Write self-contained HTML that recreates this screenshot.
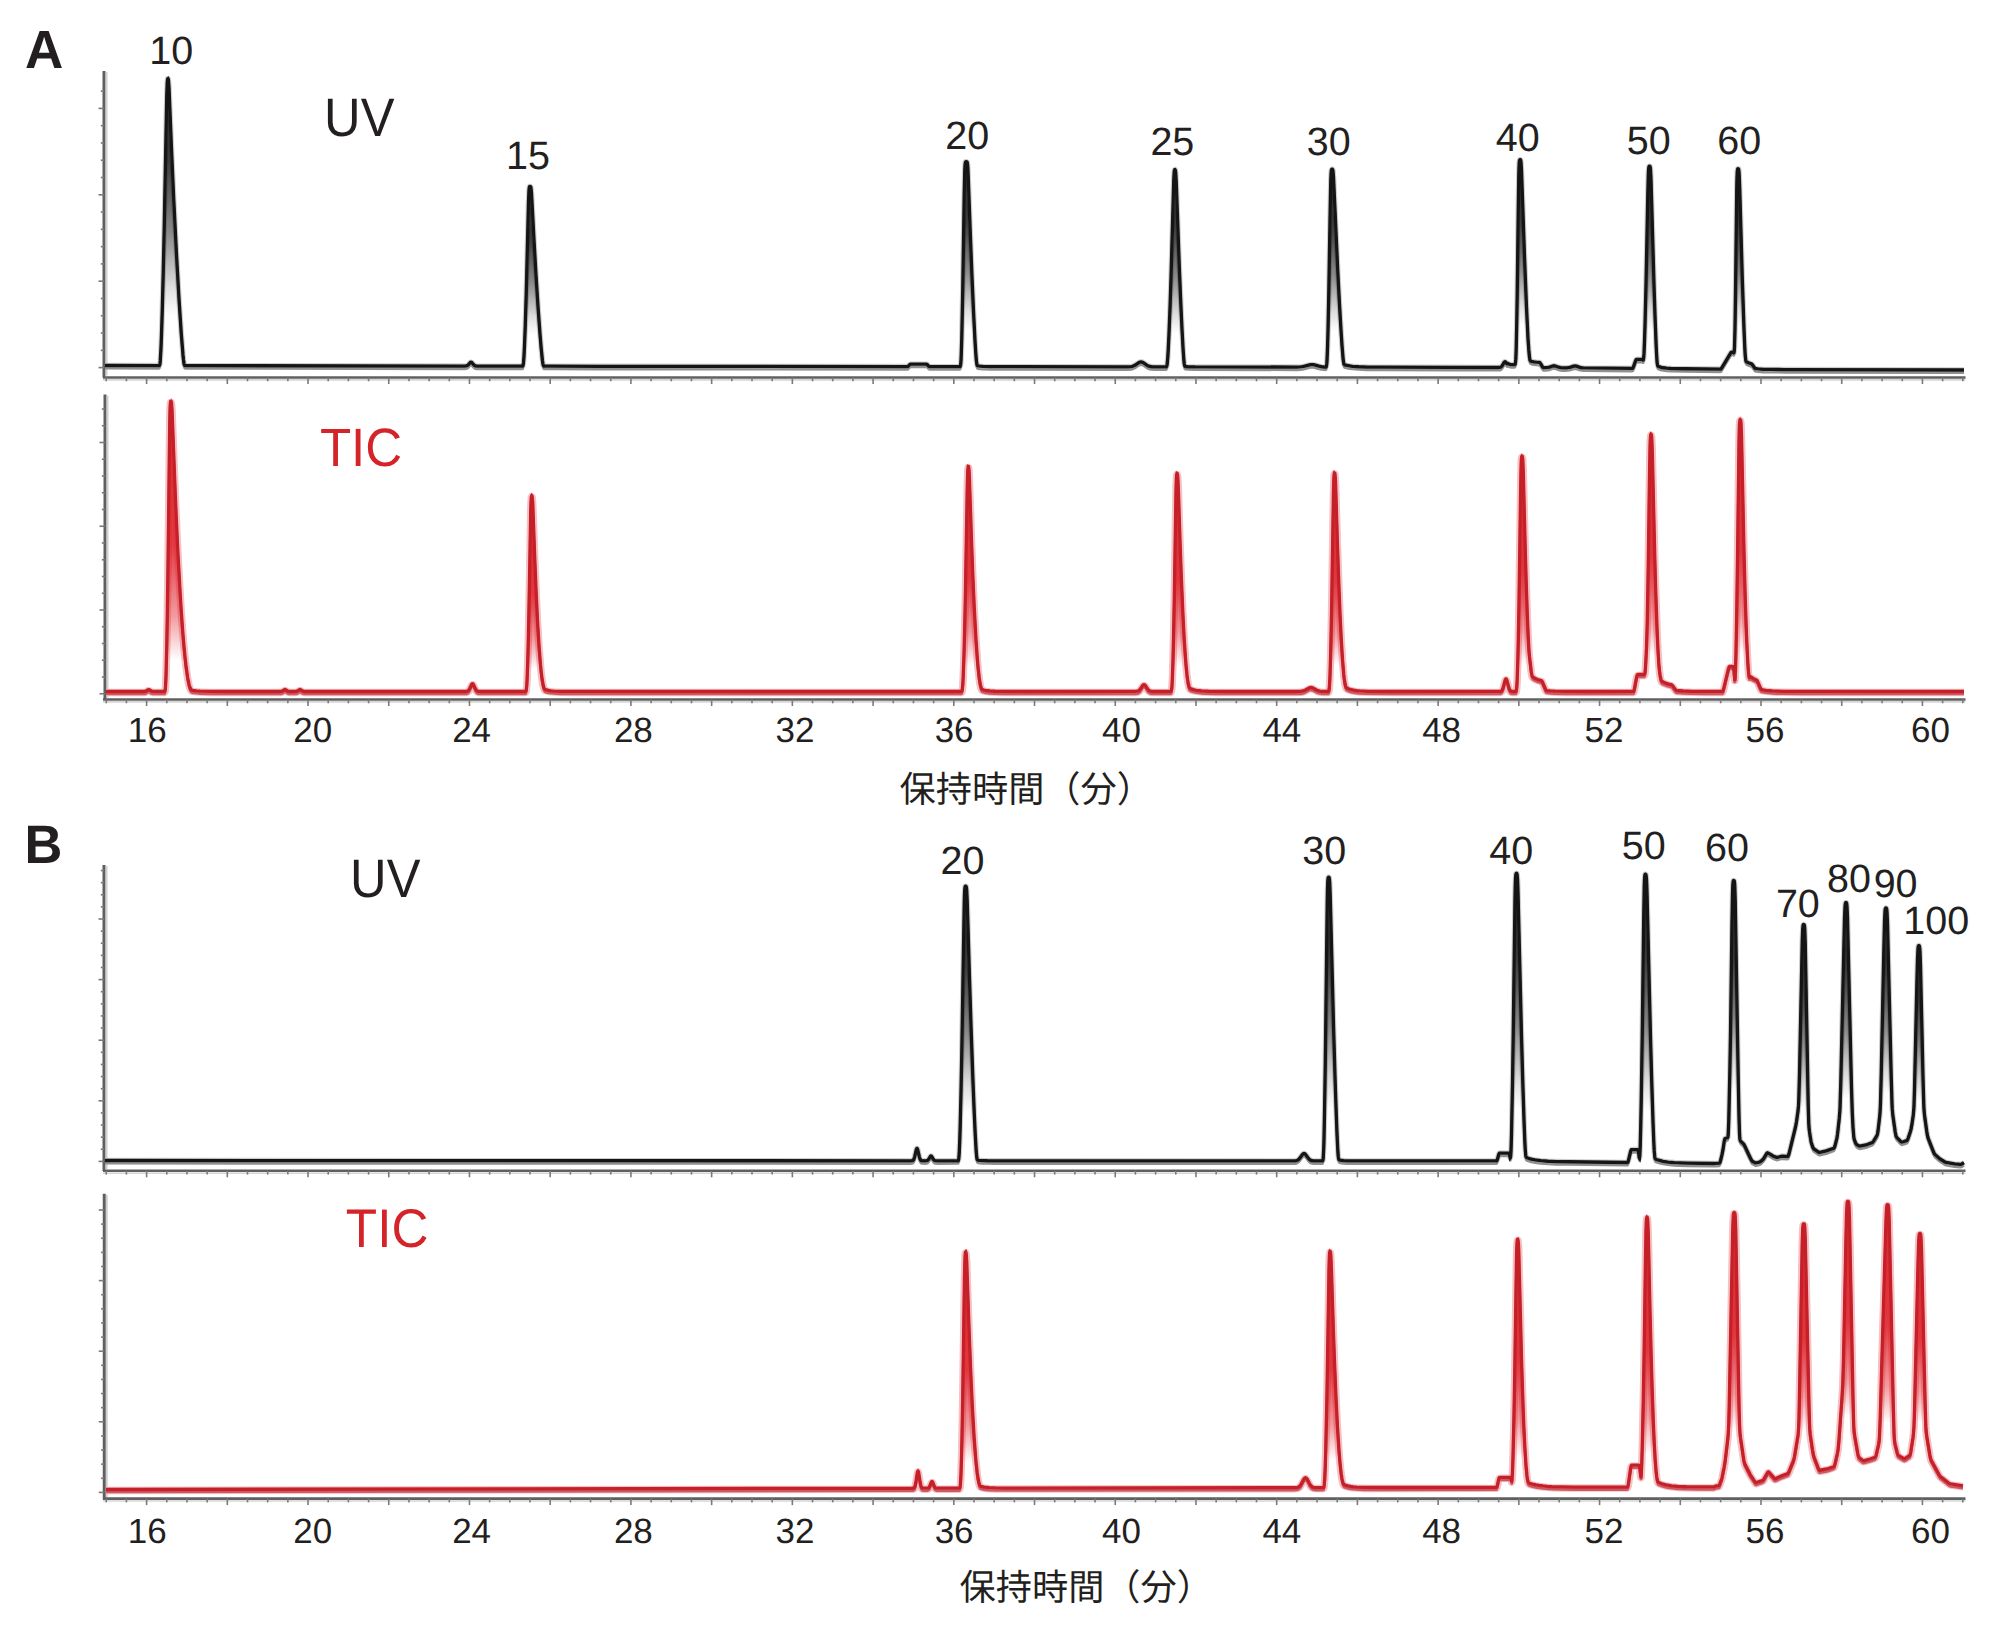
<!DOCTYPE html>
<html><head><meta charset="utf-8"><title>Chromatogram UV / TIC</title>
<style>
html,body{margin:0;padding:0;background:#fff;overflow:hidden;}
svg{display:block;}
text{text-rendering:geometricPrecision;}
.t,.tb{font-family:"Liberation Sans",sans-serif;fill:#231f20;}
.tb{font-weight:bold;}
.tj{font-family:"Liberation Sans","Noto Sans CJK JP",sans-serif;fill:#231f20;}
</style></head>
<body><svg width="2000" height="1640" viewBox="0 0 2000 1640">
<defs><linearGradient id="g1" x1="0" y1="0" x2="0" y2="1"><stop offset="0" stop-color="#2a2a2a" stop-opacity="1"/><stop offset="0.3" stop-color="#2a2a2a" stop-opacity="0.9"/><stop offset="0.55" stop-color="#2a2a2a" stop-opacity="0.55"/><stop offset="0.75" stop-color="#2a2a2a" stop-opacity="0.15"/><stop offset="0.85" stop-color="#2a2a2a" stop-opacity="0"/></linearGradient><linearGradient id="g2" x1="0" y1="0" x2="0" y2="1"><stop offset="0" stop-color="#2a2a2a" stop-opacity="1"/><stop offset="0.3" stop-color="#2a2a2a" stop-opacity="0.9"/><stop offset="0.55" stop-color="#2a2a2a" stop-opacity="0.55"/><stop offset="0.75" stop-color="#2a2a2a" stop-opacity="0.15"/><stop offset="0.85" stop-color="#2a2a2a" stop-opacity="0"/></linearGradient><linearGradient id="g3" x1="0" y1="0" x2="0" y2="1"><stop offset="0" stop-color="#2a2a2a" stop-opacity="1"/><stop offset="0.3" stop-color="#2a2a2a" stop-opacity="0.9"/><stop offset="0.55" stop-color="#2a2a2a" stop-opacity="0.55"/><stop offset="0.75" stop-color="#2a2a2a" stop-opacity="0.15"/><stop offset="0.85" stop-color="#2a2a2a" stop-opacity="0"/></linearGradient><linearGradient id="g4" x1="0" y1="0" x2="0" y2="1"><stop offset="0" stop-color="#2a2a2a" stop-opacity="1"/><stop offset="0.3" stop-color="#2a2a2a" stop-opacity="0.9"/><stop offset="0.55" stop-color="#2a2a2a" stop-opacity="0.55"/><stop offset="0.75" stop-color="#2a2a2a" stop-opacity="0.15"/><stop offset="0.85" stop-color="#2a2a2a" stop-opacity="0"/></linearGradient><linearGradient id="g5" x1="0" y1="0" x2="0" y2="1"><stop offset="0" stop-color="#2a2a2a" stop-opacity="1"/><stop offset="0.3" stop-color="#2a2a2a" stop-opacity="0.9"/><stop offset="0.55" stop-color="#2a2a2a" stop-opacity="0.55"/><stop offset="0.75" stop-color="#2a2a2a" stop-opacity="0.15"/><stop offset="0.85" stop-color="#2a2a2a" stop-opacity="0"/></linearGradient><linearGradient id="g6" x1="0" y1="0" x2="0" y2="1"><stop offset="0" stop-color="#2a2a2a" stop-opacity="1"/><stop offset="0.3" stop-color="#2a2a2a" stop-opacity="0.9"/><stop offset="0.55" stop-color="#2a2a2a" stop-opacity="0.55"/><stop offset="0.75" stop-color="#2a2a2a" stop-opacity="0.15"/><stop offset="0.85" stop-color="#2a2a2a" stop-opacity="0"/></linearGradient><linearGradient id="g7" x1="0" y1="0" x2="0" y2="1"><stop offset="0" stop-color="#2a2a2a" stop-opacity="1"/><stop offset="0.3" stop-color="#2a2a2a" stop-opacity="0.9"/><stop offset="0.55" stop-color="#2a2a2a" stop-opacity="0.55"/><stop offset="0.75" stop-color="#2a2a2a" stop-opacity="0.15"/><stop offset="0.85" stop-color="#2a2a2a" stop-opacity="0"/></linearGradient><linearGradient id="g8" x1="0" y1="0" x2="0" y2="1"><stop offset="0" stop-color="#2a2a2a" stop-opacity="1"/><stop offset="0.3" stop-color="#2a2a2a" stop-opacity="0.9"/><stop offset="0.55" stop-color="#2a2a2a" stop-opacity="0.55"/><stop offset="0.75" stop-color="#2a2a2a" stop-opacity="0.15"/><stop offset="0.85" stop-color="#2a2a2a" stop-opacity="0"/></linearGradient><linearGradient id="g9" x1="0" y1="0" x2="0" y2="1"><stop offset="0" stop-color="#e0262f" stop-opacity="1"/><stop offset="0.5" stop-color="#e0262f" stop-opacity="0.9"/><stop offset="0.75" stop-color="#e0262f" stop-opacity="0.45"/><stop offset="0.9" stop-color="#e0262f" stop-opacity="0"/></linearGradient><linearGradient id="g10" x1="0" y1="0" x2="0" y2="1"><stop offset="0" stop-color="#e0262f" stop-opacity="1"/><stop offset="0.5" stop-color="#e0262f" stop-opacity="0.9"/><stop offset="0.75" stop-color="#e0262f" stop-opacity="0.45"/><stop offset="0.9" stop-color="#e0262f" stop-opacity="0"/></linearGradient><linearGradient id="g11" x1="0" y1="0" x2="0" y2="1"><stop offset="0" stop-color="#e0262f" stop-opacity="1"/><stop offset="0.5" stop-color="#e0262f" stop-opacity="0.9"/><stop offset="0.75" stop-color="#e0262f" stop-opacity="0.45"/><stop offset="0.9" stop-color="#e0262f" stop-opacity="0"/></linearGradient><linearGradient id="g12" x1="0" y1="0" x2="0" y2="1"><stop offset="0" stop-color="#e0262f" stop-opacity="1"/><stop offset="0.5" stop-color="#e0262f" stop-opacity="0.9"/><stop offset="0.75" stop-color="#e0262f" stop-opacity="0.45"/><stop offset="0.9" stop-color="#e0262f" stop-opacity="0"/></linearGradient><linearGradient id="g13" x1="0" y1="0" x2="0" y2="1"><stop offset="0" stop-color="#e0262f" stop-opacity="1"/><stop offset="0.5" stop-color="#e0262f" stop-opacity="0.9"/><stop offset="0.75" stop-color="#e0262f" stop-opacity="0.45"/><stop offset="0.9" stop-color="#e0262f" stop-opacity="0"/></linearGradient><linearGradient id="g14" x1="0" y1="0" x2="0" y2="1"><stop offset="0" stop-color="#e0262f" stop-opacity="1"/><stop offset="0.5" stop-color="#e0262f" stop-opacity="0.9"/><stop offset="0.75" stop-color="#e0262f" stop-opacity="0.45"/><stop offset="0.9" stop-color="#e0262f" stop-opacity="0"/></linearGradient><linearGradient id="g15" x1="0" y1="0" x2="0" y2="1"><stop offset="0" stop-color="#e0262f" stop-opacity="1"/><stop offset="0.5" stop-color="#e0262f" stop-opacity="0.9"/><stop offset="0.75" stop-color="#e0262f" stop-opacity="0.45"/><stop offset="0.9" stop-color="#e0262f" stop-opacity="0"/></linearGradient><linearGradient id="g16" x1="0" y1="0" x2="0" y2="1"><stop offset="0" stop-color="#e0262f" stop-opacity="1"/><stop offset="0.5" stop-color="#e0262f" stop-opacity="0.9"/><stop offset="0.75" stop-color="#e0262f" stop-opacity="0.45"/><stop offset="0.9" stop-color="#e0262f" stop-opacity="0"/></linearGradient><linearGradient id="g17" x1="0" y1="0" x2="0" y2="1"><stop offset="0" stop-color="#2a2a2a" stop-opacity="1"/><stop offset="0.3" stop-color="#2a2a2a" stop-opacity="0.9"/><stop offset="0.55" stop-color="#2a2a2a" stop-opacity="0.55"/><stop offset="0.75" stop-color="#2a2a2a" stop-opacity="0.15"/><stop offset="0.85" stop-color="#2a2a2a" stop-opacity="0"/></linearGradient><linearGradient id="g18" x1="0" y1="0" x2="0" y2="1"><stop offset="0" stop-color="#2a2a2a" stop-opacity="1"/><stop offset="0.3" stop-color="#2a2a2a" stop-opacity="0.9"/><stop offset="0.55" stop-color="#2a2a2a" stop-opacity="0.55"/><stop offset="0.75" stop-color="#2a2a2a" stop-opacity="0.15"/><stop offset="0.85" stop-color="#2a2a2a" stop-opacity="0"/></linearGradient><linearGradient id="g19" x1="0" y1="0" x2="0" y2="1"><stop offset="0" stop-color="#2a2a2a" stop-opacity="1"/><stop offset="0.3" stop-color="#2a2a2a" stop-opacity="0.9"/><stop offset="0.55" stop-color="#2a2a2a" stop-opacity="0.55"/><stop offset="0.75" stop-color="#2a2a2a" stop-opacity="0.15"/><stop offset="0.85" stop-color="#2a2a2a" stop-opacity="0"/></linearGradient><linearGradient id="g20" x1="0" y1="0" x2="0" y2="1"><stop offset="0" stop-color="#2a2a2a" stop-opacity="1"/><stop offset="0.3" stop-color="#2a2a2a" stop-opacity="0.9"/><stop offset="0.55" stop-color="#2a2a2a" stop-opacity="0.55"/><stop offset="0.75" stop-color="#2a2a2a" stop-opacity="0.15"/><stop offset="0.85" stop-color="#2a2a2a" stop-opacity="0"/></linearGradient><linearGradient id="g21" x1="0" y1="0" x2="0" y2="1"><stop offset="0" stop-color="#2a2a2a" stop-opacity="1"/><stop offset="0.3" stop-color="#2a2a2a" stop-opacity="0.9"/><stop offset="0.55" stop-color="#2a2a2a" stop-opacity="0.55"/><stop offset="0.75" stop-color="#2a2a2a" stop-opacity="0.15"/><stop offset="0.85" stop-color="#2a2a2a" stop-opacity="0"/></linearGradient><linearGradient id="g22" x1="0" y1="0" x2="0" y2="1"><stop offset="0" stop-color="#2a2a2a" stop-opacity="1"/><stop offset="0.3" stop-color="#2a2a2a" stop-opacity="0.9"/><stop offset="0.55" stop-color="#2a2a2a" stop-opacity="0.55"/><stop offset="0.75" stop-color="#2a2a2a" stop-opacity="0.15"/><stop offset="0.85" stop-color="#2a2a2a" stop-opacity="0"/></linearGradient><linearGradient id="g23" x1="0" y1="0" x2="0" y2="1"><stop offset="0" stop-color="#2a2a2a" stop-opacity="1"/><stop offset="0.3" stop-color="#2a2a2a" stop-opacity="0.9"/><stop offset="0.55" stop-color="#2a2a2a" stop-opacity="0.55"/><stop offset="0.75" stop-color="#2a2a2a" stop-opacity="0.15"/><stop offset="0.85" stop-color="#2a2a2a" stop-opacity="0"/></linearGradient><linearGradient id="g24" x1="0" y1="0" x2="0" y2="1"><stop offset="0" stop-color="#2a2a2a" stop-opacity="1"/><stop offset="0.3" stop-color="#2a2a2a" stop-opacity="0.9"/><stop offset="0.55" stop-color="#2a2a2a" stop-opacity="0.55"/><stop offset="0.75" stop-color="#2a2a2a" stop-opacity="0.15"/><stop offset="0.85" stop-color="#2a2a2a" stop-opacity="0"/></linearGradient><linearGradient id="g25" x1="0" y1="0" x2="0" y2="1"><stop offset="0" stop-color="#2a2a2a" stop-opacity="1"/><stop offset="0.3" stop-color="#2a2a2a" stop-opacity="0.9"/><stop offset="0.55" stop-color="#2a2a2a" stop-opacity="0.55"/><stop offset="0.75" stop-color="#2a2a2a" stop-opacity="0.15"/><stop offset="0.85" stop-color="#2a2a2a" stop-opacity="0"/></linearGradient><linearGradient id="g26" x1="0" y1="0" x2="0" y2="1"><stop offset="0" stop-color="#e0262f" stop-opacity="1"/><stop offset="0.5" stop-color="#e0262f" stop-opacity="0.9"/><stop offset="0.75" stop-color="#e0262f" stop-opacity="0.45"/><stop offset="0.9" stop-color="#e0262f" stop-opacity="0"/></linearGradient><linearGradient id="g27" x1="0" y1="0" x2="0" y2="1"><stop offset="0" stop-color="#e0262f" stop-opacity="1"/><stop offset="0.5" stop-color="#e0262f" stop-opacity="0.9"/><stop offset="0.75" stop-color="#e0262f" stop-opacity="0.45"/><stop offset="0.9" stop-color="#e0262f" stop-opacity="0"/></linearGradient><linearGradient id="g28" x1="0" y1="0" x2="0" y2="1"><stop offset="0" stop-color="#e0262f" stop-opacity="1"/><stop offset="0.5" stop-color="#e0262f" stop-opacity="0.9"/><stop offset="0.75" stop-color="#e0262f" stop-opacity="0.45"/><stop offset="0.9" stop-color="#e0262f" stop-opacity="0"/></linearGradient><linearGradient id="g29" x1="0" y1="0" x2="0" y2="1"><stop offset="0" stop-color="#e0262f" stop-opacity="1"/><stop offset="0.5" stop-color="#e0262f" stop-opacity="0.9"/><stop offset="0.75" stop-color="#e0262f" stop-opacity="0.45"/><stop offset="0.9" stop-color="#e0262f" stop-opacity="0"/></linearGradient><linearGradient id="g30" x1="0" y1="0" x2="0" y2="1"><stop offset="0" stop-color="#e0262f" stop-opacity="1"/><stop offset="0.5" stop-color="#e0262f" stop-opacity="0.9"/><stop offset="0.75" stop-color="#e0262f" stop-opacity="0.45"/><stop offset="0.9" stop-color="#e0262f" stop-opacity="0"/></linearGradient><linearGradient id="g31" x1="0" y1="0" x2="0" y2="1"><stop offset="0" stop-color="#e0262f" stop-opacity="1"/><stop offset="0.5" stop-color="#e0262f" stop-opacity="0.9"/><stop offset="0.75" stop-color="#e0262f" stop-opacity="0.45"/><stop offset="0.9" stop-color="#e0262f" stop-opacity="0"/></linearGradient><linearGradient id="g32" x1="0" y1="0" x2="0" y2="1"><stop offset="0" stop-color="#e0262f" stop-opacity="1"/><stop offset="0.5" stop-color="#e0262f" stop-opacity="0.9"/><stop offset="0.75" stop-color="#e0262f" stop-opacity="0.45"/><stop offset="0.9" stop-color="#e0262f" stop-opacity="0"/></linearGradient><linearGradient id="g33" x1="0" y1="0" x2="0" y2="1"><stop offset="0" stop-color="#e0262f" stop-opacity="1"/><stop offset="0.5" stop-color="#e0262f" stop-opacity="0.9"/><stop offset="0.75" stop-color="#e0262f" stop-opacity="0.45"/><stop offset="0.9" stop-color="#e0262f" stop-opacity="0"/></linearGradient><linearGradient id="g34" x1="0" y1="0" x2="0" y2="1"><stop offset="0" stop-color="#e0262f" stop-opacity="1"/><stop offset="0.5" stop-color="#e0262f" stop-opacity="0.9"/><stop offset="0.75" stop-color="#e0262f" stop-opacity="0.45"/><stop offset="0.9" stop-color="#e0262f" stop-opacity="0"/></linearGradient></defs>
<rect width="2000" height="1640" fill="#fff"/>
<line x1="104" y1="71" x2="104" y2="377.5" stroke="#5f5f5f" stroke-width="3"/>
<line x1="106.6" y1="72" x2="106.6" y2="375.5" stroke="#cfcfcf" stroke-width="1.8"/>
<line x1="100.80" y1="91.12" x2="104" y2="91.12" stroke="#7a7a7a" stroke-width="1.6"/>
<line x1="98.50" y1="108.40" x2="104" y2="108.40" stroke="#7a7a7a" stroke-width="1.6"/>
<line x1="100.80" y1="125.68" x2="104" y2="125.68" stroke="#7a7a7a" stroke-width="1.6"/>
<line x1="100.80" y1="142.96" x2="104" y2="142.96" stroke="#7a7a7a" stroke-width="1.6"/>
<line x1="100.80" y1="160.24" x2="104" y2="160.24" stroke="#7a7a7a" stroke-width="1.6"/>
<line x1="100.80" y1="177.52" x2="104" y2="177.52" stroke="#7a7a7a" stroke-width="1.6"/>
<line x1="98.50" y1="194.80" x2="104" y2="194.80" stroke="#7a7a7a" stroke-width="1.6"/>
<line x1="100.80" y1="212.08" x2="104" y2="212.08" stroke="#7a7a7a" stroke-width="1.6"/>
<line x1="100.80" y1="229.36" x2="104" y2="229.36" stroke="#7a7a7a" stroke-width="1.6"/>
<line x1="100.80" y1="246.64" x2="104" y2="246.64" stroke="#7a7a7a" stroke-width="1.6"/>
<line x1="100.80" y1="263.92" x2="104" y2="263.92" stroke="#7a7a7a" stroke-width="1.6"/>
<line x1="98.50" y1="281.20" x2="104" y2="281.20" stroke="#7a7a7a" stroke-width="1.6"/>
<line x1="100.80" y1="298.48" x2="104" y2="298.48" stroke="#7a7a7a" stroke-width="1.6"/>
<line x1="100.80" y1="315.76" x2="104" y2="315.76" stroke="#7a7a7a" stroke-width="1.6"/>
<line x1="100.80" y1="333.04" x2="104" y2="333.04" stroke="#7a7a7a" stroke-width="1.6"/>
<line x1="100.80" y1="350.32" x2="104" y2="350.32" stroke="#7a7a7a" stroke-width="1.6"/>
<line x1="98.50" y1="367.60" x2="104" y2="367.60" stroke="#7a7a7a" stroke-width="1.6"/>
<line x1="103" y1="377.5" x2="1965.5" y2="377.5" stroke="#5f5f5f" stroke-width="2.6"/>
<line x1="103" y1="379.9" x2="1965.5" y2="379.9" stroke="#d6d6d6" stroke-width="1.6"/>
<line x1="106.24" y1="377.5" x2="106.24" y2="381.3" stroke="#7a7a7a" stroke-width="1.6"/>
<line x1="126.42" y1="377.5" x2="126.42" y2="381.3" stroke="#7a7a7a" stroke-width="1.6"/>
<line x1="146.60" y1="377.5" x2="146.60" y2="384.0" stroke="#7a7a7a" stroke-width="1.6"/>
<line x1="166.78" y1="377.5" x2="166.78" y2="381.3" stroke="#7a7a7a" stroke-width="1.6"/>
<line x1="186.96" y1="377.5" x2="186.96" y2="381.3" stroke="#7a7a7a" stroke-width="1.6"/>
<line x1="207.14" y1="377.5" x2="207.14" y2="381.3" stroke="#7a7a7a" stroke-width="1.6"/>
<line x1="227.32" y1="377.5" x2="227.32" y2="384.0" stroke="#7a7a7a" stroke-width="1.6"/>
<line x1="247.50" y1="377.5" x2="247.50" y2="381.3" stroke="#7a7a7a" stroke-width="1.6"/>
<line x1="267.68" y1="377.5" x2="267.68" y2="381.3" stroke="#7a7a7a" stroke-width="1.6"/>
<line x1="287.86" y1="377.5" x2="287.86" y2="381.3" stroke="#7a7a7a" stroke-width="1.6"/>
<line x1="308.04" y1="377.5" x2="308.04" y2="384.0" stroke="#7a7a7a" stroke-width="1.6"/>
<line x1="328.22" y1="377.5" x2="328.22" y2="381.3" stroke="#7a7a7a" stroke-width="1.6"/>
<line x1="348.40" y1="377.5" x2="348.40" y2="381.3" stroke="#7a7a7a" stroke-width="1.6"/>
<line x1="368.58" y1="377.5" x2="368.58" y2="381.3" stroke="#7a7a7a" stroke-width="1.6"/>
<line x1="388.76" y1="377.5" x2="388.76" y2="384.0" stroke="#7a7a7a" stroke-width="1.6"/>
<line x1="408.94" y1="377.5" x2="408.94" y2="381.3" stroke="#7a7a7a" stroke-width="1.6"/>
<line x1="429.12" y1="377.5" x2="429.12" y2="381.3" stroke="#7a7a7a" stroke-width="1.6"/>
<line x1="449.30" y1="377.5" x2="449.30" y2="381.3" stroke="#7a7a7a" stroke-width="1.6"/>
<line x1="469.48" y1="377.5" x2="469.48" y2="384.0" stroke="#7a7a7a" stroke-width="1.6"/>
<line x1="489.66" y1="377.5" x2="489.66" y2="381.3" stroke="#7a7a7a" stroke-width="1.6"/>
<line x1="509.84" y1="377.5" x2="509.84" y2="381.3" stroke="#7a7a7a" stroke-width="1.6"/>
<line x1="530.02" y1="377.5" x2="530.02" y2="381.3" stroke="#7a7a7a" stroke-width="1.6"/>
<line x1="550.20" y1="377.5" x2="550.20" y2="384.0" stroke="#7a7a7a" stroke-width="1.6"/>
<line x1="570.38" y1="377.5" x2="570.38" y2="381.3" stroke="#7a7a7a" stroke-width="1.6"/>
<line x1="590.56" y1="377.5" x2="590.56" y2="381.3" stroke="#7a7a7a" stroke-width="1.6"/>
<line x1="610.74" y1="377.5" x2="610.74" y2="381.3" stroke="#7a7a7a" stroke-width="1.6"/>
<line x1="630.92" y1="377.5" x2="630.92" y2="384.0" stroke="#7a7a7a" stroke-width="1.6"/>
<line x1="651.10" y1="377.5" x2="651.10" y2="381.3" stroke="#7a7a7a" stroke-width="1.6"/>
<line x1="671.28" y1="377.5" x2="671.28" y2="381.3" stroke="#7a7a7a" stroke-width="1.6"/>
<line x1="691.46" y1="377.5" x2="691.46" y2="381.3" stroke="#7a7a7a" stroke-width="1.6"/>
<line x1="711.64" y1="377.5" x2="711.64" y2="384.0" stroke="#7a7a7a" stroke-width="1.6"/>
<line x1="731.82" y1="377.5" x2="731.82" y2="381.3" stroke="#7a7a7a" stroke-width="1.6"/>
<line x1="752.00" y1="377.5" x2="752.00" y2="381.3" stroke="#7a7a7a" stroke-width="1.6"/>
<line x1="772.18" y1="377.5" x2="772.18" y2="381.3" stroke="#7a7a7a" stroke-width="1.6"/>
<line x1="792.36" y1="377.5" x2="792.36" y2="384.0" stroke="#7a7a7a" stroke-width="1.6"/>
<line x1="812.54" y1="377.5" x2="812.54" y2="381.3" stroke="#7a7a7a" stroke-width="1.6"/>
<line x1="832.72" y1="377.5" x2="832.72" y2="381.3" stroke="#7a7a7a" stroke-width="1.6"/>
<line x1="852.90" y1="377.5" x2="852.90" y2="381.3" stroke="#7a7a7a" stroke-width="1.6"/>
<line x1="873.08" y1="377.5" x2="873.08" y2="384.0" stroke="#7a7a7a" stroke-width="1.6"/>
<line x1="893.26" y1="377.5" x2="893.26" y2="381.3" stroke="#7a7a7a" stroke-width="1.6"/>
<line x1="913.44" y1="377.5" x2="913.44" y2="381.3" stroke="#7a7a7a" stroke-width="1.6"/>
<line x1="933.62" y1="377.5" x2="933.62" y2="381.3" stroke="#7a7a7a" stroke-width="1.6"/>
<line x1="953.80" y1="377.5" x2="953.80" y2="384.0" stroke="#7a7a7a" stroke-width="1.6"/>
<line x1="973.98" y1="377.5" x2="973.98" y2="381.3" stroke="#7a7a7a" stroke-width="1.6"/>
<line x1="994.16" y1="377.5" x2="994.16" y2="381.3" stroke="#7a7a7a" stroke-width="1.6"/>
<line x1="1014.34" y1="377.5" x2="1014.34" y2="381.3" stroke="#7a7a7a" stroke-width="1.6"/>
<line x1="1034.52" y1="377.5" x2="1034.52" y2="384.0" stroke="#7a7a7a" stroke-width="1.6"/>
<line x1="1054.70" y1="377.5" x2="1054.70" y2="381.3" stroke="#7a7a7a" stroke-width="1.6"/>
<line x1="1074.88" y1="377.5" x2="1074.88" y2="381.3" stroke="#7a7a7a" stroke-width="1.6"/>
<line x1="1095.06" y1="377.5" x2="1095.06" y2="381.3" stroke="#7a7a7a" stroke-width="1.6"/>
<line x1="1115.24" y1="377.5" x2="1115.24" y2="384.0" stroke="#7a7a7a" stroke-width="1.6"/>
<line x1="1135.42" y1="377.5" x2="1135.42" y2="381.3" stroke="#7a7a7a" stroke-width="1.6"/>
<line x1="1155.60" y1="377.5" x2="1155.60" y2="381.3" stroke="#7a7a7a" stroke-width="1.6"/>
<line x1="1175.78" y1="377.5" x2="1175.78" y2="381.3" stroke="#7a7a7a" stroke-width="1.6"/>
<line x1="1195.96" y1="377.5" x2="1195.96" y2="384.0" stroke="#7a7a7a" stroke-width="1.6"/>
<line x1="1216.14" y1="377.5" x2="1216.14" y2="381.3" stroke="#7a7a7a" stroke-width="1.6"/>
<line x1="1236.32" y1="377.5" x2="1236.32" y2="381.3" stroke="#7a7a7a" stroke-width="1.6"/>
<line x1="1256.50" y1="377.5" x2="1256.50" y2="381.3" stroke="#7a7a7a" stroke-width="1.6"/>
<line x1="1276.68" y1="377.5" x2="1276.68" y2="384.0" stroke="#7a7a7a" stroke-width="1.6"/>
<line x1="1296.86" y1="377.5" x2="1296.86" y2="381.3" stroke="#7a7a7a" stroke-width="1.6"/>
<line x1="1317.04" y1="377.5" x2="1317.04" y2="381.3" stroke="#7a7a7a" stroke-width="1.6"/>
<line x1="1337.22" y1="377.5" x2="1337.22" y2="381.3" stroke="#7a7a7a" stroke-width="1.6"/>
<line x1="1357.40" y1="377.5" x2="1357.40" y2="384.0" stroke="#7a7a7a" stroke-width="1.6"/>
<line x1="1377.58" y1="377.5" x2="1377.58" y2="381.3" stroke="#7a7a7a" stroke-width="1.6"/>
<line x1="1397.76" y1="377.5" x2="1397.76" y2="381.3" stroke="#7a7a7a" stroke-width="1.6"/>
<line x1="1417.94" y1="377.5" x2="1417.94" y2="381.3" stroke="#7a7a7a" stroke-width="1.6"/>
<line x1="1438.12" y1="377.5" x2="1438.12" y2="384.0" stroke="#7a7a7a" stroke-width="1.6"/>
<line x1="1458.30" y1="377.5" x2="1458.30" y2="381.3" stroke="#7a7a7a" stroke-width="1.6"/>
<line x1="1478.48" y1="377.5" x2="1478.48" y2="381.3" stroke="#7a7a7a" stroke-width="1.6"/>
<line x1="1498.66" y1="377.5" x2="1498.66" y2="381.3" stroke="#7a7a7a" stroke-width="1.6"/>
<line x1="1518.84" y1="377.5" x2="1518.84" y2="384.0" stroke="#7a7a7a" stroke-width="1.6"/>
<line x1="1539.02" y1="377.5" x2="1539.02" y2="381.3" stroke="#7a7a7a" stroke-width="1.6"/>
<line x1="1559.20" y1="377.5" x2="1559.20" y2="381.3" stroke="#7a7a7a" stroke-width="1.6"/>
<line x1="1579.38" y1="377.5" x2="1579.38" y2="381.3" stroke="#7a7a7a" stroke-width="1.6"/>
<line x1="1599.56" y1="377.5" x2="1599.56" y2="384.0" stroke="#7a7a7a" stroke-width="1.6"/>
<line x1="1619.74" y1="377.5" x2="1619.74" y2="381.3" stroke="#7a7a7a" stroke-width="1.6"/>
<line x1="1639.92" y1="377.5" x2="1639.92" y2="381.3" stroke="#7a7a7a" stroke-width="1.6"/>
<line x1="1660.10" y1="377.5" x2="1660.10" y2="381.3" stroke="#7a7a7a" stroke-width="1.6"/>
<line x1="1680.28" y1="377.5" x2="1680.28" y2="384.0" stroke="#7a7a7a" stroke-width="1.6"/>
<line x1="1700.46" y1="377.5" x2="1700.46" y2="381.3" stroke="#7a7a7a" stroke-width="1.6"/>
<line x1="1720.64" y1="377.5" x2="1720.64" y2="381.3" stroke="#7a7a7a" stroke-width="1.6"/>
<line x1="1740.82" y1="377.5" x2="1740.82" y2="381.3" stroke="#7a7a7a" stroke-width="1.6"/>
<line x1="1761.00" y1="377.5" x2="1761.00" y2="384.0" stroke="#7a7a7a" stroke-width="1.6"/>
<line x1="1781.18" y1="377.5" x2="1781.18" y2="381.3" stroke="#7a7a7a" stroke-width="1.6"/>
<line x1="1801.36" y1="377.5" x2="1801.36" y2="381.3" stroke="#7a7a7a" stroke-width="1.6"/>
<line x1="1821.54" y1="377.5" x2="1821.54" y2="381.3" stroke="#7a7a7a" stroke-width="1.6"/>
<line x1="1841.72" y1="377.5" x2="1841.72" y2="384.0" stroke="#7a7a7a" stroke-width="1.6"/>
<line x1="1861.90" y1="377.5" x2="1861.90" y2="381.3" stroke="#7a7a7a" stroke-width="1.6"/>
<line x1="1882.08" y1="377.5" x2="1882.08" y2="381.3" stroke="#7a7a7a" stroke-width="1.6"/>
<line x1="1902.26" y1="377.5" x2="1902.26" y2="381.3" stroke="#7a7a7a" stroke-width="1.6"/>
<line x1="1922.44" y1="377.5" x2="1922.44" y2="384.0" stroke="#7a7a7a" stroke-width="1.6"/>
<line x1="1942.62" y1="377.5" x2="1942.62" y2="381.3" stroke="#7a7a7a" stroke-width="1.6"/>
<line x1="1962.80" y1="377.5" x2="1962.80" y2="381.3" stroke="#7a7a7a" stroke-width="1.6"/>
<path d="M105.00 365.50 L158.75 365.58 L159.25 365.49 L159.50 365.24 L159.75 364.59 L160.00 363.25 L160.25 360.93 L161.00 347.69 L161.50 334.69 L162.25 310.69 L163.25 271.93 L164.25 226.68 L166.75 96.10 L167.25 82.34 L167.50 79.70 L167.75 78.70 L168.00 78.55 L168.25 79.04 L168.50 80.41 L169.00 87.31 L171.50 149.04 L173.75 199.46 L176.50 254.53 L179.00 298.83 L181.25 333.27 L183.00 354.97 L183.50 359.79 L184.00 363.33 L184.25 364.42 L184.50 365.07 L184.75 365.38 L185.25 365.55 L198.75 365.65 L464.50 366.07 L466.25 365.94 L467.25 365.58 L468.25 364.79 L470.00 362.73 L470.50 362.35 L471.00 362.21 L471.50 362.35 L472.00 362.74 L473.75 364.80 L474.50 365.44 L475.50 365.89 L476.50 366.05 L521.50 366.17 L522.50 366.11 L522.75 365.93 L523.00 365.44 L523.25 364.38 L523.50 362.48 L524.00 355.80 L524.50 345.72 L525.25 326.00 L526.25 293.14 L528.50 201.94 L529.00 190.11 L529.25 187.73 L529.50 186.77 L529.75 186.48 L530.00 186.42 L530.50 186.56 L530.75 186.98 L531.00 188.01 L531.50 193.17 L534.00 240.18 L536.00 274.99 L538.00 306.42 L540.00 334.10 L541.25 348.97 L542.50 360.95 L543.00 364.11 L543.25 365.09 L543.50 365.67 L543.75 365.95 L544.00 366.07 L551.75 366.21 L599.75 366.30 L906.75 366.61 L907.50 366.57 L908.00 366.39 L908.50 365.95 L909.75 364.52 L910.50 364.15 L925.50 364.13 L926.50 364.16 L927.00 364.35 L927.50 364.79 L928.75 366.22 L929.25 366.53 L929.75 366.62 L959.75 366.64 L960.00 366.56 L960.25 366.26 L960.50 365.44 L960.75 363.60 L961.00 360.20 L961.25 354.92 L961.75 338.76 L962.75 289.82 L964.25 193.05 L964.75 170.85 L965.00 165.50 L965.25 162.99 L965.50 162.08 L965.75 161.82 L966.25 161.75 L966.75 161.79 L967.00 161.95 L967.25 162.47 L967.50 163.80 L967.75 166.45 L968.00 170.71 L970.50 238.86 L972.00 276.94 L973.50 311.17 L975.00 340.65 L975.75 352.87 L976.50 361.90 L977.00 364.81 L977.25 365.40 L977.75 365.80 L980.00 366.19 L983.00 366.45 L992.25 366.67 L1128.25 366.81 L1131.00 366.62 L1132.25 366.38 L1133.25 366.07 L1135.25 365.06 L1139.00 362.46 L1140.00 362.04 L1141.00 361.89 L1142.00 362.04 L1143.00 362.47 L1146.50 364.91 L1147.75 365.65 L1149.00 366.18 L1150.50 366.57 L1152.00 366.76 L1154.00 366.85 L1165.00 366.89 L1166.00 366.87 L1166.25 366.80 L1166.50 366.59 L1166.75 366.06 L1167.00 365.02 L1167.25 363.28 L1167.75 357.60 L1168.25 349.45 L1169.00 333.88 L1170.00 308.23 L1171.00 277.97 L1173.75 180.42 L1174.00 175.04 L1174.25 171.80 L1174.50 170.23 L1174.75 169.65 L1175.00 169.58 L1175.25 169.91 L1175.50 170.91 L1175.75 173.07 L1176.25 182.13 L1179.25 265.68 L1180.75 302.22 L1182.00 329.11 L1183.00 347.61 L1183.75 358.77 L1184.25 363.69 L1184.50 365.10 L1184.75 365.90 L1185.00 366.28 L1185.50 366.51 L1187.75 366.73 L1195.00 366.92 L1296.75 367.06 L1300.00 366.94 L1302.50 366.67 L1304.75 366.21 L1309.50 364.90 L1310.75 364.69 L1312.00 364.61 L1313.25 364.69 L1314.50 364.91 L1319.00 366.17 L1321.25 366.66 L1324.25 366.99 L1325.50 367.05 L1326.00 366.96 L1326.25 366.64 L1326.50 365.78 L1326.75 363.90 L1327.00 360.54 L1327.50 348.68 L1328.00 330.79 L1328.75 295.78 L1330.25 206.18 L1330.75 181.64 L1331.00 174.72 L1331.25 171.15 L1331.50 169.71 L1331.75 169.27 L1332.00 169.18 L1332.25 169.19 L1332.50 169.34 L1332.75 169.83 L1333.00 171.04 L1333.50 177.09 L1337.75 270.53 L1339.50 304.44 L1341.00 330.25 L1342.00 345.27 L1343.00 357.62 L1343.50 361.86 L1343.75 363.20 L1344.00 364.02 L1344.25 364.46 L1344.50 364.67 L1345.00 364.87 L1347.25 365.43 L1349.75 365.90 L1352.50 366.27 L1358.75 366.76 L1367.25 367.04 L1383.75 367.19 L1450.00 367.30 L1497.25 367.52 L1499.75 367.43 L1500.75 367.11 L1501.25 366.78 L1501.75 366.29 L1502.50 365.20 L1504.00 362.52 L1504.50 361.94 L1504.75 361.79 L1505.00 361.74 L1505.50 361.95 L1506.75 363.60 L1507.00 363.79 L1507.25 363.82 L1508.00 363.52 L1508.25 363.55 L1509.50 364.27 L1510.75 364.54 L1514.75 364.56 L1515.00 364.42 L1515.25 363.92 L1515.50 362.58 L1515.75 359.67 L1516.00 354.52 L1516.25 346.74 L1516.75 323.43 L1517.25 291.32 L1518.25 210.45 L1518.75 176.91 L1519.00 167.36 L1519.25 162.42 L1519.50 160.43 L1519.75 159.82 L1520.00 159.69 L1520.25 159.71 L1520.50 159.90 L1520.75 160.54 L1521.00 162.13 L1521.50 170.07 L1524.50 256.44 L1526.50 307.17 L1528.00 338.44 L1528.75 349.17 L1529.50 357.30 L1530.00 360.12 L1530.25 360.69 L1530.50 360.96 L1531.50 361.34 L1533.75 361.83 L1536.25 362.18 L1539.25 362.44 L1539.75 362.59 L1540.00 362.77 L1540.50 363.38 L1542.50 366.70 L1543.00 367.31 L1543.25 367.47 L1543.75 367.60 L1545.00 367.63 L1547.75 367.47 L1549.50 367.07 L1552.50 366.01 L1554.00 365.79 L1555.50 366.03 L1558.75 367.22 L1560.50 367.61 L1563.00 367.80 L1567.00 367.78 L1569.50 367.47 L1570.75 367.12 L1573.50 366.13 L1575.00 365.91 L1576.50 366.14 L1579.25 367.16 L1580.50 367.53 L1581.75 367.75 L1583.50 367.88 L1632.25 368.28 L1632.75 368.07 L1633.25 367.33 L1635.50 360.92 L1636.00 359.86 L1636.25 359.57 L1636.50 359.43 L1637.00 359.35 L1642.00 359.41 L1642.50 359.56 L1643.00 360.01 L1643.25 359.95 L1643.50 359.11 L1643.75 357.02 L1644.00 353.38 L1644.50 341.61 L1645.00 325.46 L1646.00 285.08 L1647.75 196.78 L1648.25 176.43 L1648.50 170.73 L1648.75 167.79 L1649.00 166.61 L1649.25 166.25 L1649.50 166.18 L1649.75 166.22 L1650.00 166.47 L1650.25 167.27 L1650.50 169.25 L1651.00 179.17 L1654.00 284.85 L1655.00 315.40 L1656.00 341.83 L1656.50 352.73 L1657.00 360.80 L1657.25 363.33 L1657.50 364.88 L1657.75 365.68 L1658.00 366.07 L1658.25 366.26 L1660.50 367.12 L1663.25 367.76 L1666.75 368.21 L1671.00 368.49 L1684.00 368.77 L1720.50 369.08 L1721.00 368.84 L1721.75 367.85 L1730.75 352.78 L1731.25 352.36 L1731.75 352.25 L1733.00 352.27 L1733.25 352.33 L1733.75 352.67 L1734.00 352.52 L1734.25 351.14 L1734.50 347.31 L1735.00 328.53 L1735.50 294.34 L1736.75 188.40 L1737.00 177.49 L1737.25 171.83 L1737.50 169.55 L1737.75 168.84 L1738.00 168.69 L1738.25 168.72 L1738.50 168.96 L1738.75 169.75 L1739.00 171.70 L1739.25 175.50 L1739.75 189.16 L1742.25 277.39 L1744.00 329.17 L1744.75 346.95 L1745.25 355.54 L1745.75 360.17 L1746.00 361.13 L1746.25 361.57 L1746.75 361.93 L1748.50 362.81 L1751.75 364.02 L1752.50 364.81 L1754.50 367.79 L1755.25 368.51 L1756.00 368.72 L1758.00 368.95 L1763.25 369.29 L1771.00 369.47 L1784.25 369.55 L1964.00 370.00" fill="none" stroke="#cdcdcd" stroke-width="5.5" stroke-linejoin="round"/>
<path d="M160.50 357.52 L161.00 347.69 L161.75 327.23 L163.25 271.93 L164.50 214.46 L166.75 96.10 L167.25 82.34 L167.50 79.70 L167.75 78.70 L168.00 78.55 L168.25 79.04 L168.50 80.41 L169.00 87.31 L173.00 183.25 L175.00 225.31 L177.25 268.41 L180.50 322.46 L182.00 343.26 L183.25 357.50 Z" fill="url(#g1)" stroke="none"/>
<path d="M523.75 359.62 L524.75 339.69 L525.75 310.41 L528.75 194.74 L529.25 187.73 L529.50 186.77 L529.75 186.48 L530.00 186.42 L530.50 186.56 L530.75 186.98 L531.00 188.01 L531.50 193.17 L534.75 253.63 L537.50 298.89 L540.25 337.25 L541.50 351.65 L542.50 360.95 Z" fill="url(#g2)" stroke="none"/>
<path d="M961.00 360.20 L961.75 338.76 L962.50 303.71 L964.50 180.04 L965.00 165.50 L965.25 162.99 L965.50 162.08 L965.75 161.82 L966.00 161.76 L966.75 161.79 L967.00 161.95 L967.25 162.47 L967.50 163.80 L967.75 166.45 L968.00 170.71 L970.75 245.45 L972.75 294.57 L974.75 336.14 L975.50 349.05 L976.25 359.42 Z" fill="url(#g3)" stroke="none"/>
<path d="M1167.25 363.28 L1167.75 357.60 L1168.50 344.66 L1170.00 308.23 L1171.50 261.31 L1173.75 180.42 L1174.25 171.80 L1174.50 170.23 L1174.75 169.65 L1175.00 169.58 L1175.25 169.91 L1175.50 170.91 L1175.75 173.07 L1176.25 182.13 L1178.50 245.86 L1180.50 296.44 L1182.25 334.02 L1183.75 358.77 Z" fill="url(#g4)" stroke="none"/>
<path d="M1327.00 360.54 L1327.75 340.38 L1328.50 308.38 L1330.75 181.64 L1331.25 171.15 L1331.50 169.71 L1331.75 169.27 L1332.00 169.18 L1332.50 169.34 L1332.75 169.83 L1333.00 171.04 L1333.50 177.09 L1336.75 249.62 L1339.00 295.13 L1341.25 334.20 L1342.25 348.67 L1343.00 357.62 Z" fill="url(#g5)" stroke="none"/>
<path d="M1516.00 354.52 L1516.50 336.31 L1517.00 308.35 L1518.75 176.91 L1519.25 162.42 L1519.50 160.43 L1519.75 159.82 L1520.00 159.69 L1520.50 159.90 L1520.75 160.54 L1521.00 162.13 L1521.50 170.07 L1524.25 249.58 L1526.25 301.27 L1527.75 334.01 L1528.50 345.93 L1529.25 354.96 Z" fill="url(#g6)" stroke="none"/>
<path d="M1643.50 359.11 L1644.00 353.38 L1644.25 348.18 L1645.25 316.26 L1646.25 273.61 L1647.75 196.78 L1648.25 176.43 L1648.75 167.79 L1649.00 166.61 L1649.25 166.25 L1649.50 166.18 L1649.75 166.22 L1650.00 166.47 L1650.25 167.27 L1650.50 169.25 L1651.00 179.17 L1654.50 300.56 L1655.75 335.70 L1656.75 357.22 Z" fill="url(#g7)" stroke="none"/>
<path d="M1734.50 347.31 L1734.75 339.95 L1735.25 313.14 L1736.75 188.40 L1737.25 171.83 L1737.50 169.55 L1737.75 168.84 L1738.00 168.69 L1738.25 168.72 L1738.50 168.96 L1738.75 169.75 L1739.00 171.70 L1739.50 181.44 L1743.00 300.91 L1744.25 335.53 L1745.25 355.54 Z" fill="url(#g8)" stroke="none"/>
<path d="M105.00 368.40 L158.75 368.48 L159.25 368.39 L159.50 368.14 L159.75 367.49 L160.00 366.15 L160.25 363.83 L161.00 350.59 L161.50 337.59 L162.25 313.59 L163.25 274.83 L164.25 229.58 L166.75 99.00 L167.25 85.24 L167.50 82.60 L167.75 81.60 L168.00 81.45 L168.25 81.94 L168.50 83.31 L169.00 90.21 L171.50 151.94 L173.75 202.36 L176.50 257.43 L179.00 301.73 L181.25 336.17 L183.00 357.87 L183.50 362.69 L184.00 366.23 L184.25 367.32 L184.50 367.97 L184.75 368.28 L185.25 368.45 L198.75 368.55 L464.50 368.97 L466.25 368.84 L467.25 368.48 L468.25 367.69 L470.00 365.63 L470.50 365.25 L471.00 365.11 L471.50 365.25 L472.00 365.64 L473.75 367.70 L474.50 368.34 L475.50 368.79 L476.50 368.95 L521.50 369.07 L522.50 369.01 L522.75 368.83 L523.00 368.34 L523.25 367.28 L523.50 365.38 L524.00 358.70 L524.50 348.62 L525.25 328.90 L526.25 296.04 L528.50 204.84 L529.00 193.01 L529.25 190.63 L529.50 189.67 L529.75 189.38 L530.00 189.32 L530.50 189.46 L530.75 189.88 L531.00 190.91 L531.50 196.07 L534.00 243.08 L536.00 277.89 L538.00 309.32 L540.00 337.00 L541.25 351.87 L542.50 363.85 L543.00 367.01 L543.25 367.99 L543.50 368.57 L543.75 368.85 L544.00 368.97 L551.75 369.11 L599.75 369.20 L906.75 369.51 L907.50 369.47 L908.00 369.29 L908.50 368.85 L909.75 367.42 L910.50 367.05 L925.50 367.03 L926.50 367.06 L927.00 367.25 L927.50 367.69 L928.75 369.12 L929.25 369.43 L929.75 369.52 L959.75 369.54 L960.00 369.46 L960.25 369.16 L960.50 368.34 L960.75 366.50 L961.00 363.10 L961.25 357.82 L961.75 341.66 L962.75 292.72 L964.25 195.95 L964.75 173.75 L965.00 168.40 L965.25 165.89 L965.50 164.98 L965.75 164.72 L966.25 164.65 L966.75 164.69 L967.00 164.85 L967.25 165.37 L967.50 166.70 L967.75 169.35 L968.00 173.61 L970.50 241.76 L972.00 279.84 L973.50 314.07 L975.00 343.55 L975.75 355.77 L976.50 364.80 L977.00 367.71 L977.25 368.30 L977.75 368.70 L980.00 369.09 L983.00 369.35 L992.25 369.57 L1128.25 369.71 L1131.00 369.52 L1132.25 369.28 L1133.25 368.97 L1135.25 367.96 L1139.00 365.36 L1140.00 364.94 L1141.00 364.79 L1142.00 364.94 L1143.00 365.37 L1146.50 367.81 L1147.75 368.55 L1149.00 369.08 L1150.50 369.47 L1152.00 369.66 L1154.00 369.75 L1165.00 369.79 L1166.00 369.77 L1166.25 369.70 L1166.50 369.49 L1166.75 368.96 L1167.00 367.92 L1167.25 366.18 L1167.75 360.50 L1168.25 352.35 L1169.00 336.78 L1170.00 311.13 L1171.00 280.87 L1173.75 183.32 L1174.00 177.94 L1174.25 174.70 L1174.50 173.13 L1174.75 172.55 L1175.00 172.48 L1175.25 172.81 L1175.50 173.81 L1175.75 175.97 L1176.25 185.03 L1179.25 268.58 L1180.75 305.12 L1182.00 332.01 L1183.00 350.51 L1183.75 361.67 L1184.25 366.59 L1184.50 368.00 L1184.75 368.80 L1185.00 369.18 L1185.50 369.41 L1187.75 369.63 L1195.00 369.82 L1296.75 369.96 L1300.00 369.84 L1302.50 369.57 L1304.75 369.11 L1309.50 367.80 L1310.75 367.59 L1312.00 367.51 L1313.25 367.59 L1314.50 367.81 L1319.00 369.07 L1321.25 369.56 L1324.25 369.89 L1325.50 369.95 L1326.00 369.86 L1326.25 369.54 L1326.50 368.68 L1326.75 366.80 L1327.00 363.44 L1327.50 351.58 L1328.00 333.69 L1328.75 298.68 L1330.25 209.08 L1330.75 184.54 L1331.00 177.62 L1331.25 174.05 L1331.50 172.61 L1331.75 172.17 L1332.00 172.08 L1332.25 172.09 L1332.50 172.24 L1332.75 172.73 L1333.00 173.94 L1333.50 179.99 L1337.75 273.43 L1339.50 307.34 L1341.00 333.15 L1342.00 348.17 L1343.00 360.52 L1343.50 364.76 L1343.75 366.10 L1344.00 366.92 L1344.25 367.36 L1344.50 367.57 L1345.00 367.77 L1347.25 368.33 L1349.75 368.80 L1352.50 369.17 L1358.75 369.66 L1367.25 369.94 L1383.75 370.09 L1450.00 370.20 L1497.25 370.42 L1499.75 370.33 L1500.75 370.01 L1501.25 369.68 L1501.75 369.19 L1502.50 368.10 L1504.00 365.42 L1504.50 364.84 L1504.75 364.69 L1505.00 364.64 L1505.50 364.85 L1506.75 366.50 L1507.00 366.69 L1507.25 366.72 L1508.00 366.42 L1508.25 366.45 L1509.50 367.17 L1510.75 367.44 L1514.75 367.46 L1515.00 367.32 L1515.25 366.82 L1515.50 365.48 L1515.75 362.57 L1516.00 357.42 L1516.25 349.64 L1516.75 326.33 L1517.25 294.22 L1518.25 213.35 L1518.75 179.81 L1519.00 170.26 L1519.25 165.32 L1519.50 163.33 L1519.75 162.72 L1520.00 162.59 L1520.25 162.61 L1520.50 162.80 L1520.75 163.44 L1521.00 165.03 L1521.50 172.97 L1524.50 259.34 L1526.50 310.07 L1528.00 341.34 L1528.75 352.07 L1529.50 360.20 L1530.00 363.02 L1530.25 363.59 L1530.50 363.86 L1531.50 364.24 L1533.75 364.73 L1536.25 365.08 L1539.25 365.34 L1539.75 365.49 L1540.00 365.67 L1540.50 366.28 L1542.50 369.60 L1543.00 370.21 L1543.25 370.37 L1543.75 370.50 L1545.00 370.53 L1547.75 370.37 L1549.50 369.97 L1552.50 368.91 L1554.00 368.69 L1555.50 368.93 L1558.75 370.12 L1560.50 370.51 L1563.00 370.70 L1567.00 370.68 L1569.50 370.37 L1570.75 370.02 L1573.50 369.03 L1575.00 368.81 L1576.50 369.04 L1579.25 370.06 L1580.50 370.43 L1581.75 370.65 L1583.50 370.78 L1632.25 371.18 L1632.75 370.97 L1633.25 370.23 L1635.50 363.82 L1636.00 362.76 L1636.25 362.47 L1636.50 362.33 L1637.00 362.25 L1642.00 362.31 L1642.50 362.46 L1643.00 362.91 L1643.25 362.85 L1643.50 362.01 L1643.75 359.92 L1644.00 356.28 L1644.50 344.51 L1645.00 328.36 L1646.00 287.98 L1647.75 199.68 L1648.25 179.33 L1648.50 173.63 L1648.75 170.69 L1649.00 169.51 L1649.25 169.15 L1649.50 169.08 L1649.75 169.12 L1650.00 169.37 L1650.25 170.17 L1650.50 172.15 L1651.00 182.07 L1654.00 287.75 L1655.00 318.30 L1656.00 344.73 L1656.50 355.63 L1657.00 363.70 L1657.25 366.23 L1657.50 367.78 L1657.75 368.58 L1658.00 368.97 L1658.25 369.16 L1660.50 370.02 L1663.25 370.66 L1666.75 371.11 L1671.00 371.39 L1684.00 371.67 L1720.50 371.98 L1721.00 371.74 L1721.75 370.75 L1730.75 355.68 L1731.25 355.26 L1731.75 355.15 L1733.00 355.17 L1733.25 355.23 L1733.75 355.57 L1734.00 355.42 L1734.25 354.04 L1734.50 350.21 L1735.00 331.43 L1735.50 297.24 L1736.75 191.30 L1737.00 180.39 L1737.25 174.73 L1737.50 172.45 L1737.75 171.74 L1738.00 171.59 L1738.25 171.62 L1738.50 171.86 L1738.75 172.65 L1739.00 174.60 L1739.25 178.40 L1739.75 192.06 L1742.25 280.29 L1744.00 332.07 L1744.75 349.85 L1745.25 358.44 L1745.75 363.07 L1746.00 364.03 L1746.25 364.47 L1746.75 364.83 L1748.50 365.71 L1751.75 366.92 L1752.50 367.71 L1754.50 370.69 L1755.25 371.41 L1756.00 371.62 L1758.00 371.85 L1763.25 372.19 L1771.00 372.37 L1784.25 372.45 L1964.00 372.90" fill="none" stroke="#8f8f8f" stroke-width="2.4" stroke-linejoin="round"/>
<path d="M105.00 365.50 L158.75 365.58 L159.25 365.49 L159.50 365.24 L159.75 364.59 L160.00 363.25 L160.25 360.93 L161.00 347.69 L161.50 334.69 L162.25 310.69 L163.25 271.93 L164.25 226.68 L166.75 96.10 L167.25 82.34 L167.50 79.70 L167.75 78.70 L168.00 78.55 L168.25 79.04 L168.50 80.41 L169.00 87.31 L171.50 149.04 L173.75 199.46 L176.50 254.53 L179.00 298.83 L181.25 333.27 L183.00 354.97 L183.50 359.79 L184.00 363.33 L184.25 364.42 L184.50 365.07 L184.75 365.38 L185.25 365.55 L198.75 365.65 L464.50 366.07 L466.25 365.94 L467.25 365.58 L468.25 364.79 L470.00 362.73 L470.50 362.35 L471.00 362.21 L471.50 362.35 L472.00 362.74 L473.75 364.80 L474.50 365.44 L475.50 365.89 L476.50 366.05 L521.50 366.17 L522.50 366.11 L522.75 365.93 L523.00 365.44 L523.25 364.38 L523.50 362.48 L524.00 355.80 L524.50 345.72 L525.25 326.00 L526.25 293.14 L528.50 201.94 L529.00 190.11 L529.25 187.73 L529.50 186.77 L529.75 186.48 L530.00 186.42 L530.50 186.56 L530.75 186.98 L531.00 188.01 L531.50 193.17 L534.00 240.18 L536.00 274.99 L538.00 306.42 L540.00 334.10 L541.25 348.97 L542.50 360.95 L543.00 364.11 L543.25 365.09 L543.50 365.67 L543.75 365.95 L544.00 366.07 L551.75 366.21 L599.75 366.30 L906.75 366.61 L907.50 366.57 L908.00 366.39 L908.50 365.95 L909.75 364.52 L910.50 364.15 L925.50 364.13 L926.50 364.16 L927.00 364.35 L927.50 364.79 L928.75 366.22 L929.25 366.53 L929.75 366.62 L959.75 366.64 L960.00 366.56 L960.25 366.26 L960.50 365.44 L960.75 363.60 L961.00 360.20 L961.25 354.92 L961.75 338.76 L962.75 289.82 L964.25 193.05 L964.75 170.85 L965.00 165.50 L965.25 162.99 L965.50 162.08 L965.75 161.82 L966.25 161.75 L966.75 161.79 L967.00 161.95 L967.25 162.47 L967.50 163.80 L967.75 166.45 L968.00 170.71 L970.50 238.86 L972.00 276.94 L973.50 311.17 L975.00 340.65 L975.75 352.87 L976.50 361.90 L977.00 364.81 L977.25 365.40 L977.75 365.80 L980.00 366.19 L983.00 366.45 L992.25 366.67 L1128.25 366.81 L1131.00 366.62 L1132.25 366.38 L1133.25 366.07 L1135.25 365.06 L1139.00 362.46 L1140.00 362.04 L1141.00 361.89 L1142.00 362.04 L1143.00 362.47 L1146.50 364.91 L1147.75 365.65 L1149.00 366.18 L1150.50 366.57 L1152.00 366.76 L1154.00 366.85 L1165.00 366.89 L1166.00 366.87 L1166.25 366.80 L1166.50 366.59 L1166.75 366.06 L1167.00 365.02 L1167.25 363.28 L1167.75 357.60 L1168.25 349.45 L1169.00 333.88 L1170.00 308.23 L1171.00 277.97 L1173.75 180.42 L1174.00 175.04 L1174.25 171.80 L1174.50 170.23 L1174.75 169.65 L1175.00 169.58 L1175.25 169.91 L1175.50 170.91 L1175.75 173.07 L1176.25 182.13 L1179.25 265.68 L1180.75 302.22 L1182.00 329.11 L1183.00 347.61 L1183.75 358.77 L1184.25 363.69 L1184.50 365.10 L1184.75 365.90 L1185.00 366.28 L1185.50 366.51 L1187.75 366.73 L1195.00 366.92 L1296.75 367.06 L1300.00 366.94 L1302.50 366.67 L1304.75 366.21 L1309.50 364.90 L1310.75 364.69 L1312.00 364.61 L1313.25 364.69 L1314.50 364.91 L1319.00 366.17 L1321.25 366.66 L1324.25 366.99 L1325.50 367.05 L1326.00 366.96 L1326.25 366.64 L1326.50 365.78 L1326.75 363.90 L1327.00 360.54 L1327.50 348.68 L1328.00 330.79 L1328.75 295.78 L1330.25 206.18 L1330.75 181.64 L1331.00 174.72 L1331.25 171.15 L1331.50 169.71 L1331.75 169.27 L1332.00 169.18 L1332.25 169.19 L1332.50 169.34 L1332.75 169.83 L1333.00 171.04 L1333.50 177.09 L1337.75 270.53 L1339.50 304.44 L1341.00 330.25 L1342.00 345.27 L1343.00 357.62 L1343.50 361.86 L1343.75 363.20 L1344.00 364.02 L1344.25 364.46 L1344.50 364.67 L1345.00 364.87 L1347.25 365.43 L1349.75 365.90 L1352.50 366.27 L1358.75 366.76 L1367.25 367.04 L1383.75 367.19 L1450.00 367.30 L1497.25 367.52 L1499.75 367.43 L1500.75 367.11 L1501.25 366.78 L1501.75 366.29 L1502.50 365.20 L1504.00 362.52 L1504.50 361.94 L1504.75 361.79 L1505.00 361.74 L1505.50 361.95 L1506.75 363.60 L1507.00 363.79 L1507.25 363.82 L1508.00 363.52 L1508.25 363.55 L1509.50 364.27 L1510.75 364.54 L1514.75 364.56 L1515.00 364.42 L1515.25 363.92 L1515.50 362.58 L1515.75 359.67 L1516.00 354.52 L1516.25 346.74 L1516.75 323.43 L1517.25 291.32 L1518.25 210.45 L1518.75 176.91 L1519.00 167.36 L1519.25 162.42 L1519.50 160.43 L1519.75 159.82 L1520.00 159.69 L1520.25 159.71 L1520.50 159.90 L1520.75 160.54 L1521.00 162.13 L1521.50 170.07 L1524.50 256.44 L1526.50 307.17 L1528.00 338.44 L1528.75 349.17 L1529.50 357.30 L1530.00 360.12 L1530.25 360.69 L1530.50 360.96 L1531.50 361.34 L1533.75 361.83 L1536.25 362.18 L1539.25 362.44 L1539.75 362.59 L1540.00 362.77 L1540.50 363.38 L1542.50 366.70 L1543.00 367.31 L1543.25 367.47 L1543.75 367.60 L1545.00 367.63 L1547.75 367.47 L1549.50 367.07 L1552.50 366.01 L1554.00 365.79 L1555.50 366.03 L1558.75 367.22 L1560.50 367.61 L1563.00 367.80 L1567.00 367.78 L1569.50 367.47 L1570.75 367.12 L1573.50 366.13 L1575.00 365.91 L1576.50 366.14 L1579.25 367.16 L1580.50 367.53 L1581.75 367.75 L1583.50 367.88 L1632.25 368.28 L1632.75 368.07 L1633.25 367.33 L1635.50 360.92 L1636.00 359.86 L1636.25 359.57 L1636.50 359.43 L1637.00 359.35 L1642.00 359.41 L1642.50 359.56 L1643.00 360.01 L1643.25 359.95 L1643.50 359.11 L1643.75 357.02 L1644.00 353.38 L1644.50 341.61 L1645.00 325.46 L1646.00 285.08 L1647.75 196.78 L1648.25 176.43 L1648.50 170.73 L1648.75 167.79 L1649.00 166.61 L1649.25 166.25 L1649.50 166.18 L1649.75 166.22 L1650.00 166.47 L1650.25 167.27 L1650.50 169.25 L1651.00 179.17 L1654.00 284.85 L1655.00 315.40 L1656.00 341.83 L1656.50 352.73 L1657.00 360.80 L1657.25 363.33 L1657.50 364.88 L1657.75 365.68 L1658.00 366.07 L1658.25 366.26 L1660.50 367.12 L1663.25 367.76 L1666.75 368.21 L1671.00 368.49 L1684.00 368.77 L1720.50 369.08 L1721.00 368.84 L1721.75 367.85 L1730.75 352.78 L1731.25 352.36 L1731.75 352.25 L1733.00 352.27 L1733.25 352.33 L1733.75 352.67 L1734.00 352.52 L1734.25 351.14 L1734.50 347.31 L1735.00 328.53 L1735.50 294.34 L1736.75 188.40 L1737.00 177.49 L1737.25 171.83 L1737.50 169.55 L1737.75 168.84 L1738.00 168.69 L1738.25 168.72 L1738.50 168.96 L1738.75 169.75 L1739.00 171.70 L1739.25 175.50 L1739.75 189.16 L1742.25 277.39 L1744.00 329.17 L1744.75 346.95 L1745.25 355.54 L1745.75 360.17 L1746.00 361.13 L1746.25 361.57 L1746.75 361.93 L1748.50 362.81 L1751.75 364.02 L1752.50 364.81 L1754.50 367.79 L1755.25 368.51 L1756.00 368.72 L1758.00 368.95 L1763.25 369.29 L1771.00 369.47 L1784.25 369.55 L1964.00 370.00" fill="none" stroke="#151515" stroke-width="3.3" stroke-linejoin="miter" stroke-miterlimit="3"/>
<line x1="105" y1="394.5" x2="105" y2="699.5" stroke="#5f5f5f" stroke-width="3"/>
<line x1="107.6" y1="395.5" x2="107.6" y2="697.5" stroke="#cfcfcf" stroke-width="1.8"/>
<line x1="101.80" y1="409.00" x2="105" y2="409.00" stroke="#7a7a7a" stroke-width="1.6"/>
<line x1="101.80" y1="425.75" x2="105" y2="425.75" stroke="#7a7a7a" stroke-width="1.6"/>
<line x1="99.50" y1="442.50" x2="105" y2="442.50" stroke="#7a7a7a" stroke-width="1.6"/>
<line x1="101.80" y1="459.25" x2="105" y2="459.25" stroke="#7a7a7a" stroke-width="1.6"/>
<line x1="101.80" y1="476.00" x2="105" y2="476.00" stroke="#7a7a7a" stroke-width="1.6"/>
<line x1="101.80" y1="492.75" x2="105" y2="492.75" stroke="#7a7a7a" stroke-width="1.6"/>
<line x1="101.80" y1="509.50" x2="105" y2="509.50" stroke="#7a7a7a" stroke-width="1.6"/>
<line x1="99.50" y1="526.25" x2="105" y2="526.25" stroke="#7a7a7a" stroke-width="1.6"/>
<line x1="101.80" y1="543.00" x2="105" y2="543.00" stroke="#7a7a7a" stroke-width="1.6"/>
<line x1="101.80" y1="559.75" x2="105" y2="559.75" stroke="#7a7a7a" stroke-width="1.6"/>
<line x1="101.80" y1="576.50" x2="105" y2="576.50" stroke="#7a7a7a" stroke-width="1.6"/>
<line x1="101.80" y1="593.25" x2="105" y2="593.25" stroke="#7a7a7a" stroke-width="1.6"/>
<line x1="99.50" y1="610.00" x2="105" y2="610.00" stroke="#7a7a7a" stroke-width="1.6"/>
<line x1="101.80" y1="626.75" x2="105" y2="626.75" stroke="#7a7a7a" stroke-width="1.6"/>
<line x1="101.80" y1="643.50" x2="105" y2="643.50" stroke="#7a7a7a" stroke-width="1.6"/>
<line x1="101.80" y1="660.25" x2="105" y2="660.25" stroke="#7a7a7a" stroke-width="1.6"/>
<line x1="101.80" y1="677.00" x2="105" y2="677.00" stroke="#7a7a7a" stroke-width="1.6"/>
<line x1="99.50" y1="693.75" x2="105" y2="693.75" stroke="#7a7a7a" stroke-width="1.6"/>
<line x1="103" y1="699.5" x2="1965.5" y2="699.5" stroke="#5f5f5f" stroke-width="2.6"/>
<line x1="103" y1="701.9" x2="1965.5" y2="701.9" stroke="#d6d6d6" stroke-width="1.6"/>
<line x1="106.24" y1="699.5" x2="106.24" y2="703.3" stroke="#7a7a7a" stroke-width="1.6"/>
<line x1="126.42" y1="699.5" x2="126.42" y2="703.3" stroke="#7a7a7a" stroke-width="1.6"/>
<line x1="146.60" y1="699.5" x2="146.60" y2="706.0" stroke="#7a7a7a" stroke-width="1.6"/>
<line x1="166.78" y1="699.5" x2="166.78" y2="703.3" stroke="#7a7a7a" stroke-width="1.6"/>
<line x1="186.96" y1="699.5" x2="186.96" y2="703.3" stroke="#7a7a7a" stroke-width="1.6"/>
<line x1="207.14" y1="699.5" x2="207.14" y2="703.3" stroke="#7a7a7a" stroke-width="1.6"/>
<line x1="227.32" y1="699.5" x2="227.32" y2="706.0" stroke="#7a7a7a" stroke-width="1.6"/>
<line x1="247.50" y1="699.5" x2="247.50" y2="703.3" stroke="#7a7a7a" stroke-width="1.6"/>
<line x1="267.68" y1="699.5" x2="267.68" y2="703.3" stroke="#7a7a7a" stroke-width="1.6"/>
<line x1="287.86" y1="699.5" x2="287.86" y2="703.3" stroke="#7a7a7a" stroke-width="1.6"/>
<line x1="308.04" y1="699.5" x2="308.04" y2="706.0" stroke="#7a7a7a" stroke-width="1.6"/>
<line x1="328.22" y1="699.5" x2="328.22" y2="703.3" stroke="#7a7a7a" stroke-width="1.6"/>
<line x1="348.40" y1="699.5" x2="348.40" y2="703.3" stroke="#7a7a7a" stroke-width="1.6"/>
<line x1="368.58" y1="699.5" x2="368.58" y2="703.3" stroke="#7a7a7a" stroke-width="1.6"/>
<line x1="388.76" y1="699.5" x2="388.76" y2="706.0" stroke="#7a7a7a" stroke-width="1.6"/>
<line x1="408.94" y1="699.5" x2="408.94" y2="703.3" stroke="#7a7a7a" stroke-width="1.6"/>
<line x1="429.12" y1="699.5" x2="429.12" y2="703.3" stroke="#7a7a7a" stroke-width="1.6"/>
<line x1="449.30" y1="699.5" x2="449.30" y2="703.3" stroke="#7a7a7a" stroke-width="1.6"/>
<line x1="469.48" y1="699.5" x2="469.48" y2="706.0" stroke="#7a7a7a" stroke-width="1.6"/>
<line x1="489.66" y1="699.5" x2="489.66" y2="703.3" stroke="#7a7a7a" stroke-width="1.6"/>
<line x1="509.84" y1="699.5" x2="509.84" y2="703.3" stroke="#7a7a7a" stroke-width="1.6"/>
<line x1="530.02" y1="699.5" x2="530.02" y2="703.3" stroke="#7a7a7a" stroke-width="1.6"/>
<line x1="550.20" y1="699.5" x2="550.20" y2="706.0" stroke="#7a7a7a" stroke-width="1.6"/>
<line x1="570.38" y1="699.5" x2="570.38" y2="703.3" stroke="#7a7a7a" stroke-width="1.6"/>
<line x1="590.56" y1="699.5" x2="590.56" y2="703.3" stroke="#7a7a7a" stroke-width="1.6"/>
<line x1="610.74" y1="699.5" x2="610.74" y2="703.3" stroke="#7a7a7a" stroke-width="1.6"/>
<line x1="630.92" y1="699.5" x2="630.92" y2="706.0" stroke="#7a7a7a" stroke-width="1.6"/>
<line x1="651.10" y1="699.5" x2="651.10" y2="703.3" stroke="#7a7a7a" stroke-width="1.6"/>
<line x1="671.28" y1="699.5" x2="671.28" y2="703.3" stroke="#7a7a7a" stroke-width="1.6"/>
<line x1="691.46" y1="699.5" x2="691.46" y2="703.3" stroke="#7a7a7a" stroke-width="1.6"/>
<line x1="711.64" y1="699.5" x2="711.64" y2="706.0" stroke="#7a7a7a" stroke-width="1.6"/>
<line x1="731.82" y1="699.5" x2="731.82" y2="703.3" stroke="#7a7a7a" stroke-width="1.6"/>
<line x1="752.00" y1="699.5" x2="752.00" y2="703.3" stroke="#7a7a7a" stroke-width="1.6"/>
<line x1="772.18" y1="699.5" x2="772.18" y2="703.3" stroke="#7a7a7a" stroke-width="1.6"/>
<line x1="792.36" y1="699.5" x2="792.36" y2="706.0" stroke="#7a7a7a" stroke-width="1.6"/>
<line x1="812.54" y1="699.5" x2="812.54" y2="703.3" stroke="#7a7a7a" stroke-width="1.6"/>
<line x1="832.72" y1="699.5" x2="832.72" y2="703.3" stroke="#7a7a7a" stroke-width="1.6"/>
<line x1="852.90" y1="699.5" x2="852.90" y2="703.3" stroke="#7a7a7a" stroke-width="1.6"/>
<line x1="873.08" y1="699.5" x2="873.08" y2="706.0" stroke="#7a7a7a" stroke-width="1.6"/>
<line x1="893.26" y1="699.5" x2="893.26" y2="703.3" stroke="#7a7a7a" stroke-width="1.6"/>
<line x1="913.44" y1="699.5" x2="913.44" y2="703.3" stroke="#7a7a7a" stroke-width="1.6"/>
<line x1="933.62" y1="699.5" x2="933.62" y2="703.3" stroke="#7a7a7a" stroke-width="1.6"/>
<line x1="953.80" y1="699.5" x2="953.80" y2="706.0" stroke="#7a7a7a" stroke-width="1.6"/>
<line x1="973.98" y1="699.5" x2="973.98" y2="703.3" stroke="#7a7a7a" stroke-width="1.6"/>
<line x1="994.16" y1="699.5" x2="994.16" y2="703.3" stroke="#7a7a7a" stroke-width="1.6"/>
<line x1="1014.34" y1="699.5" x2="1014.34" y2="703.3" stroke="#7a7a7a" stroke-width="1.6"/>
<line x1="1034.52" y1="699.5" x2="1034.52" y2="706.0" stroke="#7a7a7a" stroke-width="1.6"/>
<line x1="1054.70" y1="699.5" x2="1054.70" y2="703.3" stroke="#7a7a7a" stroke-width="1.6"/>
<line x1="1074.88" y1="699.5" x2="1074.88" y2="703.3" stroke="#7a7a7a" stroke-width="1.6"/>
<line x1="1095.06" y1="699.5" x2="1095.06" y2="703.3" stroke="#7a7a7a" stroke-width="1.6"/>
<line x1="1115.24" y1="699.5" x2="1115.24" y2="706.0" stroke="#7a7a7a" stroke-width="1.6"/>
<line x1="1135.42" y1="699.5" x2="1135.42" y2="703.3" stroke="#7a7a7a" stroke-width="1.6"/>
<line x1="1155.60" y1="699.5" x2="1155.60" y2="703.3" stroke="#7a7a7a" stroke-width="1.6"/>
<line x1="1175.78" y1="699.5" x2="1175.78" y2="703.3" stroke="#7a7a7a" stroke-width="1.6"/>
<line x1="1195.96" y1="699.5" x2="1195.96" y2="706.0" stroke="#7a7a7a" stroke-width="1.6"/>
<line x1="1216.14" y1="699.5" x2="1216.14" y2="703.3" stroke="#7a7a7a" stroke-width="1.6"/>
<line x1="1236.32" y1="699.5" x2="1236.32" y2="703.3" stroke="#7a7a7a" stroke-width="1.6"/>
<line x1="1256.50" y1="699.5" x2="1256.50" y2="703.3" stroke="#7a7a7a" stroke-width="1.6"/>
<line x1="1276.68" y1="699.5" x2="1276.68" y2="706.0" stroke="#7a7a7a" stroke-width="1.6"/>
<line x1="1296.86" y1="699.5" x2="1296.86" y2="703.3" stroke="#7a7a7a" stroke-width="1.6"/>
<line x1="1317.04" y1="699.5" x2="1317.04" y2="703.3" stroke="#7a7a7a" stroke-width="1.6"/>
<line x1="1337.22" y1="699.5" x2="1337.22" y2="703.3" stroke="#7a7a7a" stroke-width="1.6"/>
<line x1="1357.40" y1="699.5" x2="1357.40" y2="706.0" stroke="#7a7a7a" stroke-width="1.6"/>
<line x1="1377.58" y1="699.5" x2="1377.58" y2="703.3" stroke="#7a7a7a" stroke-width="1.6"/>
<line x1="1397.76" y1="699.5" x2="1397.76" y2="703.3" stroke="#7a7a7a" stroke-width="1.6"/>
<line x1="1417.94" y1="699.5" x2="1417.94" y2="703.3" stroke="#7a7a7a" stroke-width="1.6"/>
<line x1="1438.12" y1="699.5" x2="1438.12" y2="706.0" stroke="#7a7a7a" stroke-width="1.6"/>
<line x1="1458.30" y1="699.5" x2="1458.30" y2="703.3" stroke="#7a7a7a" stroke-width="1.6"/>
<line x1="1478.48" y1="699.5" x2="1478.48" y2="703.3" stroke="#7a7a7a" stroke-width="1.6"/>
<line x1="1498.66" y1="699.5" x2="1498.66" y2="703.3" stroke="#7a7a7a" stroke-width="1.6"/>
<line x1="1518.84" y1="699.5" x2="1518.84" y2="706.0" stroke="#7a7a7a" stroke-width="1.6"/>
<line x1="1539.02" y1="699.5" x2="1539.02" y2="703.3" stroke="#7a7a7a" stroke-width="1.6"/>
<line x1="1559.20" y1="699.5" x2="1559.20" y2="703.3" stroke="#7a7a7a" stroke-width="1.6"/>
<line x1="1579.38" y1="699.5" x2="1579.38" y2="703.3" stroke="#7a7a7a" stroke-width="1.6"/>
<line x1="1599.56" y1="699.5" x2="1599.56" y2="706.0" stroke="#7a7a7a" stroke-width="1.6"/>
<line x1="1619.74" y1="699.5" x2="1619.74" y2="703.3" stroke="#7a7a7a" stroke-width="1.6"/>
<line x1="1639.92" y1="699.5" x2="1639.92" y2="703.3" stroke="#7a7a7a" stroke-width="1.6"/>
<line x1="1660.10" y1="699.5" x2="1660.10" y2="703.3" stroke="#7a7a7a" stroke-width="1.6"/>
<line x1="1680.28" y1="699.5" x2="1680.28" y2="706.0" stroke="#7a7a7a" stroke-width="1.6"/>
<line x1="1700.46" y1="699.5" x2="1700.46" y2="703.3" stroke="#7a7a7a" stroke-width="1.6"/>
<line x1="1720.64" y1="699.5" x2="1720.64" y2="703.3" stroke="#7a7a7a" stroke-width="1.6"/>
<line x1="1740.82" y1="699.5" x2="1740.82" y2="703.3" stroke="#7a7a7a" stroke-width="1.6"/>
<line x1="1761.00" y1="699.5" x2="1761.00" y2="706.0" stroke="#7a7a7a" stroke-width="1.6"/>
<line x1="1781.18" y1="699.5" x2="1781.18" y2="703.3" stroke="#7a7a7a" stroke-width="1.6"/>
<line x1="1801.36" y1="699.5" x2="1801.36" y2="703.3" stroke="#7a7a7a" stroke-width="1.6"/>
<line x1="1821.54" y1="699.5" x2="1821.54" y2="703.3" stroke="#7a7a7a" stroke-width="1.6"/>
<line x1="1841.72" y1="699.5" x2="1841.72" y2="706.0" stroke="#7a7a7a" stroke-width="1.6"/>
<line x1="1861.90" y1="699.5" x2="1861.90" y2="703.3" stroke="#7a7a7a" stroke-width="1.6"/>
<line x1="1882.08" y1="699.5" x2="1882.08" y2="703.3" stroke="#7a7a7a" stroke-width="1.6"/>
<line x1="1902.26" y1="699.5" x2="1902.26" y2="703.3" stroke="#7a7a7a" stroke-width="1.6"/>
<line x1="1922.44" y1="699.5" x2="1922.44" y2="706.0" stroke="#7a7a7a" stroke-width="1.6"/>
<line x1="1942.62" y1="699.5" x2="1942.62" y2="703.3" stroke="#7a7a7a" stroke-width="1.6"/>
<line x1="1962.80" y1="699.5" x2="1962.80" y2="703.3" stroke="#7a7a7a" stroke-width="1.6"/>
<path d="M106.00 692.50 L144.00 692.48 L145.00 692.38 L145.75 692.18 L146.50 691.79 L148.00 690.77 L148.75 690.59 L149.50 690.82 L151.50 692.11 L152.25 692.35 L153.00 692.46 L164.25 692.49 L164.50 692.43 L164.75 692.23 L165.00 691.65 L165.25 690.28 L165.50 687.63 L166.00 677.11 L166.75 647.67 L167.25 620.14 L168.00 568.54 L169.75 423.40 L170.00 412.14 L170.25 405.91 L170.50 403.17 L170.75 402.25 L171.00 402.16 L171.25 402.61 L171.50 403.90 L172.00 410.65 L175.25 495.06 L176.50 524.00 L178.00 555.47 L180.25 596.23 L181.25 611.93 L182.50 629.50 L183.75 644.83 L185.00 657.92 L186.25 668.82 L187.75 679.02 L189.00 685.13 L189.50 686.97 L190.25 689.09 L190.75 690.07 L191.25 690.72 L192.00 691.17 L193.00 691.37 L196.25 691.79 L200.00 692.09 L210.50 692.41 L226.75 692.49 L279.50 692.50 L281.00 692.43 L282.00 692.19 L282.75 691.82 L284.25 690.79 L285.00 690.58 L285.75 690.79 L287.50 691.96 L288.50 692.34 L290.00 692.49 L294.50 692.50 L296.00 692.43 L297.00 692.19 L297.75 691.82 L299.25 690.79 L300.00 690.58 L300.75 690.79 L302.25 691.82 L303.00 692.19 L304.00 692.43 L305.50 692.50 L465.25 692.48 L466.50 692.39 L467.25 692.21 L468.00 691.80 L468.50 691.34 L469.50 689.83 L471.50 685.57 L472.00 684.92 L472.50 684.70 L473.00 684.92 L473.50 685.57 L475.50 689.83 L476.25 691.04 L476.75 691.59 L477.25 691.97 L477.75 692.21 L478.50 692.39 L481.00 692.50 L524.75 692.50 L525.50 692.45 L525.75 692.32 L526.00 691.92 L526.25 691.00 L526.75 686.30 L527.25 676.66 L527.75 662.25 L528.25 643.67 L529.00 608.85 L530.75 510.91 L531.00 503.31 L531.25 499.11 L531.50 497.29 L531.75 496.78 L532.00 497.08 L532.25 498.26 L532.50 500.77 L532.75 504.91 L534.75 559.87 L536.00 590.68 L537.50 621.84 L539.00 646.84 L540.50 665.93 L541.25 673.33 L542.00 679.33 L542.75 683.98 L543.50 687.32 L544.25 689.40 L544.75 690.16 L545.25 690.54 L546.50 690.95 L548.75 691.43 L551.00 691.77 L553.75 692.04 L560.25 692.34 L570.75 692.47 L960.50 692.50 L961.50 692.43 L961.75 692.25 L962.00 691.76 L962.25 690.69 L962.75 685.77 L963.25 676.49 L964.00 655.14 L964.75 626.19 L965.50 590.47 L967.25 489.32 L967.75 472.14 L968.00 468.69 L968.25 467.43 L968.50 467.50 L968.75 468.70 L969.00 471.35 L969.25 475.77 L971.50 541.99 L972.75 574.93 L974.25 608.83 L976.00 640.78 L977.50 661.77 L978.25 670.09 L979.25 678.93 L980.00 683.89 L980.75 687.41 L981.50 689.52 L982.00 690.22 L982.50 690.53 L984.00 690.99 L985.75 691.37 L989.75 691.92 L994.75 692.25 L1002.00 692.42 L1023.00 692.50 L1135.50 692.47 L1137.50 692.24 L1138.25 691.97 L1139.00 691.51 L1139.50 691.07 L1140.25 690.18 L1142.75 686.40 L1143.50 685.74 L1144.00 685.61 L1144.50 685.74 L1145.25 686.40 L1147.50 689.83 L1148.50 691.07 L1149.50 691.84 L1150.50 692.24 L1151.75 692.43 L1154.00 692.50 L1170.25 692.50 L1170.75 692.46 L1171.00 692.34 L1171.25 691.98 L1171.50 691.10 L1171.75 689.33 L1172.00 686.35 L1172.50 676.17 L1173.00 660.60 L1173.50 640.33 L1174.25 602.11 L1176.00 492.45 L1176.25 483.14 L1176.50 477.71 L1176.75 475.20 L1177.00 474.38 L1177.25 474.53 L1177.50 475.60 L1177.75 478.00 L1178.00 482.17 L1178.50 495.35 L1180.00 542.35 L1181.25 576.86 L1182.75 612.05 L1184.25 640.56 L1185.50 659.26 L1186.25 668.29 L1187.00 675.70 L1187.50 679.73 L1188.25 684.42 L1189.00 687.50 L1189.25 688.17 L1189.75 689.04 L1190.50 689.59 L1192.00 690.16 L1194.25 690.80 L1196.50 691.27 L1201.50 691.90 L1208.25 692.27 L1215.25 692.42 L1226.00 692.48 L1296.25 692.50 L1300.50 692.37 L1303.00 691.95 L1305.00 691.19 L1309.00 688.99 L1310.00 688.65 L1311.00 688.53 L1312.00 688.65 L1313.00 688.99 L1317.00 691.19 L1318.25 691.71 L1319.50 692.07 L1321.25 692.34 L1323.25 692.46 L1327.75 692.50 L1328.25 692.46 L1328.50 692.34 L1328.75 691.98 L1329.00 691.09 L1329.25 689.32 L1329.50 686.34 L1330.00 676.13 L1330.50 660.53 L1331.00 640.21 L1331.75 601.90 L1333.50 491.99 L1333.75 482.66 L1334.00 477.22 L1334.25 474.70 L1334.50 473.89 L1334.75 474.08 L1335.00 475.24 L1335.25 477.85 L1335.50 482.37 L1337.50 547.20 L1338.75 583.79 L1340.00 614.82 L1341.25 640.36 L1342.50 660.45 L1343.75 675.14 L1344.25 679.50 L1345.00 684.44 L1345.50 686.67 L1345.75 687.46 L1346.25 688.49 L1347.00 689.14 L1349.00 689.98 L1351.25 690.68 L1353.75 691.22 L1356.50 691.64 L1359.50 691.94 L1367.50 692.32 L1389.25 692.49 L1499.50 692.47 L1500.50 692.34 L1501.25 692.02 L1501.75 691.59 L1502.25 690.86 L1502.75 689.78 L1503.25 688.30 L1505.00 681.59 L1505.50 680.34 L1505.75 680.00 L1506.00 679.89 L1506.25 680.00 L1506.75 680.88 L1507.25 682.45 L1508.75 688.30 L1509.25 689.78 L1510.00 691.27 L1510.75 692.02 L1511.50 692.34 L1512.75 692.48 L1515.50 692.49 L1515.75 692.43 L1516.00 692.23 L1516.25 691.66 L1516.50 690.38 L1516.75 687.98 L1517.25 678.83 L1517.75 663.71 L1518.25 643.32 L1519.00 604.08 L1520.50 500.75 L1521.00 471.75 L1521.25 463.53 L1521.50 459.28 L1521.75 457.59 L1522.00 457.13 L1522.25 457.29 L1522.50 458.20 L1522.75 460.52 L1523.25 472.04 L1525.00 542.22 L1526.00 577.57 L1527.25 614.72 L1528.25 638.77 L1529.00 652.12 L1529.50 657.52 L1531.25 672.53 L1531.75 675.35 L1532.25 677.02 L1532.50 677.50 L1533.00 678.06 L1535.25 679.42 L1537.75 680.51 L1541.25 681.59 L1541.75 681.86 L1542.00 682.14 L1542.50 683.04 L1545.75 690.66 L1546.25 691.29 L1547.00 691.56 L1550.50 691.89 L1554.75 692.14 L1566.25 692.42 L1589.25 692.50 L1633.25 692.46 L1633.50 692.34 L1633.75 692.06 L1634.25 690.64 L1636.50 678.49 L1637.00 676.49 L1637.25 675.94 L1637.50 675.66 L1638.00 675.51 L1643.75 675.50 L1644.25 675.44 L1644.50 675.25 L1644.75 674.74 L1645.00 673.59 L1645.50 668.36 L1646.50 648.93 L1647.25 623.32 L1648.25 567.23 L1649.50 478.36 L1650.00 449.58 L1650.25 441.45 L1650.50 437.26 L1650.75 435.58 L1651.00 435.13 L1651.25 435.33 L1651.50 436.33 L1651.75 438.88 L1652.25 451.53 L1654.75 558.31 L1655.75 593.05 L1657.00 628.75 L1658.00 651.14 L1658.75 663.97 L1659.50 672.00 L1660.25 676.96 L1661.00 680.63 L1661.25 681.36 L1661.75 682.16 L1662.25 682.54 L1663.25 683.07 L1666.50 684.41 L1668.75 685.09 L1671.25 685.69 L1672.00 686.04 L1672.75 686.90 L1675.50 690.70 L1676.00 691.21 L1676.75 691.50 L1683.00 692.01 L1691.50 692.31 L1704.50 692.45 L1722.25 692.46 L1722.75 692.17 L1723.00 691.77 L1723.50 690.30 L1728.25 670.65 L1728.75 668.86 L1729.25 667.82 L1729.50 667.61 L1730.00 667.50 L1732.75 667.50 L1733.25 667.69 L1733.50 668.18 L1733.75 669.38 L1734.75 680.56 L1735.00 680.52 L1735.25 677.46 L1735.50 671.47 L1736.00 652.75 L1736.75 612.95 L1737.50 561.72 L1739.00 443.49 L1739.25 431.90 L1739.50 425.14 L1739.75 421.98 L1740.00 420.83 L1740.25 420.56 L1740.50 420.79 L1740.75 421.75 L1741.00 424.24 L1741.50 437.09 L1744.00 553.74 L1745.00 591.47 L1746.00 622.79 L1746.75 642.09 L1747.75 662.24 L1748.50 672.95 L1749.00 677.10 L1749.25 677.98 L1749.50 678.21 L1750.25 677.69 L1750.50 677.71 L1753.25 679.44 L1756.25 680.89 L1756.75 681.23 L1757.50 682.40 L1760.50 689.19 L1761.00 690.01 L1761.50 690.42 L1763.00 690.79 L1766.00 691.27 L1772.25 691.89 L1777.00 692.14 L1782.75 692.31 L1799.75 692.47 L1964.00 692.50" fill="none" stroke="#f6c0c4" stroke-width="7.5" stroke-linejoin="round"/>
<path d="M165.75 682.31 L166.50 658.17 L167.50 603.26 L169.75 422.40 L170.25 404.91 L170.50 402.17 L170.75 401.25 L171.00 401.16 L171.25 401.61 L171.50 402.90 L172.00 409.65 L174.75 481.78 L176.75 528.49 L179.00 573.53 L181.50 614.63 L183.75 643.83 L184.75 654.48 L186.00 665.82 L187.00 673.31 L188.25 680.72 L189.50 685.97 L190.00 687.47 L190.75 689.07 Z" fill="url(#g9)" stroke="none"/>
<path d="M526.75 685.30 L527.50 669.01 L528.50 631.95 L530.75 509.91 L531.25 498.11 L531.50 496.29 L531.75 495.78 L532.00 496.08 L532.25 497.26 L532.75 503.91 L534.75 558.87 L536.00 589.68 L537.25 616.08 L538.75 642.09 L540.00 659.21 L541.50 674.48 L542.75 682.98 L543.50 686.32 L544.25 688.40 Z" fill="url(#g10)" stroke="none"/>
<path d="M962.50 687.76 L963.25 675.49 L964.25 645.29 L965.50 589.47 L967.25 488.32 L967.75 471.14 L968.00 467.69 L968.25 466.43 L968.50 466.50 L968.75 467.70 L969.25 474.77 L972.50 567.69 L974.00 602.60 L975.50 631.47 L976.75 651.01 L978.25 669.09 L979.00 675.96 L979.75 681.39 L980.50 685.40 L981.25 687.97 Z" fill="url(#g11)" stroke="none"/>
<path d="M1172.00 685.35 L1172.75 668.01 L1173.75 627.59 L1176.00 491.45 L1176.50 476.71 L1176.75 474.20 L1177.00 473.38 L1177.25 473.53 L1177.50 474.60 L1178.00 481.17 L1181.25 575.86 L1182.50 605.66 L1184.00 635.27 L1185.25 654.89 L1186.50 669.94 L1187.75 680.47 L1188.50 684.63 L1189.25 687.17 Z" fill="url(#g12)" stroke="none"/>
<path d="M1329.50 685.34 L1330.25 667.96 L1331.25 627.45 L1333.50 490.99 L1334.00 476.22 L1334.25 473.70 L1334.50 472.89 L1334.75 473.08 L1335.00 474.24 L1335.50 481.37 L1338.50 575.92 L1339.75 608.06 L1341.00 634.69 L1342.00 652.07 L1343.25 668.91 L1344.50 680.36 L1345.00 683.44 L1345.75 686.46 Z" fill="url(#g13)" stroke="none"/>
<path d="M1516.75 686.98 L1517.50 670.98 L1518.50 630.35 L1519.25 587.88 L1521.00 470.75 L1521.50 458.28 L1521.75 456.59 L1522.00 456.13 L1522.25 456.29 L1522.50 457.20 L1522.75 459.52 L1523.25 471.04 L1526.00 576.57 L1527.25 613.72 L1528.25 637.77 L1528.75 647.34 L1529.25 654.13 L1531.00 669.68 L1531.50 673.09 L1532.00 675.31 Z" fill="url(#g14)" stroke="none"/>
<path d="M1645.25 670.50 L1646.25 653.62 L1647.00 632.66 L1648.00 581.93 L1650.00 448.58 L1650.50 436.26 L1650.75 434.58 L1651.00 434.13 L1651.25 434.33 L1651.50 435.33 L1651.75 437.88 L1652.25 450.53 L1654.75 557.31 L1655.75 592.05 L1657.00 627.75 L1658.00 650.14 L1658.75 662.97 L1659.50 671.00 L1660.25 675.96 L1661.00 679.63 Z" fill="url(#g15)" stroke="none"/>
<path d="M1735.00 679.52 L1735.25 676.46 L1735.75 662.06 L1736.75 611.95 L1739.00 442.49 L1739.50 424.14 L1739.75 420.98 L1740.00 419.83 L1740.25 419.56 L1740.50 419.79 L1740.75 420.75 L1741.00 423.24 L1741.50 436.09 L1744.00 552.74 L1745.00 590.47 L1746.25 628.62 L1747.25 651.96 L1748.25 668.87 L1749.00 676.10 L1749.25 676.98 L1749.50 677.21 L1749.75 677.05 Z" fill="url(#g16)" stroke="none"/>
<path d="M106.00 694.00 L144.00 693.98 L145.00 693.88 L145.75 693.68 L146.50 693.29 L148.00 692.27 L148.75 692.09 L149.50 692.32 L151.50 693.61 L152.25 693.85 L153.00 693.96 L164.25 693.99 L164.50 693.93 L164.75 693.73 L165.00 693.15 L165.25 691.78 L165.50 689.13 L166.00 678.61 L166.75 649.17 L167.25 621.64 L168.00 570.04 L169.75 424.90 L170.00 413.64 L170.25 407.41 L170.50 404.67 L170.75 403.75 L171.00 403.66 L171.25 404.11 L171.50 405.40 L172.00 412.15 L175.25 496.56 L176.50 525.50 L178.00 556.97 L180.25 597.73 L181.25 613.43 L182.50 631.00 L183.75 646.33 L185.00 659.42 L186.25 670.32 L187.75 680.52 L189.00 686.63 L189.50 688.47 L190.25 690.59 L190.75 691.57 L191.25 692.22 L192.00 692.67 L193.00 692.87 L196.25 693.29 L200.00 693.59 L210.50 693.91 L226.75 693.99 L279.50 694.00 L281.00 693.93 L282.00 693.69 L282.75 693.32 L284.25 692.29 L285.00 692.08 L285.75 692.29 L287.50 693.46 L288.50 693.84 L290.00 693.99 L294.50 694.00 L296.00 693.93 L297.00 693.69 L297.75 693.32 L299.25 692.29 L300.00 692.08 L300.75 692.29 L302.25 693.32 L303.00 693.69 L304.00 693.93 L305.50 694.00 L465.25 693.98 L466.50 693.89 L467.25 693.71 L468.00 693.30 L468.50 692.84 L469.50 691.33 L471.50 687.07 L472.00 686.42 L472.50 686.20 L473.00 686.42 L473.50 687.07 L475.50 691.33 L476.25 692.54 L476.75 693.09 L477.25 693.47 L477.75 693.71 L478.50 693.89 L481.00 694.00 L524.75 694.00 L525.50 693.95 L525.75 693.82 L526.00 693.42 L526.25 692.50 L526.75 687.80 L527.25 678.16 L527.75 663.75 L528.25 645.17 L529.00 610.35 L530.75 512.41 L531.00 504.81 L531.25 500.61 L531.50 498.79 L531.75 498.28 L532.00 498.58 L532.25 499.76 L532.50 502.27 L532.75 506.41 L534.75 561.37 L536.00 592.18 L537.50 623.34 L539.00 648.34 L540.50 667.43 L541.25 674.83 L542.00 680.83 L542.75 685.48 L543.50 688.82 L544.25 690.90 L544.75 691.66 L545.25 692.04 L546.50 692.45 L548.75 692.93 L551.00 693.27 L553.75 693.54 L560.25 693.84 L570.75 693.97 L960.50 694.00 L961.50 693.93 L961.75 693.75 L962.00 693.26 L962.25 692.19 L962.75 687.27 L963.25 677.99 L964.00 656.64 L964.75 627.69 L965.50 591.97 L967.25 490.82 L967.75 473.64 L968.00 470.19 L968.25 468.93 L968.50 469.00 L968.75 470.20 L969.00 472.85 L969.25 477.27 L971.50 543.49 L972.75 576.43 L974.25 610.33 L976.00 642.28 L977.50 663.27 L978.25 671.59 L979.25 680.43 L980.00 685.39 L980.75 688.91 L981.50 691.02 L982.00 691.72 L982.50 692.03 L984.00 692.49 L985.75 692.87 L989.75 693.42 L994.75 693.75 L1002.00 693.92 L1023.00 694.00 L1135.50 693.97 L1137.50 693.74 L1138.25 693.47 L1139.00 693.01 L1139.50 692.57 L1140.25 691.68 L1142.75 687.90 L1143.50 687.24 L1144.00 687.11 L1144.50 687.24 L1145.25 687.90 L1147.50 691.33 L1148.50 692.57 L1149.50 693.34 L1150.50 693.74 L1151.75 693.93 L1154.00 694.00 L1170.25 694.00 L1170.75 693.96 L1171.00 693.84 L1171.25 693.48 L1171.50 692.60 L1171.75 690.83 L1172.00 687.85 L1172.50 677.67 L1173.00 662.10 L1173.50 641.83 L1174.25 603.61 L1176.00 493.95 L1176.25 484.64 L1176.50 479.21 L1176.75 476.70 L1177.00 475.88 L1177.25 476.03 L1177.50 477.10 L1177.75 479.50 L1178.00 483.67 L1178.50 496.85 L1180.00 543.85 L1181.25 578.36 L1182.75 613.55 L1184.25 642.06 L1185.50 660.76 L1186.25 669.79 L1187.00 677.20 L1187.50 681.23 L1188.25 685.92 L1189.00 689.00 L1189.25 689.67 L1189.75 690.54 L1190.50 691.09 L1192.00 691.66 L1194.25 692.30 L1196.50 692.77 L1201.50 693.40 L1208.25 693.77 L1215.25 693.92 L1226.00 693.98 L1296.25 694.00 L1300.50 693.87 L1303.00 693.45 L1305.00 692.69 L1309.00 690.49 L1310.00 690.15 L1311.00 690.03 L1312.00 690.15 L1313.00 690.49 L1317.00 692.69 L1318.25 693.21 L1319.50 693.57 L1321.25 693.84 L1323.25 693.96 L1327.75 694.00 L1328.25 693.96 L1328.50 693.84 L1328.75 693.48 L1329.00 692.59 L1329.25 690.82 L1329.50 687.84 L1330.00 677.63 L1330.50 662.03 L1331.00 641.71 L1331.75 603.40 L1333.50 493.49 L1333.75 484.16 L1334.00 478.72 L1334.25 476.20 L1334.50 475.39 L1334.75 475.58 L1335.00 476.74 L1335.25 479.35 L1335.50 483.87 L1337.50 548.70 L1338.75 585.29 L1340.00 616.32 L1341.25 641.86 L1342.50 661.95 L1343.75 676.64 L1344.25 681.00 L1345.00 685.94 L1345.50 688.17 L1345.75 688.96 L1346.25 689.99 L1347.00 690.64 L1349.00 691.48 L1351.25 692.18 L1353.75 692.72 L1356.50 693.14 L1359.50 693.44 L1367.50 693.82 L1389.25 693.99 L1499.50 693.97 L1500.50 693.84 L1501.25 693.52 L1501.75 693.09 L1502.25 692.36 L1502.75 691.28 L1503.25 689.80 L1505.00 683.09 L1505.50 681.84 L1505.75 681.50 L1506.00 681.39 L1506.25 681.50 L1506.75 682.38 L1507.25 683.95 L1508.75 689.80 L1509.25 691.28 L1510.00 692.77 L1510.75 693.52 L1511.50 693.84 L1512.75 693.98 L1515.50 693.99 L1515.75 693.93 L1516.00 693.73 L1516.25 693.16 L1516.50 691.88 L1516.75 689.48 L1517.25 680.33 L1517.75 665.21 L1518.25 644.82 L1519.00 605.58 L1520.50 502.25 L1521.00 473.25 L1521.25 465.03 L1521.50 460.78 L1521.75 459.09 L1522.00 458.63 L1522.25 458.79 L1522.50 459.70 L1522.75 462.02 L1523.25 473.54 L1525.00 543.72 L1526.00 579.07 L1527.25 616.22 L1528.25 640.27 L1529.00 653.62 L1529.50 659.02 L1531.25 674.03 L1531.75 676.85 L1532.25 678.52 L1532.50 679.00 L1533.00 679.56 L1535.25 680.92 L1537.75 682.01 L1541.25 683.09 L1541.75 683.36 L1542.00 683.64 L1542.50 684.54 L1545.75 692.16 L1546.25 692.79 L1547.00 693.06 L1550.50 693.39 L1554.75 693.64 L1566.25 693.92 L1589.25 694.00 L1633.25 693.96 L1633.50 693.84 L1633.75 693.56 L1634.25 692.14 L1636.50 679.99 L1637.00 677.99 L1637.25 677.44 L1637.50 677.16 L1638.00 677.01 L1643.75 677.00 L1644.25 676.94 L1644.50 676.75 L1644.75 676.24 L1645.00 675.09 L1645.50 669.86 L1646.50 650.43 L1647.25 624.82 L1648.25 568.73 L1649.50 479.86 L1650.00 451.08 L1650.25 442.95 L1650.50 438.76 L1650.75 437.08 L1651.00 436.63 L1651.25 436.83 L1651.50 437.83 L1651.75 440.38 L1652.25 453.03 L1654.75 559.81 L1655.75 594.55 L1657.00 630.25 L1658.00 652.64 L1658.75 665.47 L1659.50 673.50 L1660.25 678.46 L1661.00 682.13 L1661.25 682.86 L1661.75 683.66 L1662.25 684.04 L1663.25 684.57 L1666.50 685.91 L1668.75 686.59 L1671.25 687.19 L1672.00 687.54 L1672.75 688.40 L1675.50 692.20 L1676.00 692.71 L1676.75 693.00 L1683.00 693.51 L1691.50 693.81 L1704.50 693.95 L1722.25 693.96 L1722.75 693.67 L1723.00 693.27 L1723.50 691.80 L1728.25 672.15 L1728.75 670.36 L1729.25 669.32 L1729.50 669.11 L1730.00 669.00 L1732.75 669.00 L1733.25 669.19 L1733.50 669.68 L1733.75 670.88 L1734.75 682.06 L1735.00 682.02 L1735.25 678.96 L1735.50 672.97 L1736.00 654.25 L1736.75 614.45 L1737.50 563.22 L1739.00 444.99 L1739.25 433.40 L1739.50 426.64 L1739.75 423.48 L1740.00 422.33 L1740.25 422.06 L1740.50 422.29 L1740.75 423.25 L1741.00 425.74 L1741.50 438.59 L1744.00 555.24 L1745.00 592.97 L1746.00 624.29 L1746.75 643.59 L1747.75 663.74 L1748.50 674.45 L1749.00 678.60 L1749.25 679.48 L1749.50 679.71 L1750.25 679.19 L1750.50 679.21 L1753.25 680.94 L1756.25 682.39 L1756.75 682.73 L1757.50 683.90 L1760.50 690.69 L1761.00 691.51 L1761.50 691.92 L1763.00 692.29 L1766.00 692.77 L1772.25 693.39 L1777.00 693.64 L1782.75 693.81 L1799.75 693.97 L1964.00 694.00" fill="none" stroke="#cc5a64" stroke-width="2.6" stroke-linejoin="round"/>
<path d="M106.00 691.50 L144.00 691.48 L145.00 691.38 L145.75 691.18 L146.50 690.79 L148.00 689.77 L148.75 689.59 L149.50 689.82 L151.50 691.11 L152.25 691.35 L153.00 691.46 L164.25 691.49 L164.50 691.43 L164.75 691.23 L165.00 690.65 L165.25 689.28 L165.50 686.63 L166.00 676.11 L166.75 646.67 L167.25 619.14 L168.00 567.54 L169.75 422.40 L170.00 411.14 L170.25 404.91 L170.50 402.17 L170.75 401.25 L171.00 401.16 L171.25 401.61 L171.50 402.90 L172.00 409.65 L175.25 494.06 L176.50 523.00 L178.00 554.47 L180.25 595.23 L181.25 610.93 L182.50 628.50 L183.75 643.83 L185.00 656.92 L186.25 667.82 L187.75 678.02 L189.00 684.13 L189.50 685.97 L190.25 688.09 L190.75 689.07 L191.25 689.72 L192.00 690.17 L193.00 690.37 L196.25 690.79 L200.00 691.09 L210.50 691.41 L226.75 691.49 L279.50 691.50 L281.00 691.43 L282.00 691.19 L282.75 690.82 L284.25 689.79 L285.00 689.58 L285.75 689.79 L287.50 690.96 L288.50 691.34 L290.00 691.49 L294.50 691.50 L296.00 691.43 L297.00 691.19 L297.75 690.82 L299.25 689.79 L300.00 689.58 L300.75 689.79 L302.25 690.82 L303.00 691.19 L304.00 691.43 L305.50 691.50 L465.25 691.48 L466.50 691.39 L467.25 691.21 L468.00 690.80 L468.50 690.34 L469.50 688.83 L471.50 684.57 L472.00 683.92 L472.50 683.70 L473.00 683.92 L473.50 684.57 L475.50 688.83 L476.25 690.04 L476.75 690.59 L477.25 690.97 L477.75 691.21 L478.50 691.39 L481.00 691.50 L524.75 691.50 L525.50 691.45 L525.75 691.32 L526.00 690.92 L526.25 690.00 L526.75 685.30 L527.25 675.66 L527.75 661.25 L528.25 642.67 L529.00 607.85 L530.75 509.91 L531.00 502.31 L531.25 498.11 L531.50 496.29 L531.75 495.78 L532.00 496.08 L532.25 497.26 L532.50 499.77 L532.75 503.91 L534.75 558.87 L536.00 589.68 L537.50 620.84 L539.00 645.84 L540.50 664.93 L541.25 672.33 L542.00 678.33 L542.75 682.98 L543.50 686.32 L544.25 688.40 L544.75 689.16 L545.25 689.54 L546.50 689.95 L548.75 690.43 L551.00 690.77 L553.75 691.04 L560.25 691.34 L570.75 691.47 L960.50 691.50 L961.50 691.43 L961.75 691.25 L962.00 690.76 L962.25 689.69 L962.75 684.77 L963.25 675.49 L964.00 654.14 L964.75 625.19 L965.50 589.47 L967.25 488.32 L967.75 471.14 L968.00 467.69 L968.25 466.43 L968.50 466.50 L968.75 467.70 L969.00 470.35 L969.25 474.77 L971.50 540.99 L972.75 573.93 L974.25 607.83 L976.00 639.78 L977.50 660.77 L978.25 669.09 L979.25 677.93 L980.00 682.89 L980.75 686.41 L981.50 688.52 L982.00 689.22 L982.50 689.53 L984.00 689.99 L985.75 690.37 L989.75 690.92 L994.75 691.25 L1002.00 691.42 L1023.00 691.50 L1135.50 691.47 L1137.50 691.24 L1138.25 690.97 L1139.00 690.51 L1139.50 690.07 L1140.25 689.18 L1142.75 685.40 L1143.50 684.74 L1144.00 684.61 L1144.50 684.74 L1145.25 685.40 L1147.50 688.83 L1148.50 690.07 L1149.50 690.84 L1150.50 691.24 L1151.75 691.43 L1154.00 691.50 L1170.25 691.50 L1170.75 691.46 L1171.00 691.34 L1171.25 690.98 L1171.50 690.10 L1171.75 688.33 L1172.00 685.35 L1172.50 675.17 L1173.00 659.60 L1173.50 639.33 L1174.25 601.11 L1176.00 491.45 L1176.25 482.14 L1176.50 476.71 L1176.75 474.20 L1177.00 473.38 L1177.25 473.53 L1177.50 474.60 L1177.75 477.00 L1178.00 481.17 L1178.50 494.35 L1180.00 541.35 L1181.25 575.86 L1182.75 611.05 L1184.25 639.56 L1185.50 658.26 L1186.25 667.29 L1187.00 674.70 L1187.50 678.73 L1188.25 683.42 L1189.00 686.50 L1189.25 687.17 L1189.75 688.04 L1190.50 688.59 L1192.00 689.16 L1194.25 689.80 L1196.50 690.27 L1201.50 690.90 L1208.25 691.27 L1215.25 691.42 L1226.00 691.48 L1296.25 691.50 L1300.50 691.37 L1303.00 690.95 L1305.00 690.19 L1309.00 687.99 L1310.00 687.65 L1311.00 687.53 L1312.00 687.65 L1313.00 687.99 L1317.00 690.19 L1318.25 690.71 L1319.50 691.07 L1321.25 691.34 L1323.25 691.46 L1327.75 691.50 L1328.25 691.46 L1328.50 691.34 L1328.75 690.98 L1329.00 690.09 L1329.25 688.32 L1329.50 685.34 L1330.00 675.13 L1330.50 659.53 L1331.00 639.21 L1331.75 600.90 L1333.50 490.99 L1333.75 481.66 L1334.00 476.22 L1334.25 473.70 L1334.50 472.89 L1334.75 473.08 L1335.00 474.24 L1335.25 476.85 L1335.50 481.37 L1337.50 546.20 L1338.75 582.79 L1340.00 613.82 L1341.25 639.36 L1342.50 659.45 L1343.75 674.14 L1344.25 678.50 L1345.00 683.44 L1345.50 685.67 L1345.75 686.46 L1346.25 687.49 L1347.00 688.14 L1349.00 688.98 L1351.25 689.68 L1353.75 690.22 L1356.50 690.64 L1359.50 690.94 L1367.50 691.32 L1389.25 691.49 L1499.50 691.47 L1500.50 691.34 L1501.25 691.02 L1501.75 690.59 L1502.25 689.86 L1502.75 688.78 L1503.25 687.30 L1505.00 680.59 L1505.50 679.34 L1505.75 679.00 L1506.00 678.89 L1506.25 679.00 L1506.75 679.88 L1507.25 681.45 L1508.75 687.30 L1509.25 688.78 L1510.00 690.27 L1510.75 691.02 L1511.50 691.34 L1512.75 691.48 L1515.50 691.49 L1515.75 691.43 L1516.00 691.23 L1516.25 690.66 L1516.50 689.38 L1516.75 686.98 L1517.25 677.83 L1517.75 662.71 L1518.25 642.32 L1519.00 603.08 L1520.50 499.75 L1521.00 470.75 L1521.25 462.53 L1521.50 458.28 L1521.75 456.59 L1522.00 456.13 L1522.25 456.29 L1522.50 457.20 L1522.75 459.52 L1523.25 471.04 L1525.00 541.22 L1526.00 576.57 L1527.25 613.72 L1528.25 637.77 L1529.00 651.12 L1529.50 656.52 L1531.25 671.53 L1531.75 674.35 L1532.25 676.02 L1532.50 676.50 L1533.00 677.06 L1535.25 678.42 L1537.75 679.51 L1541.25 680.59 L1541.75 680.86 L1542.00 681.14 L1542.50 682.04 L1545.75 689.66 L1546.25 690.29 L1547.00 690.56 L1550.50 690.89 L1554.75 691.14 L1566.25 691.42 L1589.25 691.50 L1633.25 691.46 L1633.50 691.34 L1633.75 691.06 L1634.25 689.64 L1636.50 677.49 L1637.00 675.49 L1637.25 674.94 L1637.50 674.66 L1638.00 674.51 L1643.75 674.50 L1644.25 674.44 L1644.50 674.25 L1644.75 673.74 L1645.00 672.59 L1645.50 667.36 L1646.50 647.93 L1647.25 622.32 L1648.25 566.23 L1649.50 477.36 L1650.00 448.58 L1650.25 440.45 L1650.50 436.26 L1650.75 434.58 L1651.00 434.13 L1651.25 434.33 L1651.50 435.33 L1651.75 437.88 L1652.25 450.53 L1654.75 557.31 L1655.75 592.05 L1657.00 627.75 L1658.00 650.14 L1658.75 662.97 L1659.50 671.00 L1660.25 675.96 L1661.00 679.63 L1661.25 680.36 L1661.75 681.16 L1662.25 681.54 L1663.25 682.07 L1666.50 683.41 L1668.75 684.09 L1671.25 684.69 L1672.00 685.04 L1672.75 685.90 L1675.50 689.70 L1676.00 690.21 L1676.75 690.50 L1683.00 691.01 L1691.50 691.31 L1704.50 691.45 L1722.25 691.46 L1722.75 691.17 L1723.00 690.77 L1723.50 689.30 L1728.25 669.65 L1728.75 667.86 L1729.25 666.82 L1729.50 666.61 L1730.00 666.50 L1732.75 666.50 L1733.25 666.69 L1733.50 667.18 L1733.75 668.38 L1734.75 679.56 L1735.00 679.52 L1735.25 676.46 L1735.50 670.47 L1736.00 651.75 L1736.75 611.95 L1737.50 560.72 L1739.00 442.49 L1739.25 430.90 L1739.50 424.14 L1739.75 420.98 L1740.00 419.83 L1740.25 419.56 L1740.50 419.79 L1740.75 420.75 L1741.00 423.24 L1741.50 436.09 L1744.00 552.74 L1745.00 590.47 L1746.00 621.79 L1746.75 641.09 L1747.75 661.24 L1748.50 671.95 L1749.00 676.10 L1749.25 676.98 L1749.50 677.21 L1750.25 676.69 L1750.50 676.71 L1753.25 678.44 L1756.25 679.89 L1756.75 680.23 L1757.50 681.40 L1760.50 688.19 L1761.00 689.01 L1761.50 689.42 L1763.00 689.79 L1766.00 690.27 L1772.25 690.89 L1777.00 691.14 L1782.75 691.31 L1799.75 691.47 L1964.00 691.50" fill="none" stroke="#c51f28" stroke-width="3.3" stroke-linejoin="miter" stroke-miterlimit="3"/>
<line x1="104" y1="865" x2="104" y2="1171" stroke="#5f5f5f" stroke-width="3"/>
<line x1="106.6" y1="866" x2="106.6" y2="1169" stroke="#cfcfcf" stroke-width="1.8"/>
<line x1="100.80" y1="870.52" x2="104" y2="870.52" stroke="#7a7a7a" stroke-width="1.6"/>
<line x1="100.80" y1="882.64" x2="104" y2="882.64" stroke="#7a7a7a" stroke-width="1.6"/>
<line x1="100.80" y1="894.76" x2="104" y2="894.76" stroke="#7a7a7a" stroke-width="1.6"/>
<line x1="100.80" y1="906.88" x2="104" y2="906.88" stroke="#7a7a7a" stroke-width="1.6"/>
<line x1="98.50" y1="919.00" x2="104" y2="919.00" stroke="#7a7a7a" stroke-width="1.6"/>
<line x1="100.80" y1="931.12" x2="104" y2="931.12" stroke="#7a7a7a" stroke-width="1.6"/>
<line x1="100.80" y1="943.24" x2="104" y2="943.24" stroke="#7a7a7a" stroke-width="1.6"/>
<line x1="100.80" y1="955.36" x2="104" y2="955.36" stroke="#7a7a7a" stroke-width="1.6"/>
<line x1="100.80" y1="967.48" x2="104" y2="967.48" stroke="#7a7a7a" stroke-width="1.6"/>
<line x1="98.50" y1="979.60" x2="104" y2="979.60" stroke="#7a7a7a" stroke-width="1.6"/>
<line x1="100.80" y1="991.72" x2="104" y2="991.72" stroke="#7a7a7a" stroke-width="1.6"/>
<line x1="100.80" y1="1003.84" x2="104" y2="1003.84" stroke="#7a7a7a" stroke-width="1.6"/>
<line x1="100.80" y1="1015.96" x2="104" y2="1015.96" stroke="#7a7a7a" stroke-width="1.6"/>
<line x1="100.80" y1="1028.08" x2="104" y2="1028.08" stroke="#7a7a7a" stroke-width="1.6"/>
<line x1="98.50" y1="1040.20" x2="104" y2="1040.20" stroke="#7a7a7a" stroke-width="1.6"/>
<line x1="100.80" y1="1052.32" x2="104" y2="1052.32" stroke="#7a7a7a" stroke-width="1.6"/>
<line x1="100.80" y1="1064.44" x2="104" y2="1064.44" stroke="#7a7a7a" stroke-width="1.6"/>
<line x1="100.80" y1="1076.56" x2="104" y2="1076.56" stroke="#7a7a7a" stroke-width="1.6"/>
<line x1="100.80" y1="1088.68" x2="104" y2="1088.68" stroke="#7a7a7a" stroke-width="1.6"/>
<line x1="98.50" y1="1100.80" x2="104" y2="1100.80" stroke="#7a7a7a" stroke-width="1.6"/>
<line x1="100.80" y1="1112.92" x2="104" y2="1112.92" stroke="#7a7a7a" stroke-width="1.6"/>
<line x1="100.80" y1="1125.04" x2="104" y2="1125.04" stroke="#7a7a7a" stroke-width="1.6"/>
<line x1="100.80" y1="1137.16" x2="104" y2="1137.16" stroke="#7a7a7a" stroke-width="1.6"/>
<line x1="100.80" y1="1149.28" x2="104" y2="1149.28" stroke="#7a7a7a" stroke-width="1.6"/>
<line x1="98.50" y1="1161.40" x2="104" y2="1161.40" stroke="#7a7a7a" stroke-width="1.6"/>
<line x1="103" y1="1170.8" x2="1965.5" y2="1170.8" stroke="#5f5f5f" stroke-width="2.6"/>
<line x1="103" y1="1173.2" x2="1965.5" y2="1173.2" stroke="#d6d6d6" stroke-width="1.6"/>
<line x1="106.24" y1="1170.8" x2="106.24" y2="1174.6" stroke="#7a7a7a" stroke-width="1.6"/>
<line x1="126.42" y1="1170.8" x2="126.42" y2="1174.6" stroke="#7a7a7a" stroke-width="1.6"/>
<line x1="146.60" y1="1170.8" x2="146.60" y2="1177.3" stroke="#7a7a7a" stroke-width="1.6"/>
<line x1="166.78" y1="1170.8" x2="166.78" y2="1174.6" stroke="#7a7a7a" stroke-width="1.6"/>
<line x1="186.96" y1="1170.8" x2="186.96" y2="1174.6" stroke="#7a7a7a" stroke-width="1.6"/>
<line x1="207.14" y1="1170.8" x2="207.14" y2="1174.6" stroke="#7a7a7a" stroke-width="1.6"/>
<line x1="227.32" y1="1170.8" x2="227.32" y2="1177.3" stroke="#7a7a7a" stroke-width="1.6"/>
<line x1="247.50" y1="1170.8" x2="247.50" y2="1174.6" stroke="#7a7a7a" stroke-width="1.6"/>
<line x1="267.68" y1="1170.8" x2="267.68" y2="1174.6" stroke="#7a7a7a" stroke-width="1.6"/>
<line x1="287.86" y1="1170.8" x2="287.86" y2="1174.6" stroke="#7a7a7a" stroke-width="1.6"/>
<line x1="308.04" y1="1170.8" x2="308.04" y2="1177.3" stroke="#7a7a7a" stroke-width="1.6"/>
<line x1="328.22" y1="1170.8" x2="328.22" y2="1174.6" stroke="#7a7a7a" stroke-width="1.6"/>
<line x1="348.40" y1="1170.8" x2="348.40" y2="1174.6" stroke="#7a7a7a" stroke-width="1.6"/>
<line x1="368.58" y1="1170.8" x2="368.58" y2="1174.6" stroke="#7a7a7a" stroke-width="1.6"/>
<line x1="388.76" y1="1170.8" x2="388.76" y2="1177.3" stroke="#7a7a7a" stroke-width="1.6"/>
<line x1="408.94" y1="1170.8" x2="408.94" y2="1174.6" stroke="#7a7a7a" stroke-width="1.6"/>
<line x1="429.12" y1="1170.8" x2="429.12" y2="1174.6" stroke="#7a7a7a" stroke-width="1.6"/>
<line x1="449.30" y1="1170.8" x2="449.30" y2="1174.6" stroke="#7a7a7a" stroke-width="1.6"/>
<line x1="469.48" y1="1170.8" x2="469.48" y2="1177.3" stroke="#7a7a7a" stroke-width="1.6"/>
<line x1="489.66" y1="1170.8" x2="489.66" y2="1174.6" stroke="#7a7a7a" stroke-width="1.6"/>
<line x1="509.84" y1="1170.8" x2="509.84" y2="1174.6" stroke="#7a7a7a" stroke-width="1.6"/>
<line x1="530.02" y1="1170.8" x2="530.02" y2="1174.6" stroke="#7a7a7a" stroke-width="1.6"/>
<line x1="550.20" y1="1170.8" x2="550.20" y2="1177.3" stroke="#7a7a7a" stroke-width="1.6"/>
<line x1="570.38" y1="1170.8" x2="570.38" y2="1174.6" stroke="#7a7a7a" stroke-width="1.6"/>
<line x1="590.56" y1="1170.8" x2="590.56" y2="1174.6" stroke="#7a7a7a" stroke-width="1.6"/>
<line x1="610.74" y1="1170.8" x2="610.74" y2="1174.6" stroke="#7a7a7a" stroke-width="1.6"/>
<line x1="630.92" y1="1170.8" x2="630.92" y2="1177.3" stroke="#7a7a7a" stroke-width="1.6"/>
<line x1="651.10" y1="1170.8" x2="651.10" y2="1174.6" stroke="#7a7a7a" stroke-width="1.6"/>
<line x1="671.28" y1="1170.8" x2="671.28" y2="1174.6" stroke="#7a7a7a" stroke-width="1.6"/>
<line x1="691.46" y1="1170.8" x2="691.46" y2="1174.6" stroke="#7a7a7a" stroke-width="1.6"/>
<line x1="711.64" y1="1170.8" x2="711.64" y2="1177.3" stroke="#7a7a7a" stroke-width="1.6"/>
<line x1="731.82" y1="1170.8" x2="731.82" y2="1174.6" stroke="#7a7a7a" stroke-width="1.6"/>
<line x1="752.00" y1="1170.8" x2="752.00" y2="1174.6" stroke="#7a7a7a" stroke-width="1.6"/>
<line x1="772.18" y1="1170.8" x2="772.18" y2="1174.6" stroke="#7a7a7a" stroke-width="1.6"/>
<line x1="792.36" y1="1170.8" x2="792.36" y2="1177.3" stroke="#7a7a7a" stroke-width="1.6"/>
<line x1="812.54" y1="1170.8" x2="812.54" y2="1174.6" stroke="#7a7a7a" stroke-width="1.6"/>
<line x1="832.72" y1="1170.8" x2="832.72" y2="1174.6" stroke="#7a7a7a" stroke-width="1.6"/>
<line x1="852.90" y1="1170.8" x2="852.90" y2="1174.6" stroke="#7a7a7a" stroke-width="1.6"/>
<line x1="873.08" y1="1170.8" x2="873.08" y2="1177.3" stroke="#7a7a7a" stroke-width="1.6"/>
<line x1="893.26" y1="1170.8" x2="893.26" y2="1174.6" stroke="#7a7a7a" stroke-width="1.6"/>
<line x1="913.44" y1="1170.8" x2="913.44" y2="1174.6" stroke="#7a7a7a" stroke-width="1.6"/>
<line x1="933.62" y1="1170.8" x2="933.62" y2="1174.6" stroke="#7a7a7a" stroke-width="1.6"/>
<line x1="953.80" y1="1170.8" x2="953.80" y2="1177.3" stroke="#7a7a7a" stroke-width="1.6"/>
<line x1="973.98" y1="1170.8" x2="973.98" y2="1174.6" stroke="#7a7a7a" stroke-width="1.6"/>
<line x1="994.16" y1="1170.8" x2="994.16" y2="1174.6" stroke="#7a7a7a" stroke-width="1.6"/>
<line x1="1014.34" y1="1170.8" x2="1014.34" y2="1174.6" stroke="#7a7a7a" stroke-width="1.6"/>
<line x1="1034.52" y1="1170.8" x2="1034.52" y2="1177.3" stroke="#7a7a7a" stroke-width="1.6"/>
<line x1="1054.70" y1="1170.8" x2="1054.70" y2="1174.6" stroke="#7a7a7a" stroke-width="1.6"/>
<line x1="1074.88" y1="1170.8" x2="1074.88" y2="1174.6" stroke="#7a7a7a" stroke-width="1.6"/>
<line x1="1095.06" y1="1170.8" x2="1095.06" y2="1174.6" stroke="#7a7a7a" stroke-width="1.6"/>
<line x1="1115.24" y1="1170.8" x2="1115.24" y2="1177.3" stroke="#7a7a7a" stroke-width="1.6"/>
<line x1="1135.42" y1="1170.8" x2="1135.42" y2="1174.6" stroke="#7a7a7a" stroke-width="1.6"/>
<line x1="1155.60" y1="1170.8" x2="1155.60" y2="1174.6" stroke="#7a7a7a" stroke-width="1.6"/>
<line x1="1175.78" y1="1170.8" x2="1175.78" y2="1174.6" stroke="#7a7a7a" stroke-width="1.6"/>
<line x1="1195.96" y1="1170.8" x2="1195.96" y2="1177.3" stroke="#7a7a7a" stroke-width="1.6"/>
<line x1="1216.14" y1="1170.8" x2="1216.14" y2="1174.6" stroke="#7a7a7a" stroke-width="1.6"/>
<line x1="1236.32" y1="1170.8" x2="1236.32" y2="1174.6" stroke="#7a7a7a" stroke-width="1.6"/>
<line x1="1256.50" y1="1170.8" x2="1256.50" y2="1174.6" stroke="#7a7a7a" stroke-width="1.6"/>
<line x1="1276.68" y1="1170.8" x2="1276.68" y2="1177.3" stroke="#7a7a7a" stroke-width="1.6"/>
<line x1="1296.86" y1="1170.8" x2="1296.86" y2="1174.6" stroke="#7a7a7a" stroke-width="1.6"/>
<line x1="1317.04" y1="1170.8" x2="1317.04" y2="1174.6" stroke="#7a7a7a" stroke-width="1.6"/>
<line x1="1337.22" y1="1170.8" x2="1337.22" y2="1174.6" stroke="#7a7a7a" stroke-width="1.6"/>
<line x1="1357.40" y1="1170.8" x2="1357.40" y2="1177.3" stroke="#7a7a7a" stroke-width="1.6"/>
<line x1="1377.58" y1="1170.8" x2="1377.58" y2="1174.6" stroke="#7a7a7a" stroke-width="1.6"/>
<line x1="1397.76" y1="1170.8" x2="1397.76" y2="1174.6" stroke="#7a7a7a" stroke-width="1.6"/>
<line x1="1417.94" y1="1170.8" x2="1417.94" y2="1174.6" stroke="#7a7a7a" stroke-width="1.6"/>
<line x1="1438.12" y1="1170.8" x2="1438.12" y2="1177.3" stroke="#7a7a7a" stroke-width="1.6"/>
<line x1="1458.30" y1="1170.8" x2="1458.30" y2="1174.6" stroke="#7a7a7a" stroke-width="1.6"/>
<line x1="1478.48" y1="1170.8" x2="1478.48" y2="1174.6" stroke="#7a7a7a" stroke-width="1.6"/>
<line x1="1498.66" y1="1170.8" x2="1498.66" y2="1174.6" stroke="#7a7a7a" stroke-width="1.6"/>
<line x1="1518.84" y1="1170.8" x2="1518.84" y2="1177.3" stroke="#7a7a7a" stroke-width="1.6"/>
<line x1="1539.02" y1="1170.8" x2="1539.02" y2="1174.6" stroke="#7a7a7a" stroke-width="1.6"/>
<line x1="1559.20" y1="1170.8" x2="1559.20" y2="1174.6" stroke="#7a7a7a" stroke-width="1.6"/>
<line x1="1579.38" y1="1170.8" x2="1579.38" y2="1174.6" stroke="#7a7a7a" stroke-width="1.6"/>
<line x1="1599.56" y1="1170.8" x2="1599.56" y2="1177.3" stroke="#7a7a7a" stroke-width="1.6"/>
<line x1="1619.74" y1="1170.8" x2="1619.74" y2="1174.6" stroke="#7a7a7a" stroke-width="1.6"/>
<line x1="1639.92" y1="1170.8" x2="1639.92" y2="1174.6" stroke="#7a7a7a" stroke-width="1.6"/>
<line x1="1660.10" y1="1170.8" x2="1660.10" y2="1174.6" stroke="#7a7a7a" stroke-width="1.6"/>
<line x1="1680.28" y1="1170.8" x2="1680.28" y2="1177.3" stroke="#7a7a7a" stroke-width="1.6"/>
<line x1="1700.46" y1="1170.8" x2="1700.46" y2="1174.6" stroke="#7a7a7a" stroke-width="1.6"/>
<line x1="1720.64" y1="1170.8" x2="1720.64" y2="1174.6" stroke="#7a7a7a" stroke-width="1.6"/>
<line x1="1740.82" y1="1170.8" x2="1740.82" y2="1174.6" stroke="#7a7a7a" stroke-width="1.6"/>
<line x1="1761.00" y1="1170.8" x2="1761.00" y2="1177.3" stroke="#7a7a7a" stroke-width="1.6"/>
<line x1="1781.18" y1="1170.8" x2="1781.18" y2="1174.6" stroke="#7a7a7a" stroke-width="1.6"/>
<line x1="1801.36" y1="1170.8" x2="1801.36" y2="1174.6" stroke="#7a7a7a" stroke-width="1.6"/>
<line x1="1821.54" y1="1170.8" x2="1821.54" y2="1174.6" stroke="#7a7a7a" stroke-width="1.6"/>
<line x1="1841.72" y1="1170.8" x2="1841.72" y2="1177.3" stroke="#7a7a7a" stroke-width="1.6"/>
<line x1="1861.90" y1="1170.8" x2="1861.90" y2="1174.6" stroke="#7a7a7a" stroke-width="1.6"/>
<line x1="1882.08" y1="1170.8" x2="1882.08" y2="1174.6" stroke="#7a7a7a" stroke-width="1.6"/>
<line x1="1902.26" y1="1170.8" x2="1902.26" y2="1174.6" stroke="#7a7a7a" stroke-width="1.6"/>
<line x1="1922.44" y1="1170.8" x2="1922.44" y2="1177.3" stroke="#7a7a7a" stroke-width="1.6"/>
<line x1="1942.62" y1="1170.8" x2="1942.62" y2="1174.6" stroke="#7a7a7a" stroke-width="1.6"/>
<line x1="1962.80" y1="1170.8" x2="1962.80" y2="1174.6" stroke="#7a7a7a" stroke-width="1.6"/>
<path d="M105.00 1160.50 L911.00 1160.78 L912.00 1160.71 L912.75 1160.48 L913.25 1160.08 L913.75 1159.35 L914.25 1158.13 L914.75 1156.35 L916.25 1149.69 L916.75 1148.50 L917.00 1148.34 L917.25 1148.50 L917.75 1149.69 L919.25 1156.36 L919.75 1158.13 L920.50 1159.77 L921.00 1160.32 L921.50 1160.59 L922.50 1160.77 L925.25 1160.79 L926.50 1160.72 L927.25 1160.52 L927.75 1160.24 L928.25 1159.77 L928.75 1159.09 L930.25 1156.53 L930.75 1156.07 L931.00 1156.01 L931.25 1156.07 L931.75 1156.53 L933.25 1159.09 L933.75 1159.77 L934.50 1160.40 L935.25 1160.68 L937.50 1160.80 L958.00 1160.75 L958.25 1160.57 L958.50 1160.04 L958.75 1158.81 L959.25 1152.70 L959.75 1140.81 L960.25 1124.14 L961.00 1092.57 L961.75 1054.70 L964.25 903.32 L964.50 894.67 L964.75 889.65 L965.00 887.31 L965.25 886.46 L965.50 886.22 L965.75 886.20 L966.00 886.35 L966.25 886.88 L966.50 888.26 L966.75 891.12 L967.25 902.43 L969.50 978.28 L971.00 1025.41 L972.75 1075.35 L974.25 1113.04 L975.25 1134.73 L976.25 1152.00 L976.75 1157.29 L977.00 1158.74 L977.25 1159.53 L977.50 1159.90 L978.00 1160.13 L979.00 1160.28 L982.75 1160.61 L987.25 1160.75 L994.50 1160.81 L1293.50 1160.91 L1295.00 1160.84 L1296.25 1160.64 L1297.25 1160.30 L1298.00 1159.88 L1298.75 1159.27 L1299.50 1158.46 L1302.50 1154.37 L1303.25 1153.74 L1304.00 1153.51 L1304.50 1153.61 L1305.25 1154.12 L1306.00 1154.96 L1308.75 1158.76 L1309.75 1159.70 L1311.00 1160.42 L1312.25 1160.75 L1313.75 1160.89 L1322.25 1160.92 L1322.50 1160.84 L1322.75 1160.54 L1323.00 1159.66 L1323.25 1157.61 L1323.75 1147.44 L1324.00 1138.68 L1324.50 1114.58 L1325.25 1066.06 L1327.25 901.27 L1327.50 889.15 L1327.75 882.09 L1328.00 878.79 L1328.25 877.58 L1328.50 877.25 L1328.75 877.21 L1329.00 877.39 L1329.25 878.02 L1329.50 879.69 L1329.75 883.12 L1330.25 896.70 L1333.50 1024.77 L1335.00 1076.30 L1336.25 1113.98 L1337.00 1133.55 L1337.75 1149.46 L1338.25 1156.24 L1338.50 1158.10 L1338.75 1159.12 L1339.00 1159.60 L1339.50 1159.91 L1340.25 1160.10 L1343.50 1160.57 L1347.50 1160.81 L1353.25 1160.92 L1496.25 1160.97 L1496.75 1160.69 L1497.00 1160.30 L1497.50 1158.90 L1498.75 1154.33 L1499.00 1153.72 L1499.25 1153.34 L1499.50 1153.14 L1500.25 1153.04 L1508.75 1153.20 L1509.00 1153.36 L1509.25 1153.76 L1510.25 1157.73 L1510.50 1157.41 L1510.75 1155.22 L1511.00 1150.71 L1511.50 1134.85 L1512.50 1083.57 L1513.25 1033.29 L1515.00 897.89 L1515.25 885.90 L1515.50 878.63 L1515.75 875.10 L1516.00 873.75 L1516.25 873.36 L1516.50 873.31 L1516.75 873.45 L1517.00 873.98 L1517.25 875.45 L1517.50 878.60 L1517.75 884.05 L1518.00 891.85 L1521.50 1036.04 L1522.75 1080.92 L1524.00 1120.10 L1524.75 1139.60 L1525.25 1149.49 L1525.75 1155.22 L1526.00 1156.54 L1526.25 1157.19 L1526.50 1157.50 L1527.75 1158.07 L1530.25 1158.89 L1532.50 1159.47 L1535.00 1159.97 L1540.75 1160.73 L1548.00 1161.24 L1556.25 1161.54 L1567.75 1161.77 L1627.00 1162.48 L1627.50 1162.38 L1627.75 1162.16 L1628.25 1161.09 L1630.50 1151.82 L1631.00 1150.29 L1631.25 1149.88 L1631.50 1149.66 L1632.25 1149.55 L1637.25 1149.61 L1637.75 1149.72 L1638.00 1149.98 L1638.25 1150.62 L1638.50 1151.86 L1639.25 1157.60 L1639.50 1158.02 L1639.75 1156.31 L1640.25 1145.24 L1640.75 1125.49 L1641.25 1099.63 L1642.25 1034.51 L1643.75 915.28 L1644.25 886.82 L1644.50 879.54 L1644.75 876.00 L1645.00 874.65 L1645.25 874.26 L1645.50 874.21 L1645.75 874.35 L1646.00 874.88 L1646.25 876.35 L1646.50 879.51 L1646.75 884.97 L1647.00 892.79 L1650.50 1037.26 L1651.75 1082.24 L1653.00 1121.50 L1653.75 1141.03 L1654.25 1150.94 L1654.75 1156.69 L1655.00 1158.01 L1655.25 1158.67 L1655.50 1158.97 L1656.50 1159.44 L1658.75 1160.22 L1663.00 1161.26 L1668.00 1162.02 L1674.25 1162.56 L1680.25 1162.86 L1687.75 1163.08 L1714.00 1163.48 L1715.50 1163.45 L1719.25 1163.04 L1719.75 1162.70 L1720.25 1161.59 L1722.00 1154.33 L1723.00 1149.42 L1724.25 1140.99 L1724.75 1139.01 L1725.00 1138.58 L1725.25 1138.37 L1727.25 1137.80 L1727.50 1137.67 L1727.75 1137.31 L1728.00 1136.28 L1728.25 1133.80 L1728.75 1121.55 L1729.75 1076.31 L1730.50 1034.58 L1732.00 922.58 L1732.50 894.44 L1732.75 886.68 L1733.00 882.71 L1733.25 881.12 L1733.50 880.64 L1733.75 880.54 L1734.00 880.61 L1734.25 881.00 L1734.50 882.27 L1734.75 885.45 L1735.25 901.40 L1738.25 1079.34 L1739.00 1116.48 L1739.50 1133.07 L1739.75 1137.35 L1740.00 1139.54 L1740.25 1140.52 L1740.75 1141.26 L1743.50 1143.86 L1744.25 1144.81 L1748.50 1154.02 L1751.25 1159.64 L1752.00 1160.85 L1752.50 1161.29 L1753.00 1161.58 L1755.00 1162.62 L1755.75 1162.87 L1757.00 1162.70 L1759.25 1162.17 L1760.00 1161.89 L1761.00 1161.12 L1763.25 1159.04 L1764.00 1157.96 L1766.75 1153.35 L1767.25 1152.88 L1767.50 1152.81 L1768.00 1152.94 L1769.75 1153.88 L1773.00 1155.95 L1776.50 1157.34 L1777.00 1157.38 L1777.50 1157.29 L1782.00 1156.06 L1787.25 1156.41 L1787.75 1156.36 L1788.00 1156.19 L1788.50 1155.26 L1789.00 1153.55 L1795.50 1126.95 L1796.50 1121.47 L1798.00 1111.03 L1798.50 1105.70 L1798.75 1101.00 L1799.50 1074.06 L1802.25 940.92 L1802.75 928.39 L1803.00 925.89 L1803.25 924.89 L1803.50 924.59 L1803.75 924.53 L1804.00 924.60 L1804.25 924.95 L1804.50 926.09 L1804.75 928.94 L1805.25 943.26 L1808.25 1106.77 L1808.75 1122.79 L1809.00 1127.00 L1809.50 1131.71 L1811.00 1141.31 L1811.75 1144.09 L1813.00 1147.51 L1813.50 1148.43 L1814.00 1148.97 L1818.50 1152.12 L1819.00 1152.34 L1819.75 1152.33 L1826.25 1150.90 L1833.50 1148.31 L1834.00 1147.97 L1834.50 1147.11 L1835.00 1145.55 L1836.50 1139.64 L1837.00 1137.33 L1837.50 1134.14 L1839.25 1118.38 L1839.75 1112.51 L1840.00 1108.08 L1840.75 1084.08 L1844.50 919.06 L1845.00 906.87 L1845.25 904.20 L1845.50 903.03 L1845.75 902.63 L1846.00 902.55 L1846.25 902.63 L1846.50 903.01 L1846.75 904.13 L1847.00 906.69 L1847.50 918.39 L1851.50 1087.67 L1852.25 1112.38 L1853.00 1127.16 L1853.75 1136.63 L1854.25 1139.39 L1855.50 1142.70 L1856.00 1143.68 L1856.50 1144.27 L1858.75 1145.77 L1859.25 1146.01 L1859.75 1146.09 L1866.00 1144.96 L1872.25 1142.49 L1872.75 1142.13 L1873.50 1141.16 L1877.00 1135.42 L1877.50 1133.81 L1878.00 1130.83 L1879.75 1115.83 L1880.25 1108.79 L1880.50 1102.81 L1881.25 1073.37 L1883.75 953.76 L1884.50 922.26 L1885.00 911.24 L1885.25 909.14 L1885.50 908.32 L1885.75 908.07 L1886.00 908.03 L1886.25 908.12 L1886.50 908.49 L1886.75 909.58 L1887.00 912.08 L1887.50 923.44 L1891.25 1077.91 L1892.00 1103.56 L1892.25 1108.69 L1892.75 1114.58 L1895.25 1131.94 L1896.00 1135.81 L1896.25 1136.52 L1896.75 1137.33 L1900.75 1141.43 L1901.50 1142.02 L1902.00 1142.10 L1903.25 1141.76 L1906.50 1140.68 L1907.00 1140.40 L1907.25 1140.13 L1907.75 1139.19 L1908.25 1137.81 L1910.25 1131.76 L1911.00 1129.16 L1911.75 1125.17 L1913.25 1115.12 L1913.75 1109.77 L1914.00 1105.06 L1914.50 1089.60 L1917.00 977.96 L1917.50 959.05 L1918.00 948.58 L1918.25 946.58 L1918.50 945.80 L1918.75 945.57 L1919.00 945.56 L1919.25 945.74 L1919.50 946.40 L1919.75 948.13 L1920.00 951.70 L1920.50 965.92 L1923.00 1077.32 L1923.75 1104.06 L1924.00 1109.21 L1924.50 1115.09 L1926.75 1131.18 L1927.50 1135.71 L1928.00 1137.65 L1928.50 1139.04 L1933.50 1151.75 L1934.25 1153.42 L1934.75 1154.15 L1935.25 1154.66 L1940.00 1158.95 L1945.00 1162.01 L1946.00 1162.49 L1954.50 1163.92 L1960.00 1164.32 L1961.00 1164.32 L1961.75 1164.01 L1964.00 1162.62" fill="none" stroke="#cdcdcd" stroke-width="5.5" stroke-linejoin="round"/>
<path d="M959.25 1152.70 L959.75 1140.81 L960.25 1124.14 L961.25 1080.59 L962.25 1026.43 L964.25 903.32 L964.75 889.65 L965.00 887.31 L965.25 886.46 L965.50 886.22 L965.75 886.20 L966.00 886.35 L966.25 886.88 L966.50 888.26 L967.00 895.87 L970.25 1002.32 L972.25 1061.68 L974.50 1118.76 L975.50 1139.58 L976.25 1152.00 Z" fill="url(#g17)" stroke="none"/>
<path d="M1323.75 1147.44 L1324.50 1114.58 L1325.25 1066.06 L1327.25 901.27 L1327.75 882.09 L1328.00 878.79 L1328.25 877.58 L1328.50 877.25 L1328.75 877.21 L1329.00 877.39 L1329.25 878.02 L1329.50 879.69 L1330.00 888.83 L1332.75 996.84 L1334.50 1059.81 L1336.25 1113.98 L1337.75 1149.46 Z" fill="url(#g18)" stroke="none"/>
<path d="M1511.00 1150.71 L1511.75 1124.08 L1512.75 1067.78 L1515.00 897.89 L1515.50 878.63 L1515.75 875.10 L1516.00 873.75 L1516.25 873.36 L1516.50 873.31 L1516.75 873.45 L1517.00 873.98 L1517.25 875.45 L1517.75 884.05 L1518.00 891.85 L1520.50 996.93 L1522.25 1063.56 L1524.00 1120.10 L1525.25 1149.49 Z" fill="url(#g19)" stroke="none"/>
<path d="M1640.00 1152.03 L1640.75 1125.49 L1641.75 1069.07 L1644.00 898.84 L1644.50 879.54 L1644.75 876.00 L1645.00 874.65 L1645.25 874.26 L1645.50 874.21 L1645.75 874.35 L1646.00 874.88 L1646.25 876.35 L1646.75 884.97 L1647.00 892.79 L1649.50 998.08 L1651.25 1064.84 L1653.00 1121.50 L1654.25 1150.94 Z" fill="url(#g20)" stroke="none"/>
<path d="M1729.00 1111.78 L1730.50 1034.58 L1732.00 922.58 L1732.50 894.44 L1732.75 886.68 L1733.00 882.71 L1733.25 881.12 L1733.50 880.64 L1733.75 880.54 L1734.00 880.61 L1734.25 881.00 L1734.50 882.27 L1734.75 885.45 L1735.25 901.40 L1737.75 1052.29 L1739.25 1126.09 Z" fill="url(#g21)" stroke="none"/>
<path d="M1797.00 1118.10 L1798.25 1108.80 L1798.75 1101.00 L1799.00 1094.11 L1799.75 1062.15 L1802.00 950.96 L1802.50 933.26 L1802.75 928.39 L1803.00 925.89 L1803.25 924.89 L1803.50 924.59 L1804.00 924.60 L1804.25 924.95 L1804.50 926.09 L1804.75 928.94 L1805.25 943.26 L1808.00 1094.96 L1808.50 1116.17 L1808.75 1122.79 L1809.25 1129.71 L1811.00 1141.31 Z" fill="url(#g22)" stroke="none"/>
<path d="M1838.50 1125.41 L1839.75 1112.51 L1840.50 1093.77 L1844.00 938.83 L1844.75 911.75 L1845.25 904.20 L1845.50 903.03 L1845.75 902.63 L1846.00 902.55 L1846.25 902.63 L1846.50 903.01 L1846.75 904.13 L1847.00 906.69 L1847.50 918.39 L1851.75 1097.20 L1852.50 1118.02 L1853.50 1134.21 Z" fill="url(#g23)" stroke="none"/>
<path d="M1878.50 1126.84 L1880.00 1112.90 L1880.50 1102.81 L1881.25 1073.37 L1884.50 922.26 L1885.00 911.24 L1885.25 909.14 L1885.50 908.32 L1885.75 908.07 L1886.00 908.03 L1886.25 908.12 L1886.50 908.49 L1886.75 909.58 L1887.00 912.08 L1887.50 923.44 L1891.25 1077.91 L1892.00 1103.56 L1892.25 1108.69 L1892.75 1114.58 L1894.50 1126.88 Z" fill="url(#g24)" stroke="none"/>
<path d="M1912.00 1123.58 L1913.50 1112.90 L1914.00 1105.06 L1914.75 1079.44 L1917.50 959.05 L1918.00 948.58 L1918.25 946.58 L1918.50 945.80 L1918.75 945.57 L1919.00 945.56 L1919.25 945.74 L1919.50 946.40 L1919.75 948.13 L1920.00 951.70 L1920.50 965.92 L1923.00 1077.32 L1923.75 1104.06 L1924.00 1109.21 L1924.50 1115.09 L1926.50 1129.44 Z" fill="url(#g25)" stroke="none"/>
<path d="M105.00 1163.40 L911.00 1163.68 L912.00 1163.61 L912.75 1163.38 L913.25 1162.98 L913.75 1162.25 L914.25 1161.03 L914.75 1159.25 L916.25 1152.59 L916.75 1151.40 L917.00 1151.24 L917.25 1151.40 L917.75 1152.59 L919.25 1159.26 L919.75 1161.03 L920.50 1162.67 L921.00 1163.22 L921.50 1163.49 L922.50 1163.67 L925.25 1163.69 L926.50 1163.62 L927.25 1163.42 L927.75 1163.14 L928.25 1162.67 L928.75 1161.99 L930.25 1159.43 L930.75 1158.97 L931.00 1158.91 L931.25 1158.97 L931.75 1159.43 L933.25 1161.99 L933.75 1162.67 L934.50 1163.30 L935.25 1163.58 L937.50 1163.70 L958.00 1163.65 L958.25 1163.47 L958.50 1162.94 L958.75 1161.71 L959.25 1155.60 L959.75 1143.71 L960.25 1127.04 L961.00 1095.47 L961.75 1057.60 L964.25 906.22 L964.50 897.57 L964.75 892.55 L965.00 890.21 L965.25 889.36 L965.50 889.12 L965.75 889.10 L966.00 889.25 L966.25 889.78 L966.50 891.16 L966.75 894.02 L967.25 905.33 L969.50 981.18 L971.00 1028.31 L972.75 1078.25 L974.25 1115.94 L975.25 1137.63 L976.25 1154.90 L976.75 1160.19 L977.00 1161.64 L977.25 1162.43 L977.50 1162.80 L978.00 1163.03 L979.00 1163.18 L982.75 1163.51 L987.25 1163.65 L994.50 1163.71 L1293.50 1163.81 L1295.00 1163.74 L1296.25 1163.54 L1297.25 1163.20 L1298.00 1162.78 L1298.75 1162.17 L1299.50 1161.36 L1302.50 1157.27 L1303.25 1156.64 L1304.00 1156.41 L1304.50 1156.51 L1305.25 1157.02 L1306.00 1157.86 L1308.75 1161.66 L1309.75 1162.60 L1311.00 1163.32 L1312.25 1163.65 L1313.75 1163.79 L1322.25 1163.82 L1322.50 1163.74 L1322.75 1163.44 L1323.00 1162.56 L1323.25 1160.51 L1323.75 1150.34 L1324.00 1141.58 L1324.50 1117.48 L1325.25 1068.96 L1327.25 904.17 L1327.50 892.05 L1327.75 884.99 L1328.00 881.69 L1328.25 880.48 L1328.50 880.15 L1328.75 880.11 L1329.00 880.29 L1329.25 880.92 L1329.50 882.59 L1329.75 886.02 L1330.25 899.60 L1333.50 1027.67 L1335.00 1079.20 L1336.25 1116.88 L1337.00 1136.45 L1337.75 1152.36 L1338.25 1159.14 L1338.50 1161.00 L1338.75 1162.02 L1339.00 1162.50 L1339.50 1162.81 L1340.25 1163.00 L1343.50 1163.47 L1347.50 1163.71 L1353.25 1163.82 L1496.25 1163.87 L1496.75 1163.59 L1497.00 1163.20 L1497.50 1161.80 L1498.75 1157.23 L1499.00 1156.62 L1499.25 1156.24 L1499.50 1156.04 L1500.25 1155.94 L1508.75 1156.10 L1509.00 1156.26 L1509.25 1156.66 L1510.25 1160.63 L1510.50 1160.31 L1510.75 1158.12 L1511.00 1153.61 L1511.50 1137.75 L1512.50 1086.47 L1513.25 1036.19 L1515.00 900.79 L1515.25 888.80 L1515.50 881.53 L1515.75 878.00 L1516.00 876.65 L1516.25 876.26 L1516.50 876.21 L1516.75 876.35 L1517.00 876.88 L1517.25 878.35 L1517.50 881.50 L1517.75 886.95 L1518.00 894.75 L1521.50 1038.94 L1522.75 1083.82 L1524.00 1123.00 L1524.75 1142.50 L1525.25 1152.39 L1525.75 1158.12 L1526.00 1159.44 L1526.25 1160.09 L1526.50 1160.40 L1527.75 1160.97 L1530.25 1161.79 L1532.50 1162.37 L1535.00 1162.87 L1540.75 1163.63 L1548.00 1164.14 L1556.25 1164.44 L1567.75 1164.67 L1627.00 1165.38 L1627.50 1165.28 L1627.75 1165.06 L1628.25 1163.99 L1630.50 1154.72 L1631.00 1153.19 L1631.25 1152.78 L1631.50 1152.56 L1632.25 1152.45 L1637.25 1152.51 L1637.75 1152.62 L1638.00 1152.88 L1638.25 1153.52 L1638.50 1154.76 L1639.25 1160.50 L1639.50 1160.92 L1639.75 1159.21 L1640.25 1148.14 L1640.75 1128.39 L1641.25 1102.53 L1642.25 1037.41 L1643.75 918.18 L1644.25 889.72 L1644.50 882.44 L1644.75 878.90 L1645.00 877.55 L1645.25 877.16 L1645.50 877.11 L1645.75 877.25 L1646.00 877.78 L1646.25 879.25 L1646.50 882.41 L1646.75 887.87 L1647.00 895.69 L1650.50 1040.16 L1651.75 1085.14 L1653.00 1124.40 L1653.75 1143.93 L1654.25 1153.84 L1654.75 1159.59 L1655.00 1160.91 L1655.25 1161.57 L1655.50 1161.87 L1656.50 1162.34 L1658.75 1163.12 L1663.00 1164.16 L1668.00 1164.92 L1674.25 1165.46 L1680.25 1165.76 L1687.75 1165.98 L1714.00 1166.38 L1715.50 1166.35 L1719.25 1165.94 L1719.75 1165.60 L1720.25 1164.49 L1722.00 1157.23 L1723.00 1152.32 L1724.25 1143.89 L1724.75 1141.91 L1725.00 1141.48 L1725.25 1141.27 L1727.25 1140.70 L1727.50 1140.57 L1727.75 1140.21 L1728.00 1139.18 L1728.25 1136.70 L1728.75 1124.45 L1729.75 1079.21 L1730.50 1037.48 L1732.00 925.48 L1732.50 897.34 L1732.75 889.58 L1733.00 885.61 L1733.25 884.02 L1733.50 883.54 L1733.75 883.44 L1734.00 883.51 L1734.25 883.90 L1734.50 885.17 L1734.75 888.35 L1735.25 904.30 L1738.25 1082.24 L1739.00 1119.38 L1739.50 1135.97 L1739.75 1140.25 L1740.00 1142.44 L1740.25 1143.42 L1740.75 1144.16 L1743.50 1146.76 L1744.25 1147.71 L1748.50 1156.92 L1751.25 1162.54 L1752.00 1163.75 L1752.50 1164.19 L1753.00 1164.48 L1755.00 1165.52 L1755.75 1165.77 L1757.00 1165.60 L1759.25 1165.07 L1760.00 1164.79 L1761.00 1164.02 L1763.25 1161.94 L1764.00 1160.86 L1766.75 1156.25 L1767.25 1155.78 L1767.50 1155.71 L1768.00 1155.84 L1769.75 1156.78 L1773.00 1158.85 L1776.50 1160.24 L1777.00 1160.28 L1777.50 1160.19 L1782.00 1158.96 L1787.25 1159.31 L1787.75 1159.26 L1788.00 1159.09 L1788.50 1158.16 L1789.00 1156.45 L1795.50 1129.85 L1796.50 1124.37 L1798.00 1113.93 L1798.50 1108.60 L1798.75 1103.90 L1799.50 1076.96 L1802.25 943.82 L1802.75 931.29 L1803.00 928.79 L1803.25 927.79 L1803.50 927.49 L1803.75 927.43 L1804.00 927.50 L1804.25 927.85 L1804.50 928.99 L1804.75 931.84 L1805.25 946.16 L1808.25 1109.67 L1808.75 1125.69 L1809.00 1129.90 L1809.50 1134.61 L1811.00 1144.21 L1811.75 1146.99 L1813.00 1150.41 L1813.50 1151.33 L1814.00 1151.87 L1818.50 1155.02 L1819.00 1155.24 L1819.75 1155.23 L1826.25 1153.80 L1833.50 1151.21 L1834.00 1150.87 L1834.50 1150.01 L1835.00 1148.45 L1836.50 1142.54 L1837.00 1140.23 L1837.50 1137.04 L1839.25 1121.28 L1839.75 1115.41 L1840.00 1110.98 L1840.75 1086.98 L1844.50 921.96 L1845.00 909.77 L1845.25 907.10 L1845.50 905.93 L1845.75 905.53 L1846.00 905.45 L1846.25 905.53 L1846.50 905.91 L1846.75 907.03 L1847.00 909.59 L1847.50 921.29 L1851.50 1090.57 L1852.25 1115.28 L1853.00 1130.06 L1853.75 1139.53 L1854.25 1142.29 L1855.50 1145.60 L1856.00 1146.58 L1856.50 1147.17 L1858.75 1148.67 L1859.25 1148.91 L1859.75 1148.99 L1866.00 1147.86 L1872.25 1145.39 L1872.75 1145.03 L1873.50 1144.06 L1877.00 1138.32 L1877.50 1136.71 L1878.00 1133.73 L1879.75 1118.73 L1880.25 1111.69 L1880.50 1105.71 L1881.25 1076.27 L1883.75 956.66 L1884.50 925.16 L1885.00 914.14 L1885.25 912.04 L1885.50 911.22 L1885.75 910.97 L1886.00 910.93 L1886.25 911.02 L1886.50 911.39 L1886.75 912.48 L1887.00 914.98 L1887.50 926.34 L1891.25 1080.81 L1892.00 1106.46 L1892.25 1111.59 L1892.75 1117.48 L1895.25 1134.84 L1896.00 1138.71 L1896.25 1139.42 L1896.75 1140.23 L1900.75 1144.33 L1901.50 1144.92 L1902.00 1145.00 L1903.25 1144.66 L1906.50 1143.58 L1907.00 1143.30 L1907.25 1143.03 L1907.75 1142.09 L1908.25 1140.71 L1910.25 1134.66 L1911.00 1132.06 L1911.75 1128.07 L1913.25 1118.02 L1913.75 1112.67 L1914.00 1107.96 L1914.50 1092.50 L1917.00 980.86 L1917.50 961.95 L1918.00 951.48 L1918.25 949.48 L1918.50 948.70 L1918.75 948.47 L1919.00 948.46 L1919.25 948.64 L1919.50 949.30 L1919.75 951.03 L1920.00 954.60 L1920.50 968.82 L1923.00 1080.22 L1923.75 1106.96 L1924.00 1112.11 L1924.50 1117.99 L1926.75 1134.08 L1927.50 1138.61 L1928.00 1140.55 L1928.50 1141.94 L1933.50 1154.65 L1934.25 1156.32 L1934.75 1157.05 L1935.25 1157.56 L1940.00 1161.85 L1945.00 1164.91 L1946.00 1165.39 L1954.50 1166.82 L1960.00 1167.22 L1961.00 1167.22 L1961.75 1166.91 L1964.00 1165.52" fill="none" stroke="#8f8f8f" stroke-width="2.4" stroke-linejoin="round"/>
<path d="M105.00 1160.50 L911.00 1160.78 L912.00 1160.71 L912.75 1160.48 L913.25 1160.08 L913.75 1159.35 L914.25 1158.13 L914.75 1156.35 L916.25 1149.69 L916.75 1148.50 L917.00 1148.34 L917.25 1148.50 L917.75 1149.69 L919.25 1156.36 L919.75 1158.13 L920.50 1159.77 L921.00 1160.32 L921.50 1160.59 L922.50 1160.77 L925.25 1160.79 L926.50 1160.72 L927.25 1160.52 L927.75 1160.24 L928.25 1159.77 L928.75 1159.09 L930.25 1156.53 L930.75 1156.07 L931.00 1156.01 L931.25 1156.07 L931.75 1156.53 L933.25 1159.09 L933.75 1159.77 L934.50 1160.40 L935.25 1160.68 L937.50 1160.80 L958.00 1160.75 L958.25 1160.57 L958.50 1160.04 L958.75 1158.81 L959.25 1152.70 L959.75 1140.81 L960.25 1124.14 L961.00 1092.57 L961.75 1054.70 L964.25 903.32 L964.50 894.67 L964.75 889.65 L965.00 887.31 L965.25 886.46 L965.50 886.22 L965.75 886.20 L966.00 886.35 L966.25 886.88 L966.50 888.26 L966.75 891.12 L967.25 902.43 L969.50 978.28 L971.00 1025.41 L972.75 1075.35 L974.25 1113.04 L975.25 1134.73 L976.25 1152.00 L976.75 1157.29 L977.00 1158.74 L977.25 1159.53 L977.50 1159.90 L978.00 1160.13 L979.00 1160.28 L982.75 1160.61 L987.25 1160.75 L994.50 1160.81 L1293.50 1160.91 L1295.00 1160.84 L1296.25 1160.64 L1297.25 1160.30 L1298.00 1159.88 L1298.75 1159.27 L1299.50 1158.46 L1302.50 1154.37 L1303.25 1153.74 L1304.00 1153.51 L1304.50 1153.61 L1305.25 1154.12 L1306.00 1154.96 L1308.75 1158.76 L1309.75 1159.70 L1311.00 1160.42 L1312.25 1160.75 L1313.75 1160.89 L1322.25 1160.92 L1322.50 1160.84 L1322.75 1160.54 L1323.00 1159.66 L1323.25 1157.61 L1323.75 1147.44 L1324.00 1138.68 L1324.50 1114.58 L1325.25 1066.06 L1327.25 901.27 L1327.50 889.15 L1327.75 882.09 L1328.00 878.79 L1328.25 877.58 L1328.50 877.25 L1328.75 877.21 L1329.00 877.39 L1329.25 878.02 L1329.50 879.69 L1329.75 883.12 L1330.25 896.70 L1333.50 1024.77 L1335.00 1076.30 L1336.25 1113.98 L1337.00 1133.55 L1337.75 1149.46 L1338.25 1156.24 L1338.50 1158.10 L1338.75 1159.12 L1339.00 1159.60 L1339.50 1159.91 L1340.25 1160.10 L1343.50 1160.57 L1347.50 1160.81 L1353.25 1160.92 L1496.25 1160.97 L1496.75 1160.69 L1497.00 1160.30 L1497.50 1158.90 L1498.75 1154.33 L1499.00 1153.72 L1499.25 1153.34 L1499.50 1153.14 L1500.25 1153.04 L1508.75 1153.20 L1509.00 1153.36 L1509.25 1153.76 L1510.25 1157.73 L1510.50 1157.41 L1510.75 1155.22 L1511.00 1150.71 L1511.50 1134.85 L1512.50 1083.57 L1513.25 1033.29 L1515.00 897.89 L1515.25 885.90 L1515.50 878.63 L1515.75 875.10 L1516.00 873.75 L1516.25 873.36 L1516.50 873.31 L1516.75 873.45 L1517.00 873.98 L1517.25 875.45 L1517.50 878.60 L1517.75 884.05 L1518.00 891.85 L1521.50 1036.04 L1522.75 1080.92 L1524.00 1120.10 L1524.75 1139.60 L1525.25 1149.49 L1525.75 1155.22 L1526.00 1156.54 L1526.25 1157.19 L1526.50 1157.50 L1527.75 1158.07 L1530.25 1158.89 L1532.50 1159.47 L1535.00 1159.97 L1540.75 1160.73 L1548.00 1161.24 L1556.25 1161.54 L1567.75 1161.77 L1627.00 1162.48 L1627.50 1162.38 L1627.75 1162.16 L1628.25 1161.09 L1630.50 1151.82 L1631.00 1150.29 L1631.25 1149.88 L1631.50 1149.66 L1632.25 1149.55 L1637.25 1149.61 L1637.75 1149.72 L1638.00 1149.98 L1638.25 1150.62 L1638.50 1151.86 L1639.25 1157.60 L1639.50 1158.02 L1639.75 1156.31 L1640.25 1145.24 L1640.75 1125.49 L1641.25 1099.63 L1642.25 1034.51 L1643.75 915.28 L1644.25 886.82 L1644.50 879.54 L1644.75 876.00 L1645.00 874.65 L1645.25 874.26 L1645.50 874.21 L1645.75 874.35 L1646.00 874.88 L1646.25 876.35 L1646.50 879.51 L1646.75 884.97 L1647.00 892.79 L1650.50 1037.26 L1651.75 1082.24 L1653.00 1121.50 L1653.75 1141.03 L1654.25 1150.94 L1654.75 1156.69 L1655.00 1158.01 L1655.25 1158.67 L1655.50 1158.97 L1656.50 1159.44 L1658.75 1160.22 L1663.00 1161.26 L1668.00 1162.02 L1674.25 1162.56 L1680.25 1162.86 L1687.75 1163.08 L1714.00 1163.48 L1715.50 1163.45 L1719.25 1163.04 L1719.75 1162.70 L1720.25 1161.59 L1722.00 1154.33 L1723.00 1149.42 L1724.25 1140.99 L1724.75 1139.01 L1725.00 1138.58 L1725.25 1138.37 L1727.25 1137.80 L1727.50 1137.67 L1727.75 1137.31 L1728.00 1136.28 L1728.25 1133.80 L1728.75 1121.55 L1729.75 1076.31 L1730.50 1034.58 L1732.00 922.58 L1732.50 894.44 L1732.75 886.68 L1733.00 882.71 L1733.25 881.12 L1733.50 880.64 L1733.75 880.54 L1734.00 880.61 L1734.25 881.00 L1734.50 882.27 L1734.75 885.45 L1735.25 901.40 L1738.25 1079.34 L1739.00 1116.48 L1739.50 1133.07 L1739.75 1137.35 L1740.00 1139.54 L1740.25 1140.52 L1740.75 1141.26 L1743.50 1143.86 L1744.25 1144.81 L1748.50 1154.02 L1751.25 1159.64 L1752.00 1160.85 L1752.50 1161.29 L1753.00 1161.58 L1755.00 1162.62 L1755.75 1162.87 L1757.00 1162.70 L1759.25 1162.17 L1760.00 1161.89 L1761.00 1161.12 L1763.25 1159.04 L1764.00 1157.96 L1766.75 1153.35 L1767.25 1152.88 L1767.50 1152.81 L1768.00 1152.94 L1769.75 1153.88 L1773.00 1155.95 L1776.50 1157.34 L1777.00 1157.38 L1777.50 1157.29 L1782.00 1156.06 L1787.25 1156.41 L1787.75 1156.36 L1788.00 1156.19 L1788.50 1155.26 L1789.00 1153.55 L1795.50 1126.95 L1796.50 1121.47 L1798.00 1111.03 L1798.50 1105.70 L1798.75 1101.00 L1799.50 1074.06 L1802.25 940.92 L1802.75 928.39 L1803.00 925.89 L1803.25 924.89 L1803.50 924.59 L1803.75 924.53 L1804.00 924.60 L1804.25 924.95 L1804.50 926.09 L1804.75 928.94 L1805.25 943.26 L1808.25 1106.77 L1808.75 1122.79 L1809.00 1127.00 L1809.50 1131.71 L1811.00 1141.31 L1811.75 1144.09 L1813.00 1147.51 L1813.50 1148.43 L1814.00 1148.97 L1818.50 1152.12 L1819.00 1152.34 L1819.75 1152.33 L1826.25 1150.90 L1833.50 1148.31 L1834.00 1147.97 L1834.50 1147.11 L1835.00 1145.55 L1836.50 1139.64 L1837.00 1137.33 L1837.50 1134.14 L1839.25 1118.38 L1839.75 1112.51 L1840.00 1108.08 L1840.75 1084.08 L1844.50 919.06 L1845.00 906.87 L1845.25 904.20 L1845.50 903.03 L1845.75 902.63 L1846.00 902.55 L1846.25 902.63 L1846.50 903.01 L1846.75 904.13 L1847.00 906.69 L1847.50 918.39 L1851.50 1087.67 L1852.25 1112.38 L1853.00 1127.16 L1853.75 1136.63 L1854.25 1139.39 L1855.50 1142.70 L1856.00 1143.68 L1856.50 1144.27 L1858.75 1145.77 L1859.25 1146.01 L1859.75 1146.09 L1866.00 1144.96 L1872.25 1142.49 L1872.75 1142.13 L1873.50 1141.16 L1877.00 1135.42 L1877.50 1133.81 L1878.00 1130.83 L1879.75 1115.83 L1880.25 1108.79 L1880.50 1102.81 L1881.25 1073.37 L1883.75 953.76 L1884.50 922.26 L1885.00 911.24 L1885.25 909.14 L1885.50 908.32 L1885.75 908.07 L1886.00 908.03 L1886.25 908.12 L1886.50 908.49 L1886.75 909.58 L1887.00 912.08 L1887.50 923.44 L1891.25 1077.91 L1892.00 1103.56 L1892.25 1108.69 L1892.75 1114.58 L1895.25 1131.94 L1896.00 1135.81 L1896.25 1136.52 L1896.75 1137.33 L1900.75 1141.43 L1901.50 1142.02 L1902.00 1142.10 L1903.25 1141.76 L1906.50 1140.68 L1907.00 1140.40 L1907.25 1140.13 L1907.75 1139.19 L1908.25 1137.81 L1910.25 1131.76 L1911.00 1129.16 L1911.75 1125.17 L1913.25 1115.12 L1913.75 1109.77 L1914.00 1105.06 L1914.50 1089.60 L1917.00 977.96 L1917.50 959.05 L1918.00 948.58 L1918.25 946.58 L1918.50 945.80 L1918.75 945.57 L1919.00 945.56 L1919.25 945.74 L1919.50 946.40 L1919.75 948.13 L1920.00 951.70 L1920.50 965.92 L1923.00 1077.32 L1923.75 1104.06 L1924.00 1109.21 L1924.50 1115.09 L1926.75 1131.18 L1927.50 1135.71 L1928.00 1137.65 L1928.50 1139.04 L1933.50 1151.75 L1934.25 1153.42 L1934.75 1154.15 L1935.25 1154.66 L1940.00 1158.95 L1945.00 1162.01 L1946.00 1162.49 L1954.50 1163.92 L1960.00 1164.32 L1961.00 1164.32 L1961.75 1164.01 L1964.00 1162.62" fill="none" stroke="#151515" stroke-width="3.3" stroke-linejoin="miter" stroke-miterlimit="3"/>
<line x1="104.25" y1="1193.75" x2="104.25" y2="1499.5" stroke="#5f5f5f" stroke-width="3"/>
<line x1="106.85" y1="1194.75" x2="106.85" y2="1497.5" stroke="#cfcfcf" stroke-width="1.8"/>
<line x1="98.75" y1="1210.00" x2="104.25" y2="1210.00" stroke="#7a7a7a" stroke-width="1.6"/>
<line x1="101.05" y1="1224.12" x2="104.25" y2="1224.12" stroke="#7a7a7a" stroke-width="1.6"/>
<line x1="101.05" y1="1238.24" x2="104.25" y2="1238.24" stroke="#7a7a7a" stroke-width="1.6"/>
<line x1="101.05" y1="1252.36" x2="104.25" y2="1252.36" stroke="#7a7a7a" stroke-width="1.6"/>
<line x1="101.05" y1="1266.48" x2="104.25" y2="1266.48" stroke="#7a7a7a" stroke-width="1.6"/>
<line x1="98.75" y1="1280.60" x2="104.25" y2="1280.60" stroke="#7a7a7a" stroke-width="1.6"/>
<line x1="101.05" y1="1294.72" x2="104.25" y2="1294.72" stroke="#7a7a7a" stroke-width="1.6"/>
<line x1="101.05" y1="1308.84" x2="104.25" y2="1308.84" stroke="#7a7a7a" stroke-width="1.6"/>
<line x1="101.05" y1="1322.96" x2="104.25" y2="1322.96" stroke="#7a7a7a" stroke-width="1.6"/>
<line x1="101.05" y1="1337.08" x2="104.25" y2="1337.08" stroke="#7a7a7a" stroke-width="1.6"/>
<line x1="98.75" y1="1351.20" x2="104.25" y2="1351.20" stroke="#7a7a7a" stroke-width="1.6"/>
<line x1="101.05" y1="1365.32" x2="104.25" y2="1365.32" stroke="#7a7a7a" stroke-width="1.6"/>
<line x1="101.05" y1="1379.44" x2="104.25" y2="1379.44" stroke="#7a7a7a" stroke-width="1.6"/>
<line x1="101.05" y1="1393.56" x2="104.25" y2="1393.56" stroke="#7a7a7a" stroke-width="1.6"/>
<line x1="101.05" y1="1407.68" x2="104.25" y2="1407.68" stroke="#7a7a7a" stroke-width="1.6"/>
<line x1="98.75" y1="1421.80" x2="104.25" y2="1421.80" stroke="#7a7a7a" stroke-width="1.6"/>
<line x1="101.05" y1="1435.92" x2="104.25" y2="1435.92" stroke="#7a7a7a" stroke-width="1.6"/>
<line x1="101.05" y1="1450.04" x2="104.25" y2="1450.04" stroke="#7a7a7a" stroke-width="1.6"/>
<line x1="101.05" y1="1464.16" x2="104.25" y2="1464.16" stroke="#7a7a7a" stroke-width="1.6"/>
<line x1="101.05" y1="1478.28" x2="104.25" y2="1478.28" stroke="#7a7a7a" stroke-width="1.6"/>
<line x1="98.75" y1="1492.40" x2="104.25" y2="1492.40" stroke="#7a7a7a" stroke-width="1.6"/>
<line x1="103" y1="1498.6" x2="1965.5" y2="1498.6" stroke="#5f5f5f" stroke-width="2.6"/>
<line x1="103" y1="1501.0" x2="1965.5" y2="1501.0" stroke="#d6d6d6" stroke-width="1.6"/>
<line x1="106.24" y1="1498.6" x2="106.24" y2="1502.3999999999999" stroke="#7a7a7a" stroke-width="1.6"/>
<line x1="126.42" y1="1498.6" x2="126.42" y2="1502.3999999999999" stroke="#7a7a7a" stroke-width="1.6"/>
<line x1="146.60" y1="1498.6" x2="146.60" y2="1505.1" stroke="#7a7a7a" stroke-width="1.6"/>
<line x1="166.78" y1="1498.6" x2="166.78" y2="1502.3999999999999" stroke="#7a7a7a" stroke-width="1.6"/>
<line x1="186.96" y1="1498.6" x2="186.96" y2="1502.3999999999999" stroke="#7a7a7a" stroke-width="1.6"/>
<line x1="207.14" y1="1498.6" x2="207.14" y2="1502.3999999999999" stroke="#7a7a7a" stroke-width="1.6"/>
<line x1="227.32" y1="1498.6" x2="227.32" y2="1505.1" stroke="#7a7a7a" stroke-width="1.6"/>
<line x1="247.50" y1="1498.6" x2="247.50" y2="1502.3999999999999" stroke="#7a7a7a" stroke-width="1.6"/>
<line x1="267.68" y1="1498.6" x2="267.68" y2="1502.3999999999999" stroke="#7a7a7a" stroke-width="1.6"/>
<line x1="287.86" y1="1498.6" x2="287.86" y2="1502.3999999999999" stroke="#7a7a7a" stroke-width="1.6"/>
<line x1="308.04" y1="1498.6" x2="308.04" y2="1505.1" stroke="#7a7a7a" stroke-width="1.6"/>
<line x1="328.22" y1="1498.6" x2="328.22" y2="1502.3999999999999" stroke="#7a7a7a" stroke-width="1.6"/>
<line x1="348.40" y1="1498.6" x2="348.40" y2="1502.3999999999999" stroke="#7a7a7a" stroke-width="1.6"/>
<line x1="368.58" y1="1498.6" x2="368.58" y2="1502.3999999999999" stroke="#7a7a7a" stroke-width="1.6"/>
<line x1="388.76" y1="1498.6" x2="388.76" y2="1505.1" stroke="#7a7a7a" stroke-width="1.6"/>
<line x1="408.94" y1="1498.6" x2="408.94" y2="1502.3999999999999" stroke="#7a7a7a" stroke-width="1.6"/>
<line x1="429.12" y1="1498.6" x2="429.12" y2="1502.3999999999999" stroke="#7a7a7a" stroke-width="1.6"/>
<line x1="449.30" y1="1498.6" x2="449.30" y2="1502.3999999999999" stroke="#7a7a7a" stroke-width="1.6"/>
<line x1="469.48" y1="1498.6" x2="469.48" y2="1505.1" stroke="#7a7a7a" stroke-width="1.6"/>
<line x1="489.66" y1="1498.6" x2="489.66" y2="1502.3999999999999" stroke="#7a7a7a" stroke-width="1.6"/>
<line x1="509.84" y1="1498.6" x2="509.84" y2="1502.3999999999999" stroke="#7a7a7a" stroke-width="1.6"/>
<line x1="530.02" y1="1498.6" x2="530.02" y2="1502.3999999999999" stroke="#7a7a7a" stroke-width="1.6"/>
<line x1="550.20" y1="1498.6" x2="550.20" y2="1505.1" stroke="#7a7a7a" stroke-width="1.6"/>
<line x1="570.38" y1="1498.6" x2="570.38" y2="1502.3999999999999" stroke="#7a7a7a" stroke-width="1.6"/>
<line x1="590.56" y1="1498.6" x2="590.56" y2="1502.3999999999999" stroke="#7a7a7a" stroke-width="1.6"/>
<line x1="610.74" y1="1498.6" x2="610.74" y2="1502.3999999999999" stroke="#7a7a7a" stroke-width="1.6"/>
<line x1="630.92" y1="1498.6" x2="630.92" y2="1505.1" stroke="#7a7a7a" stroke-width="1.6"/>
<line x1="651.10" y1="1498.6" x2="651.10" y2="1502.3999999999999" stroke="#7a7a7a" stroke-width="1.6"/>
<line x1="671.28" y1="1498.6" x2="671.28" y2="1502.3999999999999" stroke="#7a7a7a" stroke-width="1.6"/>
<line x1="691.46" y1="1498.6" x2="691.46" y2="1502.3999999999999" stroke="#7a7a7a" stroke-width="1.6"/>
<line x1="711.64" y1="1498.6" x2="711.64" y2="1505.1" stroke="#7a7a7a" stroke-width="1.6"/>
<line x1="731.82" y1="1498.6" x2="731.82" y2="1502.3999999999999" stroke="#7a7a7a" stroke-width="1.6"/>
<line x1="752.00" y1="1498.6" x2="752.00" y2="1502.3999999999999" stroke="#7a7a7a" stroke-width="1.6"/>
<line x1="772.18" y1="1498.6" x2="772.18" y2="1502.3999999999999" stroke="#7a7a7a" stroke-width="1.6"/>
<line x1="792.36" y1="1498.6" x2="792.36" y2="1505.1" stroke="#7a7a7a" stroke-width="1.6"/>
<line x1="812.54" y1="1498.6" x2="812.54" y2="1502.3999999999999" stroke="#7a7a7a" stroke-width="1.6"/>
<line x1="832.72" y1="1498.6" x2="832.72" y2="1502.3999999999999" stroke="#7a7a7a" stroke-width="1.6"/>
<line x1="852.90" y1="1498.6" x2="852.90" y2="1502.3999999999999" stroke="#7a7a7a" stroke-width="1.6"/>
<line x1="873.08" y1="1498.6" x2="873.08" y2="1505.1" stroke="#7a7a7a" stroke-width="1.6"/>
<line x1="893.26" y1="1498.6" x2="893.26" y2="1502.3999999999999" stroke="#7a7a7a" stroke-width="1.6"/>
<line x1="913.44" y1="1498.6" x2="913.44" y2="1502.3999999999999" stroke="#7a7a7a" stroke-width="1.6"/>
<line x1="933.62" y1="1498.6" x2="933.62" y2="1502.3999999999999" stroke="#7a7a7a" stroke-width="1.6"/>
<line x1="953.80" y1="1498.6" x2="953.80" y2="1505.1" stroke="#7a7a7a" stroke-width="1.6"/>
<line x1="973.98" y1="1498.6" x2="973.98" y2="1502.3999999999999" stroke="#7a7a7a" stroke-width="1.6"/>
<line x1="994.16" y1="1498.6" x2="994.16" y2="1502.3999999999999" stroke="#7a7a7a" stroke-width="1.6"/>
<line x1="1014.34" y1="1498.6" x2="1014.34" y2="1502.3999999999999" stroke="#7a7a7a" stroke-width="1.6"/>
<line x1="1034.52" y1="1498.6" x2="1034.52" y2="1505.1" stroke="#7a7a7a" stroke-width="1.6"/>
<line x1="1054.70" y1="1498.6" x2="1054.70" y2="1502.3999999999999" stroke="#7a7a7a" stroke-width="1.6"/>
<line x1="1074.88" y1="1498.6" x2="1074.88" y2="1502.3999999999999" stroke="#7a7a7a" stroke-width="1.6"/>
<line x1="1095.06" y1="1498.6" x2="1095.06" y2="1502.3999999999999" stroke="#7a7a7a" stroke-width="1.6"/>
<line x1="1115.24" y1="1498.6" x2="1115.24" y2="1505.1" stroke="#7a7a7a" stroke-width="1.6"/>
<line x1="1135.42" y1="1498.6" x2="1135.42" y2="1502.3999999999999" stroke="#7a7a7a" stroke-width="1.6"/>
<line x1="1155.60" y1="1498.6" x2="1155.60" y2="1502.3999999999999" stroke="#7a7a7a" stroke-width="1.6"/>
<line x1="1175.78" y1="1498.6" x2="1175.78" y2="1502.3999999999999" stroke="#7a7a7a" stroke-width="1.6"/>
<line x1="1195.96" y1="1498.6" x2="1195.96" y2="1505.1" stroke="#7a7a7a" stroke-width="1.6"/>
<line x1="1216.14" y1="1498.6" x2="1216.14" y2="1502.3999999999999" stroke="#7a7a7a" stroke-width="1.6"/>
<line x1="1236.32" y1="1498.6" x2="1236.32" y2="1502.3999999999999" stroke="#7a7a7a" stroke-width="1.6"/>
<line x1="1256.50" y1="1498.6" x2="1256.50" y2="1502.3999999999999" stroke="#7a7a7a" stroke-width="1.6"/>
<line x1="1276.68" y1="1498.6" x2="1276.68" y2="1505.1" stroke="#7a7a7a" stroke-width="1.6"/>
<line x1="1296.86" y1="1498.6" x2="1296.86" y2="1502.3999999999999" stroke="#7a7a7a" stroke-width="1.6"/>
<line x1="1317.04" y1="1498.6" x2="1317.04" y2="1502.3999999999999" stroke="#7a7a7a" stroke-width="1.6"/>
<line x1="1337.22" y1="1498.6" x2="1337.22" y2="1502.3999999999999" stroke="#7a7a7a" stroke-width="1.6"/>
<line x1="1357.40" y1="1498.6" x2="1357.40" y2="1505.1" stroke="#7a7a7a" stroke-width="1.6"/>
<line x1="1377.58" y1="1498.6" x2="1377.58" y2="1502.3999999999999" stroke="#7a7a7a" stroke-width="1.6"/>
<line x1="1397.76" y1="1498.6" x2="1397.76" y2="1502.3999999999999" stroke="#7a7a7a" stroke-width="1.6"/>
<line x1="1417.94" y1="1498.6" x2="1417.94" y2="1502.3999999999999" stroke="#7a7a7a" stroke-width="1.6"/>
<line x1="1438.12" y1="1498.6" x2="1438.12" y2="1505.1" stroke="#7a7a7a" stroke-width="1.6"/>
<line x1="1458.30" y1="1498.6" x2="1458.30" y2="1502.3999999999999" stroke="#7a7a7a" stroke-width="1.6"/>
<line x1="1478.48" y1="1498.6" x2="1478.48" y2="1502.3999999999999" stroke="#7a7a7a" stroke-width="1.6"/>
<line x1="1498.66" y1="1498.6" x2="1498.66" y2="1502.3999999999999" stroke="#7a7a7a" stroke-width="1.6"/>
<line x1="1518.84" y1="1498.6" x2="1518.84" y2="1505.1" stroke="#7a7a7a" stroke-width="1.6"/>
<line x1="1539.02" y1="1498.6" x2="1539.02" y2="1502.3999999999999" stroke="#7a7a7a" stroke-width="1.6"/>
<line x1="1559.20" y1="1498.6" x2="1559.20" y2="1502.3999999999999" stroke="#7a7a7a" stroke-width="1.6"/>
<line x1="1579.38" y1="1498.6" x2="1579.38" y2="1502.3999999999999" stroke="#7a7a7a" stroke-width="1.6"/>
<line x1="1599.56" y1="1498.6" x2="1599.56" y2="1505.1" stroke="#7a7a7a" stroke-width="1.6"/>
<line x1="1619.74" y1="1498.6" x2="1619.74" y2="1502.3999999999999" stroke="#7a7a7a" stroke-width="1.6"/>
<line x1="1639.92" y1="1498.6" x2="1639.92" y2="1502.3999999999999" stroke="#7a7a7a" stroke-width="1.6"/>
<line x1="1660.10" y1="1498.6" x2="1660.10" y2="1502.3999999999999" stroke="#7a7a7a" stroke-width="1.6"/>
<line x1="1680.28" y1="1498.6" x2="1680.28" y2="1505.1" stroke="#7a7a7a" stroke-width="1.6"/>
<line x1="1700.46" y1="1498.6" x2="1700.46" y2="1502.3999999999999" stroke="#7a7a7a" stroke-width="1.6"/>
<line x1="1720.64" y1="1498.6" x2="1720.64" y2="1502.3999999999999" stroke="#7a7a7a" stroke-width="1.6"/>
<line x1="1740.82" y1="1498.6" x2="1740.82" y2="1502.3999999999999" stroke="#7a7a7a" stroke-width="1.6"/>
<line x1="1761.00" y1="1498.6" x2="1761.00" y2="1505.1" stroke="#7a7a7a" stroke-width="1.6"/>
<line x1="1781.18" y1="1498.6" x2="1781.18" y2="1502.3999999999999" stroke="#7a7a7a" stroke-width="1.6"/>
<line x1="1801.36" y1="1498.6" x2="1801.36" y2="1502.3999999999999" stroke="#7a7a7a" stroke-width="1.6"/>
<line x1="1821.54" y1="1498.6" x2="1821.54" y2="1502.3999999999999" stroke="#7a7a7a" stroke-width="1.6"/>
<line x1="1841.72" y1="1498.6" x2="1841.72" y2="1505.1" stroke="#7a7a7a" stroke-width="1.6"/>
<line x1="1861.90" y1="1498.6" x2="1861.90" y2="1502.3999999999999" stroke="#7a7a7a" stroke-width="1.6"/>
<line x1="1882.08" y1="1498.6" x2="1882.08" y2="1502.3999999999999" stroke="#7a7a7a" stroke-width="1.6"/>
<line x1="1902.26" y1="1498.6" x2="1902.26" y2="1502.3999999999999" stroke="#7a7a7a" stroke-width="1.6"/>
<line x1="1922.44" y1="1498.6" x2="1922.44" y2="1505.1" stroke="#7a7a7a" stroke-width="1.6"/>
<line x1="1942.62" y1="1498.6" x2="1942.62" y2="1502.3999999999999" stroke="#7a7a7a" stroke-width="1.6"/>
<line x1="1962.80" y1="1498.6" x2="1962.80" y2="1502.3999999999999" stroke="#7a7a7a" stroke-width="1.6"/>
<path d="M106.00 1490.50 L912.25 1489.24 L913.25 1489.15 L914.00 1488.82 L914.50 1488.24 L915.00 1487.10 L915.75 1483.93 L917.25 1474.19 L917.75 1472.35 L918.00 1472.10 L918.25 1472.35 L918.75 1474.19 L920.00 1482.44 L920.75 1486.25 L921.00 1487.09 L921.50 1488.22 L922.00 1488.81 L922.50 1489.07 L923.50 1489.21 L927.00 1489.20 L927.75 1489.12 L928.50 1488.83 L929.00 1488.39 L929.50 1487.65 L931.25 1483.37 L931.75 1482.65 L932.00 1482.55 L932.25 1482.65 L932.75 1483.36 L934.00 1486.57 L934.75 1488.05 L935.50 1488.82 L936.25 1489.11 L938.00 1489.21 L959.25 1489.15 L959.50 1489.08 L959.75 1488.83 L960.00 1488.14 L960.25 1486.66 L960.50 1483.99 L961.00 1474.18 L961.50 1458.43 L962.00 1437.46 L962.75 1397.38 L964.50 1277.67 L965.00 1258.32 L965.25 1254.57 L965.50 1253.13 L965.75 1252.88 L966.00 1253.45 L966.25 1255.10 L966.75 1263.41 L969.00 1329.50 L970.50 1368.10 L972.25 1406.04 L974.00 1436.55 L975.50 1456.92 L976.25 1465.12 L977.25 1474.02 L978.00 1479.18 L979.00 1484.06 L979.75 1486.21 L980.25 1486.97 L980.75 1487.33 L982.00 1487.71 L984.25 1488.15 L989.00 1488.68 L995.25 1488.96 L1004.50 1489.07 L1295.00 1488.63 L1296.50 1488.53 L1297.75 1488.27 L1298.75 1487.81 L1299.50 1487.25 L1300.25 1486.43 L1301.00 1485.35 L1303.25 1481.13 L1304.00 1479.89 L1304.75 1479.05 L1305.25 1478.78 L1305.50 1478.75 L1306.00 1478.88 L1306.75 1479.55 L1307.50 1480.68 L1309.50 1484.48 L1310.25 1485.73 L1311.25 1486.99 L1311.75 1487.44 L1312.50 1487.94 L1313.75 1488.38 L1315.50 1488.58 L1322.75 1488.61 L1323.50 1488.47 L1323.75 1488.14 L1324.00 1487.34 L1324.25 1485.74 L1324.75 1479.07 L1325.25 1467.34 L1325.75 1451.05 L1327.00 1393.50 L1329.00 1270.07 L1329.25 1260.94 L1329.50 1255.63 L1329.75 1253.17 L1330.00 1252.37 L1330.25 1252.53 L1330.50 1253.61 L1330.75 1256.03 L1331.00 1260.23 L1331.50 1273.52 L1333.25 1328.62 L1334.50 1363.13 L1336.00 1398.75 L1337.50 1428.16 L1339.00 1451.42 L1339.75 1460.77 L1340.50 1468.61 L1341.25 1474.95 L1342.00 1479.78 L1342.75 1483.12 L1343.50 1485.00 L1344.00 1485.57 L1345.25 1486.13 L1347.75 1486.86 L1350.50 1487.41 L1353.25 1487.78 L1356.25 1488.05 L1364.25 1488.38 L1386.75 1488.50 L1496.25 1488.30 L1496.50 1488.20 L1496.75 1487.95 L1497.00 1487.46 L1497.50 1485.70 L1498.75 1479.97 L1499.00 1479.21 L1499.25 1478.72 L1499.50 1478.47 L1500.25 1478.34 L1510.00 1478.34 L1510.50 1478.59 L1510.75 1479.05 L1511.50 1481.98 L1511.75 1482.11 L1512.00 1480.74 L1512.50 1472.52 L1513.00 1457.99 L1514.00 1415.49 L1514.75 1373.68 L1516.50 1258.97 L1516.75 1249.39 L1517.00 1243.81 L1517.25 1241.21 L1517.50 1240.30 L1517.75 1240.22 L1518.00 1240.85 L1518.25 1242.64 L1518.50 1246.32 L1518.75 1252.42 L1521.50 1359.80 L1522.50 1391.90 L1523.75 1425.25 L1524.75 1446.51 L1526.00 1466.32 L1527.00 1476.77 L1527.50 1480.19 L1527.75 1481.45 L1528.25 1483.12 L1528.75 1483.88 L1529.50 1484.28 L1532.50 1485.16 L1536.00 1485.95 L1539.25 1486.49 L1543.00 1486.97 L1547.00 1487.33 L1551.75 1487.63 L1561.25 1487.95 L1574.00 1488.12 L1627.00 1488.12 L1627.50 1487.93 L1627.75 1487.57 L1628.25 1485.73 L1630.50 1470.00 L1631.00 1467.41 L1631.25 1466.70 L1631.50 1466.33 L1631.75 1466.19 L1632.50 1466.13 L1638.75 1466.12 L1639.25 1466.29 L1639.50 1466.71 L1639.75 1467.76 L1640.75 1477.40 L1641.00 1477.52 L1641.25 1475.27 L1641.75 1464.47 L1642.25 1448.01 L1643.25 1403.62 L1644.25 1345.99 L1645.50 1259.59 L1646.00 1231.96 L1646.25 1224.17 L1646.50 1220.15 L1646.75 1218.55 L1647.00 1218.12 L1647.25 1218.32 L1647.50 1219.33 L1647.75 1221.88 L1648.25 1234.56 L1650.00 1312.22 L1651.00 1351.78 L1652.00 1386.10 L1653.25 1421.66 L1654.25 1444.24 L1655.25 1461.61 L1656.25 1473.78 L1656.75 1477.92 L1657.25 1480.77 L1657.50 1481.73 L1658.00 1482.85 L1658.50 1483.32 L1659.50 1483.80 L1662.00 1484.75 L1665.00 1485.61 L1668.00 1486.24 L1671.50 1486.78 L1678.00 1487.38 L1686.25 1487.75 L1698.00 1487.94 L1714.00 1487.96 L1714.50 1487.79 L1715.50 1487.04 L1718.50 1486.72 L1719.00 1486.45 L1719.50 1485.69 L1720.00 1484.48 L1721.50 1480.31 L1722.00 1478.59 L1724.00 1468.79 L1725.00 1463.09 L1727.50 1442.18 L1728.25 1434.71 L1728.75 1424.72 L1729.25 1406.07 L1732.75 1230.46 L1733.25 1217.51 L1733.50 1214.93 L1733.75 1213.90 L1734.00 1213.59 L1734.25 1213.53 L1734.50 1213.60 L1734.75 1213.93 L1735.00 1215.05 L1735.25 1217.82 L1735.75 1231.77 L1739.00 1406.36 L1739.50 1425.03 L1740.00 1434.12 L1740.50 1438.44 L1743.50 1458.87 L1744.00 1461.87 L1744.50 1463.97 L1745.25 1465.78 L1750.25 1475.55 L1755.00 1482.81 L1755.75 1483.59 L1756.25 1483.65 L1762.25 1481.43 L1763.25 1480.89 L1764.00 1479.88 L1767.50 1473.60 L1768.00 1472.95 L1768.25 1472.82 L1768.50 1472.84 L1769.00 1473.24 L1774.00 1478.96 L1774.50 1479.46 L1775.00 1479.73 L1775.75 1479.57 L1781.25 1476.92 L1787.75 1474.45 L1788.25 1473.99 L1788.75 1473.10 L1793.00 1462.63 L1793.75 1460.57 L1794.50 1457.32 L1798.00 1436.21 L1798.50 1430.97 L1798.75 1425.94 L1799.00 1418.31 L1799.50 1395.62 L1802.25 1243.56 L1802.75 1229.24 L1803.00 1226.39 L1803.25 1225.25 L1803.50 1224.90 L1803.75 1224.83 L1804.00 1224.88 L1804.25 1225.16 L1804.50 1226.07 L1804.75 1228.35 L1805.25 1239.81 L1809.00 1407.00 L1809.50 1424.14 L1809.75 1429.60 L1810.25 1435.63 L1812.50 1450.71 L1813.50 1456.15 L1814.25 1458.51 L1817.50 1467.15 L1818.50 1469.75 L1819.00 1470.75 L1819.50 1471.19 L1820.00 1471.23 L1827.00 1469.97 L1833.50 1467.79 L1834.00 1467.44 L1834.50 1466.51 L1835.25 1463.73 L1837.50 1453.77 L1838.25 1449.03 L1839.00 1440.37 L1841.75 1401.92 L1842.75 1385.82 L1843.50 1361.20 L1846.00 1238.03 L1846.50 1217.21 L1847.00 1205.69 L1847.25 1203.49 L1847.50 1202.63 L1847.75 1202.37 L1848.00 1202.34 L1848.25 1202.45 L1848.50 1202.91 L1848.75 1204.26 L1849.00 1207.34 L1849.50 1221.40 L1853.00 1398.90 L1853.50 1419.50 L1853.75 1426.45 L1854.00 1431.04 L1854.50 1435.87 L1857.75 1454.27 L1858.50 1457.42 L1859.00 1458.38 L1859.50 1458.87 L1862.50 1461.23 L1863.00 1461.54 L1863.50 1461.65 L1864.25 1461.52 L1870.00 1459.98 L1875.00 1458.20 L1875.50 1457.67 L1875.75 1457.14 L1876.25 1455.46 L1878.50 1445.55 L1879.00 1442.77 L1879.50 1437.05 L1880.25 1417.75 L1886.00 1221.08 L1886.50 1210.30 L1886.75 1207.59 L1887.00 1206.28 L1887.25 1205.79 L1887.50 1205.64 L1887.75 1205.64 L1888.00 1205.79 L1888.25 1206.33 L1888.50 1207.80 L1888.75 1210.97 L1889.00 1216.47 L1889.25 1224.39 L1893.25 1405.80 L1894.00 1433.35 L1894.25 1438.45 L1894.50 1441.55 L1894.75 1443.39 L1895.25 1445.72 L1897.25 1453.70 L1897.75 1455.26 L1898.00 1455.78 L1898.50 1456.37 L1903.50 1459.32 L1904.25 1459.66 L1904.75 1459.63 L1905.25 1459.39 L1909.25 1456.70 L1909.75 1456.23 L1910.25 1455.12 L1910.75 1452.82 L1913.00 1438.20 L1913.50 1434.23 L1914.00 1426.74 L1914.50 1412.18 L1917.75 1275.13 L1918.50 1247.09 L1918.75 1241.04 L1919.00 1237.29 L1919.25 1235.41 L1919.50 1234.68 L1919.75 1234.46 L1920.00 1234.43 L1920.25 1234.53 L1920.50 1234.91 L1920.75 1236.05 L1921.00 1238.64 L1921.50 1250.46 L1925.00 1399.97 L1925.75 1425.45 L1926.00 1430.26 L1926.50 1435.57 L1929.75 1455.35 L1930.50 1459.17 L1931.25 1461.23 L1939.25 1475.83 L1940.00 1477.02 L1940.50 1477.56 L1948.75 1484.05 L1949.75 1484.71 L1950.75 1484.96 L1963.00 1486.76" fill="none" stroke="#f6c0c4" stroke-width="7.5" stroke-linejoin="round"/>
<path d="M960.50 1482.99 L961.25 1466.01 L962.25 1424.20 L964.75 1264.79 L965.00 1257.32 L965.25 1253.57 L965.50 1252.13 L965.75 1251.88 L966.00 1252.45 L966.25 1254.10 L966.75 1262.41 L968.75 1321.52 L970.25 1361.06 L971.75 1394.96 L973.50 1427.58 L975.00 1449.72 L976.50 1466.56 L977.25 1473.02 L978.00 1478.18 L978.75 1482.05 L979.25 1483.92 L979.75 1485.21 Z" fill="url(#g26)" stroke="none"/>
<path d="M1324.50 1482.04 L1325.00 1472.82 L1325.50 1458.73 L1326.50 1418.21 L1327.25 1378.38 L1329.00 1269.07 L1329.50 1254.63 L1329.75 1252.17 L1330.00 1251.37 L1330.25 1251.53 L1330.50 1252.61 L1331.00 1259.23 L1334.50 1362.13 L1336.00 1397.75 L1337.50 1427.16 L1338.75 1446.97 L1340.25 1465.17 L1341.00 1472.00 L1341.75 1477.34 L1342.50 1481.17 L1343.25 1483.53 Z" fill="url(#g27)" stroke="none"/>
<path d="M1512.00 1479.74 L1512.50 1471.52 L1513.00 1456.99 L1514.00 1414.49 L1514.75 1372.68 L1516.50 1257.97 L1517.00 1242.81 L1517.25 1240.21 L1517.50 1239.30 L1517.75 1239.22 L1518.00 1239.85 L1518.25 1241.64 L1518.75 1251.42 L1521.50 1358.80 L1522.50 1390.90 L1523.75 1424.25 L1524.75 1445.51 L1525.75 1461.96 L1526.75 1473.61 L1527.25 1477.63 L1528.00 1481.42 Z" fill="url(#g28)" stroke="none"/>
<path d="M1641.00 1476.52 L1641.25 1474.27 L1641.50 1469.77 L1642.00 1455.79 L1643.00 1415.02 L1644.00 1360.56 L1646.00 1230.96 L1646.50 1219.15 L1646.75 1217.55 L1647.00 1217.12 L1647.25 1217.32 L1647.50 1218.33 L1647.75 1220.88 L1648.25 1233.56 L1651.00 1350.78 L1652.00 1385.10 L1653.25 1420.66 L1654.25 1443.24 L1655.25 1460.61 L1656.25 1472.78 L1656.75 1476.92 L1657.50 1480.73 Z" fill="url(#g29)" stroke="none"/>
<path d="M1726.00 1454.09 L1728.00 1436.60 L1728.50 1429.66 L1728.75 1423.72 L1729.50 1393.24 L1732.75 1229.46 L1733.25 1216.51 L1733.50 1213.93 L1733.75 1212.90 L1734.00 1212.59 L1734.25 1212.53 L1734.50 1212.60 L1734.75 1212.93 L1735.00 1214.05 L1735.25 1216.82 L1735.75 1230.77 L1738.75 1392.98 L1739.50 1424.03 L1739.75 1429.56 L1740.25 1435.53 L1743.00 1454.52 Z" fill="url(#g30)" stroke="none"/>
<path d="M1795.00 1453.47 L1798.00 1435.21 L1798.50 1429.97 L1798.75 1424.94 L1799.50 1394.62 L1802.25 1242.56 L1802.75 1228.24 L1803.00 1225.39 L1803.25 1224.25 L1803.50 1223.90 L1804.00 1223.88 L1804.25 1224.16 L1804.50 1225.07 L1804.75 1227.35 L1805.00 1231.81 L1805.25 1238.81 L1808.75 1395.33 L1809.50 1423.14 L1809.75 1428.60 L1810.25 1434.63 L1812.00 1446.45 Z" fill="url(#g31)" stroke="none"/>
<path d="M1839.00 1439.37 L1842.25 1393.72 L1843.00 1378.49 L1843.75 1348.80 L1846.50 1216.21 L1847.00 1204.69 L1847.25 1202.49 L1847.50 1201.63 L1847.75 1201.37 L1848.00 1201.34 L1848.25 1201.45 L1848.50 1201.91 L1848.75 1203.26 L1849.00 1206.34 L1849.50 1220.40 L1853.25 1409.14 L1853.50 1418.50 L1854.00 1430.04 L1854.25 1432.93 L1855.00 1437.87 Z" fill="url(#g32)" stroke="none"/>
<path d="M1879.00 1441.77 L1879.50 1436.05 L1880.25 1416.75 L1886.00 1220.08 L1886.50 1209.30 L1886.75 1206.59 L1887.00 1205.28 L1887.25 1204.79 L1887.75 1204.64 L1888.00 1204.79 L1888.25 1205.33 L1888.50 1206.80 L1889.00 1215.47 L1889.25 1223.39 L1893.25 1404.80 L1894.00 1432.35 L1894.50 1440.55 L1895.00 1443.66 L1896.00 1447.75 Z" fill="url(#g33)" stroke="none"/>
<path d="M1913.00 1437.20 L1913.75 1430.22 L1914.50 1411.18 L1918.50 1246.09 L1918.75 1240.04 L1919.00 1236.29 L1919.25 1234.41 L1919.50 1233.68 L1919.75 1233.46 L1920.25 1233.53 L1920.50 1233.91 L1920.75 1235.05 L1921.00 1237.64 L1921.50 1249.46 L1925.00 1398.97 L1925.75 1424.45 L1926.25 1432.42 L1926.75 1436.27 L1928.00 1443.85 Z" fill="url(#g34)" stroke="none"/>
<path d="M106.00 1492.00 L912.25 1490.74 L913.25 1490.65 L914.00 1490.32 L914.50 1489.74 L915.00 1488.60 L915.75 1485.43 L917.25 1475.69 L917.75 1473.85 L918.00 1473.60 L918.25 1473.85 L918.75 1475.69 L920.00 1483.94 L920.75 1487.75 L921.00 1488.59 L921.50 1489.72 L922.00 1490.31 L922.50 1490.57 L923.50 1490.71 L927.00 1490.70 L927.75 1490.62 L928.50 1490.33 L929.00 1489.89 L929.50 1489.15 L931.25 1484.87 L931.75 1484.15 L932.00 1484.05 L932.25 1484.15 L932.75 1484.86 L934.00 1488.07 L934.75 1489.55 L935.50 1490.32 L936.25 1490.61 L938.00 1490.71 L959.25 1490.65 L959.50 1490.58 L959.75 1490.33 L960.00 1489.64 L960.25 1488.16 L960.50 1485.49 L961.00 1475.68 L961.50 1459.93 L962.00 1438.96 L962.75 1398.88 L964.50 1279.17 L965.00 1259.82 L965.25 1256.07 L965.50 1254.63 L965.75 1254.38 L966.00 1254.95 L966.25 1256.60 L966.75 1264.91 L969.00 1331.00 L970.50 1369.60 L972.25 1407.54 L974.00 1438.05 L975.50 1458.42 L976.25 1466.62 L977.25 1475.52 L978.00 1480.68 L979.00 1485.56 L979.75 1487.71 L980.25 1488.47 L980.75 1488.83 L982.00 1489.21 L984.25 1489.65 L989.00 1490.18 L995.25 1490.46 L1004.50 1490.57 L1295.00 1490.13 L1296.50 1490.03 L1297.75 1489.77 L1298.75 1489.31 L1299.50 1488.75 L1300.25 1487.93 L1301.00 1486.85 L1303.25 1482.63 L1304.00 1481.39 L1304.75 1480.55 L1305.25 1480.28 L1305.50 1480.25 L1306.00 1480.38 L1306.75 1481.05 L1307.50 1482.18 L1309.50 1485.98 L1310.25 1487.23 L1311.25 1488.49 L1311.75 1488.94 L1312.50 1489.44 L1313.75 1489.88 L1315.50 1490.08 L1322.75 1490.11 L1323.50 1489.97 L1323.75 1489.64 L1324.00 1488.84 L1324.25 1487.24 L1324.75 1480.57 L1325.25 1468.84 L1325.75 1452.55 L1327.00 1395.00 L1329.00 1271.57 L1329.25 1262.44 L1329.50 1257.13 L1329.75 1254.67 L1330.00 1253.87 L1330.25 1254.03 L1330.50 1255.11 L1330.75 1257.53 L1331.00 1261.73 L1331.50 1275.02 L1333.25 1330.12 L1334.50 1364.63 L1336.00 1400.25 L1337.50 1429.66 L1339.00 1452.92 L1339.75 1462.27 L1340.50 1470.11 L1341.25 1476.45 L1342.00 1481.28 L1342.75 1484.62 L1343.50 1486.50 L1344.00 1487.07 L1345.25 1487.63 L1347.75 1488.36 L1350.50 1488.91 L1353.25 1489.28 L1356.25 1489.55 L1364.25 1489.88 L1386.75 1490.00 L1496.25 1489.80 L1496.50 1489.70 L1496.75 1489.45 L1497.00 1488.96 L1497.50 1487.20 L1498.75 1481.47 L1499.00 1480.71 L1499.25 1480.22 L1499.50 1479.97 L1500.25 1479.84 L1510.00 1479.84 L1510.50 1480.09 L1510.75 1480.55 L1511.50 1483.48 L1511.75 1483.61 L1512.00 1482.24 L1512.50 1474.02 L1513.00 1459.49 L1514.00 1416.99 L1514.75 1375.18 L1516.50 1260.47 L1516.75 1250.89 L1517.00 1245.31 L1517.25 1242.71 L1517.50 1241.80 L1517.75 1241.72 L1518.00 1242.35 L1518.25 1244.14 L1518.50 1247.82 L1518.75 1253.92 L1521.50 1361.30 L1522.50 1393.40 L1523.75 1426.75 L1524.75 1448.01 L1526.00 1467.82 L1527.00 1478.27 L1527.50 1481.69 L1527.75 1482.95 L1528.25 1484.62 L1528.75 1485.38 L1529.50 1485.78 L1532.50 1486.66 L1536.00 1487.45 L1539.25 1487.99 L1543.00 1488.47 L1547.00 1488.83 L1551.75 1489.13 L1561.25 1489.45 L1574.00 1489.62 L1627.00 1489.62 L1627.50 1489.43 L1627.75 1489.07 L1628.25 1487.23 L1630.50 1471.50 L1631.00 1468.91 L1631.25 1468.20 L1631.50 1467.83 L1631.75 1467.69 L1632.50 1467.63 L1638.75 1467.62 L1639.25 1467.79 L1639.50 1468.21 L1639.75 1469.26 L1640.75 1478.90 L1641.00 1479.02 L1641.25 1476.77 L1641.75 1465.97 L1642.25 1449.51 L1643.25 1405.12 L1644.25 1347.49 L1645.50 1261.09 L1646.00 1233.46 L1646.25 1225.67 L1646.50 1221.65 L1646.75 1220.05 L1647.00 1219.62 L1647.25 1219.82 L1647.50 1220.83 L1647.75 1223.38 L1648.25 1236.06 L1650.00 1313.72 L1651.00 1353.28 L1652.00 1387.60 L1653.25 1423.16 L1654.25 1445.74 L1655.25 1463.11 L1656.25 1475.28 L1656.75 1479.42 L1657.25 1482.27 L1657.50 1483.23 L1658.00 1484.35 L1658.50 1484.82 L1659.50 1485.30 L1662.00 1486.25 L1665.00 1487.11 L1668.00 1487.74 L1671.50 1488.28 L1678.00 1488.88 L1686.25 1489.25 L1698.00 1489.44 L1714.00 1489.46 L1714.50 1489.29 L1715.50 1488.54 L1718.50 1488.22 L1719.00 1487.95 L1719.50 1487.19 L1720.00 1485.98 L1721.50 1481.81 L1722.00 1480.09 L1724.00 1470.29 L1725.00 1464.59 L1727.50 1443.68 L1728.25 1436.21 L1728.75 1426.22 L1729.25 1407.57 L1732.75 1231.96 L1733.25 1219.01 L1733.50 1216.43 L1733.75 1215.40 L1734.00 1215.09 L1734.25 1215.03 L1734.50 1215.10 L1734.75 1215.43 L1735.00 1216.55 L1735.25 1219.32 L1735.75 1233.27 L1739.00 1407.86 L1739.50 1426.53 L1740.00 1435.62 L1740.50 1439.94 L1743.50 1460.37 L1744.00 1463.37 L1744.50 1465.47 L1745.25 1467.28 L1750.25 1477.05 L1755.00 1484.31 L1755.75 1485.09 L1756.25 1485.15 L1762.25 1482.93 L1763.25 1482.39 L1764.00 1481.38 L1767.50 1475.10 L1768.00 1474.45 L1768.25 1474.32 L1768.50 1474.34 L1769.00 1474.74 L1774.00 1480.46 L1774.50 1480.96 L1775.00 1481.23 L1775.75 1481.07 L1781.25 1478.42 L1787.75 1475.95 L1788.25 1475.49 L1788.75 1474.60 L1793.00 1464.13 L1793.75 1462.07 L1794.50 1458.82 L1798.00 1437.71 L1798.50 1432.47 L1798.75 1427.44 L1799.00 1419.81 L1799.50 1397.12 L1802.25 1245.06 L1802.75 1230.74 L1803.00 1227.89 L1803.25 1226.75 L1803.50 1226.40 L1803.75 1226.33 L1804.00 1226.38 L1804.25 1226.66 L1804.50 1227.57 L1804.75 1229.85 L1805.25 1241.31 L1809.00 1408.50 L1809.50 1425.64 L1809.75 1431.10 L1810.25 1437.13 L1812.50 1452.21 L1813.50 1457.65 L1814.25 1460.01 L1817.50 1468.65 L1818.50 1471.25 L1819.00 1472.25 L1819.50 1472.69 L1820.00 1472.73 L1827.00 1471.47 L1833.50 1469.29 L1834.00 1468.94 L1834.50 1468.01 L1835.25 1465.23 L1837.50 1455.27 L1838.25 1450.53 L1839.00 1441.87 L1841.75 1403.42 L1842.75 1387.32 L1843.50 1362.70 L1846.00 1239.53 L1846.50 1218.71 L1847.00 1207.19 L1847.25 1204.99 L1847.50 1204.13 L1847.75 1203.87 L1848.00 1203.84 L1848.25 1203.95 L1848.50 1204.41 L1848.75 1205.76 L1849.00 1208.84 L1849.50 1222.90 L1853.00 1400.40 L1853.50 1421.00 L1853.75 1427.95 L1854.00 1432.54 L1854.50 1437.37 L1857.75 1455.77 L1858.50 1458.92 L1859.00 1459.88 L1859.50 1460.37 L1862.50 1462.73 L1863.00 1463.04 L1863.50 1463.15 L1864.25 1463.02 L1870.00 1461.48 L1875.00 1459.70 L1875.50 1459.17 L1875.75 1458.64 L1876.25 1456.96 L1878.50 1447.05 L1879.00 1444.27 L1879.50 1438.55 L1880.25 1419.25 L1886.00 1222.58 L1886.50 1211.80 L1886.75 1209.09 L1887.00 1207.78 L1887.25 1207.29 L1887.50 1207.14 L1887.75 1207.14 L1888.00 1207.29 L1888.25 1207.83 L1888.50 1209.30 L1888.75 1212.47 L1889.00 1217.97 L1889.25 1225.89 L1893.25 1407.30 L1894.00 1434.85 L1894.25 1439.95 L1894.50 1443.05 L1894.75 1444.89 L1895.25 1447.22 L1897.25 1455.20 L1897.75 1456.76 L1898.00 1457.28 L1898.50 1457.87 L1903.50 1460.82 L1904.25 1461.16 L1904.75 1461.13 L1905.25 1460.89 L1909.25 1458.20 L1909.75 1457.73 L1910.25 1456.62 L1910.75 1454.32 L1913.00 1439.70 L1913.50 1435.73 L1914.00 1428.24 L1914.50 1413.68 L1917.75 1276.63 L1918.50 1248.59 L1918.75 1242.54 L1919.00 1238.79 L1919.25 1236.91 L1919.50 1236.18 L1919.75 1235.96 L1920.00 1235.93 L1920.25 1236.03 L1920.50 1236.41 L1920.75 1237.55 L1921.00 1240.14 L1921.50 1251.96 L1925.00 1401.47 L1925.75 1426.95 L1926.00 1431.76 L1926.50 1437.07 L1929.75 1456.85 L1930.50 1460.67 L1931.25 1462.73 L1939.25 1477.33 L1940.00 1478.52 L1940.50 1479.06 L1948.75 1485.55 L1949.75 1486.21 L1950.75 1486.46 L1963.00 1488.26" fill="none" stroke="#cc5a64" stroke-width="2.6" stroke-linejoin="round"/>
<path d="M106.00 1489.50 L912.25 1488.24 L913.25 1488.15 L914.00 1487.82 L914.50 1487.24 L915.00 1486.10 L915.75 1482.93 L917.25 1473.19 L917.75 1471.35 L918.00 1471.10 L918.25 1471.35 L918.75 1473.19 L920.00 1481.44 L920.75 1485.25 L921.00 1486.09 L921.50 1487.22 L922.00 1487.81 L922.50 1488.07 L923.50 1488.21 L927.00 1488.20 L927.75 1488.12 L928.50 1487.83 L929.00 1487.39 L929.50 1486.65 L931.25 1482.37 L931.75 1481.65 L932.00 1481.55 L932.25 1481.65 L932.75 1482.36 L934.00 1485.57 L934.75 1487.05 L935.50 1487.82 L936.25 1488.11 L938.00 1488.21 L959.25 1488.15 L959.50 1488.08 L959.75 1487.83 L960.00 1487.14 L960.25 1485.66 L960.50 1482.99 L961.00 1473.18 L961.50 1457.43 L962.00 1436.46 L962.75 1396.38 L964.50 1276.67 L965.00 1257.32 L965.25 1253.57 L965.50 1252.13 L965.75 1251.88 L966.00 1252.45 L966.25 1254.10 L966.75 1262.41 L969.00 1328.50 L970.50 1367.10 L972.25 1405.04 L974.00 1435.55 L975.50 1455.92 L976.25 1464.12 L977.25 1473.02 L978.00 1478.18 L979.00 1483.06 L979.75 1485.21 L980.25 1485.97 L980.75 1486.33 L982.00 1486.71 L984.25 1487.15 L989.00 1487.68 L995.25 1487.96 L1004.50 1488.07 L1295.00 1487.63 L1296.50 1487.53 L1297.75 1487.27 L1298.75 1486.81 L1299.50 1486.25 L1300.25 1485.43 L1301.00 1484.35 L1303.25 1480.13 L1304.00 1478.89 L1304.75 1478.05 L1305.25 1477.78 L1305.50 1477.75 L1306.00 1477.88 L1306.75 1478.55 L1307.50 1479.68 L1309.50 1483.48 L1310.25 1484.73 L1311.25 1485.99 L1311.75 1486.44 L1312.50 1486.94 L1313.75 1487.38 L1315.50 1487.58 L1322.75 1487.61 L1323.50 1487.47 L1323.75 1487.14 L1324.00 1486.34 L1324.25 1484.74 L1324.75 1478.07 L1325.25 1466.34 L1325.75 1450.05 L1327.00 1392.50 L1329.00 1269.07 L1329.25 1259.94 L1329.50 1254.63 L1329.75 1252.17 L1330.00 1251.37 L1330.25 1251.53 L1330.50 1252.61 L1330.75 1255.03 L1331.00 1259.23 L1331.50 1272.52 L1333.25 1327.62 L1334.50 1362.13 L1336.00 1397.75 L1337.50 1427.16 L1339.00 1450.42 L1339.75 1459.77 L1340.50 1467.61 L1341.25 1473.95 L1342.00 1478.78 L1342.75 1482.12 L1343.50 1484.00 L1344.00 1484.57 L1345.25 1485.13 L1347.75 1485.86 L1350.50 1486.41 L1353.25 1486.78 L1356.25 1487.05 L1364.25 1487.38 L1386.75 1487.50 L1496.25 1487.30 L1496.50 1487.20 L1496.75 1486.95 L1497.00 1486.46 L1497.50 1484.70 L1498.75 1478.97 L1499.00 1478.21 L1499.25 1477.72 L1499.50 1477.47 L1500.25 1477.34 L1510.00 1477.34 L1510.50 1477.59 L1510.75 1478.05 L1511.50 1480.98 L1511.75 1481.11 L1512.00 1479.74 L1512.50 1471.52 L1513.00 1456.99 L1514.00 1414.49 L1514.75 1372.68 L1516.50 1257.97 L1516.75 1248.39 L1517.00 1242.81 L1517.25 1240.21 L1517.50 1239.30 L1517.75 1239.22 L1518.00 1239.85 L1518.25 1241.64 L1518.50 1245.32 L1518.75 1251.42 L1521.50 1358.80 L1522.50 1390.90 L1523.75 1424.25 L1524.75 1445.51 L1526.00 1465.32 L1527.00 1475.77 L1527.50 1479.19 L1527.75 1480.45 L1528.25 1482.12 L1528.75 1482.88 L1529.50 1483.28 L1532.50 1484.16 L1536.00 1484.95 L1539.25 1485.49 L1543.00 1485.97 L1547.00 1486.33 L1551.75 1486.63 L1561.25 1486.95 L1574.00 1487.12 L1627.00 1487.12 L1627.50 1486.93 L1627.75 1486.57 L1628.25 1484.73 L1630.50 1469.00 L1631.00 1466.41 L1631.25 1465.70 L1631.50 1465.33 L1631.75 1465.19 L1632.50 1465.13 L1638.75 1465.12 L1639.25 1465.29 L1639.50 1465.71 L1639.75 1466.76 L1640.75 1476.40 L1641.00 1476.52 L1641.25 1474.27 L1641.75 1463.47 L1642.25 1447.01 L1643.25 1402.62 L1644.25 1344.99 L1645.50 1258.59 L1646.00 1230.96 L1646.25 1223.17 L1646.50 1219.15 L1646.75 1217.55 L1647.00 1217.12 L1647.25 1217.32 L1647.50 1218.33 L1647.75 1220.88 L1648.25 1233.56 L1650.00 1311.22 L1651.00 1350.78 L1652.00 1385.10 L1653.25 1420.66 L1654.25 1443.24 L1655.25 1460.61 L1656.25 1472.78 L1656.75 1476.92 L1657.25 1479.77 L1657.50 1480.73 L1658.00 1481.85 L1658.50 1482.32 L1659.50 1482.80 L1662.00 1483.75 L1665.00 1484.61 L1668.00 1485.24 L1671.50 1485.78 L1678.00 1486.38 L1686.25 1486.75 L1698.00 1486.94 L1714.00 1486.96 L1714.50 1486.79 L1715.50 1486.04 L1718.50 1485.72 L1719.00 1485.45 L1719.50 1484.69 L1720.00 1483.48 L1721.50 1479.31 L1722.00 1477.59 L1724.00 1467.79 L1725.00 1462.09 L1727.50 1441.18 L1728.25 1433.71 L1728.75 1423.72 L1729.25 1405.07 L1732.75 1229.46 L1733.25 1216.51 L1733.50 1213.93 L1733.75 1212.90 L1734.00 1212.59 L1734.25 1212.53 L1734.50 1212.60 L1734.75 1212.93 L1735.00 1214.05 L1735.25 1216.82 L1735.75 1230.77 L1739.00 1405.36 L1739.50 1424.03 L1740.00 1433.12 L1740.50 1437.44 L1743.50 1457.87 L1744.00 1460.87 L1744.50 1462.97 L1745.25 1464.78 L1750.25 1474.55 L1755.00 1481.81 L1755.75 1482.59 L1756.25 1482.65 L1762.25 1480.43 L1763.25 1479.89 L1764.00 1478.88 L1767.50 1472.60 L1768.00 1471.95 L1768.25 1471.82 L1768.50 1471.84 L1769.00 1472.24 L1774.00 1477.96 L1774.50 1478.46 L1775.00 1478.73 L1775.75 1478.57 L1781.25 1475.92 L1787.75 1473.45 L1788.25 1472.99 L1788.75 1472.10 L1793.00 1461.63 L1793.75 1459.57 L1794.50 1456.32 L1798.00 1435.21 L1798.50 1429.97 L1798.75 1424.94 L1799.00 1417.31 L1799.50 1394.62 L1802.25 1242.56 L1802.75 1228.24 L1803.00 1225.39 L1803.25 1224.25 L1803.50 1223.90 L1803.75 1223.83 L1804.00 1223.88 L1804.25 1224.16 L1804.50 1225.07 L1804.75 1227.35 L1805.25 1238.81 L1809.00 1406.00 L1809.50 1423.14 L1809.75 1428.60 L1810.25 1434.63 L1812.50 1449.71 L1813.50 1455.15 L1814.25 1457.51 L1817.50 1466.15 L1818.50 1468.75 L1819.00 1469.75 L1819.50 1470.19 L1820.00 1470.23 L1827.00 1468.97 L1833.50 1466.79 L1834.00 1466.44 L1834.50 1465.51 L1835.25 1462.73 L1837.50 1452.77 L1838.25 1448.03 L1839.00 1439.37 L1841.75 1400.92 L1842.75 1384.82 L1843.50 1360.20 L1846.00 1237.03 L1846.50 1216.21 L1847.00 1204.69 L1847.25 1202.49 L1847.50 1201.63 L1847.75 1201.37 L1848.00 1201.34 L1848.25 1201.45 L1848.50 1201.91 L1848.75 1203.26 L1849.00 1206.34 L1849.50 1220.40 L1853.00 1397.90 L1853.50 1418.50 L1853.75 1425.45 L1854.00 1430.04 L1854.50 1434.87 L1857.75 1453.27 L1858.50 1456.42 L1859.00 1457.38 L1859.50 1457.87 L1862.50 1460.23 L1863.00 1460.54 L1863.50 1460.65 L1864.25 1460.52 L1870.00 1458.98 L1875.00 1457.20 L1875.50 1456.67 L1875.75 1456.14 L1876.25 1454.46 L1878.50 1444.55 L1879.00 1441.77 L1879.50 1436.05 L1880.25 1416.75 L1886.00 1220.08 L1886.50 1209.30 L1886.75 1206.59 L1887.00 1205.28 L1887.25 1204.79 L1887.50 1204.64 L1887.75 1204.64 L1888.00 1204.79 L1888.25 1205.33 L1888.50 1206.80 L1888.75 1209.97 L1889.00 1215.47 L1889.25 1223.39 L1893.25 1404.80 L1894.00 1432.35 L1894.25 1437.45 L1894.50 1440.55 L1894.75 1442.39 L1895.25 1444.72 L1897.25 1452.70 L1897.75 1454.26 L1898.00 1454.78 L1898.50 1455.37 L1903.50 1458.32 L1904.25 1458.66 L1904.75 1458.63 L1905.25 1458.39 L1909.25 1455.70 L1909.75 1455.23 L1910.25 1454.12 L1910.75 1451.82 L1913.00 1437.20 L1913.50 1433.23 L1914.00 1425.74 L1914.50 1411.18 L1917.75 1274.13 L1918.50 1246.09 L1918.75 1240.04 L1919.00 1236.29 L1919.25 1234.41 L1919.50 1233.68 L1919.75 1233.46 L1920.00 1233.43 L1920.25 1233.53 L1920.50 1233.91 L1920.75 1235.05 L1921.00 1237.64 L1921.50 1249.46 L1925.00 1398.97 L1925.75 1424.45 L1926.00 1429.26 L1926.50 1434.57 L1929.75 1454.35 L1930.50 1458.17 L1931.25 1460.23 L1939.25 1474.83 L1940.00 1476.02 L1940.50 1476.56 L1948.75 1483.05 L1949.75 1483.71 L1950.75 1483.96 L1963.00 1485.76" fill="none" stroke="#c51f28" stroke-width="3.3" stroke-linejoin="miter" stroke-miterlimit="3"/>
<text class="tb" transform="translate(24.97 68.00) scale(1 1.011)" font-size="53.06">A</text>
<text class="tb" transform="translate(24.49 862.50) scale(1 1.031)" font-size="52.46">B</text>
<text class="t" transform="translate(324.10 136.26) scale(1 1.069)" font-size="50.65">UV</text>
<text class="t" transform="translate(319.88 466.06) scale(1 1.056)" font-size="51.10" style="fill:#d42329">TIC</text>
<text class="t" transform="translate(350.10 897.26) scale(1 1.069)" font-size="50.65">UV</text>
<text class="t" transform="translate(345.87 1247.21) scale(1 1.061)" font-size="51.26" style="fill:#d42329">TIC</text>
<text class="t" x="149.21" y="64.44" font-size="39.50">10</text>
<text class="t" x="506.12" y="169.02" font-size="39.50">15</text>
<text class="t" x="945.32" y="148.59" font-size="39.50">20</text>
<text class="t" x="1150.38" y="155.34" font-size="39.50">25</text>
<text class="t" x="1306.81" y="155.09" font-size="39.50">30</text>
<text class="t" x="1495.85" y="150.59" font-size="39.50">40</text>
<text class="t" x="1626.77" y="153.59" font-size="39.50">50</text>
<text class="t" x="1717.30" y="153.59" font-size="39.50">60</text>
<text class="t" x="940.57" y="874.39" font-size="39.50">20</text>
<text class="t" x="1302.31" y="864.04" font-size="39.50">30</text>
<text class="t" x="1489.35" y="864.04" font-size="39.50">40</text>
<text class="t" x="1621.77" y="859.39" font-size="39.50">50</text>
<text class="t" x="1705.10" y="860.84" font-size="39.50">60</text>
<text class="t" x="1775.90" y="917.14" font-size="39.50">70</text>
<text class="t" x="1827.06" y="892.09" font-size="39.50">80</text>
<text class="t" x="1873.63" y="896.59" font-size="39.50">90</text>
<text class="t" x="1903.33" y="934.39" font-size="39.50">100</text>
<text class="t" x="127.78" y="741.64" font-size="35.00">16</text>
<text class="t" x="127.78" y="1543.29" font-size="35.00">16</text>
<text class="t" x="293.35" y="741.64" font-size="35.00">20</text>
<text class="t" x="293.35" y="1543.29" font-size="35.00">20</text>
<text class="t" x="452.17" y="741.82" font-size="35.00">24</text>
<text class="t" x="452.17" y="1543.47" font-size="35.00">24</text>
<text class="t" x="613.92" y="741.64" font-size="35.00">28</text>
<text class="t" x="613.92" y="1543.29" font-size="35.00">28</text>
<text class="t" x="775.50" y="741.64" font-size="35.00">32</text>
<text class="t" x="775.50" y="1543.29" font-size="35.00">32</text>
<text class="t" x="934.64" y="741.64" font-size="35.00">36</text>
<text class="t" x="934.64" y="1543.29" font-size="35.00">36</text>
<text class="t" x="1102.07" y="741.64" font-size="35.00">40</text>
<text class="t" x="1102.07" y="1543.29" font-size="35.00">40</text>
<text class="t" x="1262.39" y="741.64" font-size="35.00">44</text>
<text class="t" x="1262.39" y="1543.29" font-size="35.00">44</text>
<text class="t" x="1422.14" y="741.64" font-size="35.00">48</text>
<text class="t" x="1422.14" y="1543.29" font-size="35.00">48</text>
<text class="t" x="1584.46" y="741.64" font-size="35.00">52</text>
<text class="t" x="1584.46" y="1543.29" font-size="35.00">52</text>
<text class="t" x="1745.61" y="741.64" font-size="35.00">56</text>
<text class="t" x="1745.61" y="1543.29" font-size="35.00">56</text>
<text class="t" x="1911.08" y="741.64" font-size="35.00">60</text>
<text class="t" x="1911.08" y="1543.29" font-size="35.00">60</text>
<text class="tj" x="899.61" y="802.16" font-size="36.20">保持時間（分）</text>
<text class="tj" x="959.61" y="1599.96" font-size="36.20">保持時間（分）</text>
</svg></body></html>
